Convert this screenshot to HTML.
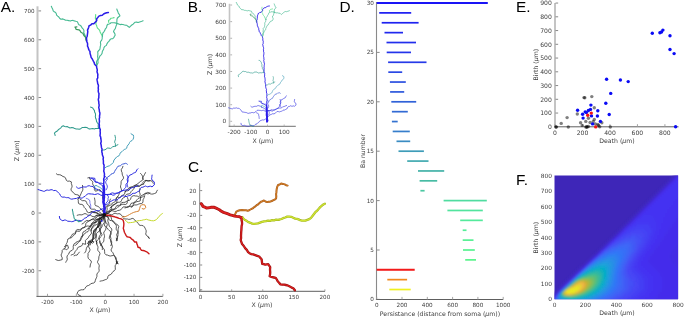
<!DOCTYPE html>
<html lang="en"><head><meta charset="utf-8"><title>Figure</title>
<style>html,body{margin:0;padding:0;background:#fff}svg{display:block}text{font-family:"DejaVu Sans","Liberation Sans",sans-serif}.pl{font-family:"Liberation Sans",sans-serif}</style>
</head><body>
<svg width="685" height="318" viewBox="0 0 685 318">
<rect width="685" height="318" fill="#fff"/>
<text class="pl" x="0.8" y="11.7" font-size="15.4" fill="#000">A.</text>
<text class="pl" x="187.7" y="11.6" font-size="15.4" fill="#000">B.</text>
<text class="pl" x="188" y="171.9" font-size="15.4" fill="#000">C.</text>
<text class="pl" x="339.5" y="11.7" font-size="15.4" fill="#000">D.</text>
<text class="pl" x="516" y="11.7" font-size="15.4" fill="#000">E.</text>
<text class="pl" x="516" y="185" font-size="15.4" fill="#000">F.</text>
<rect x="36.50" y="6.30" width="2" height="290.60" fill="#c4c4c4"/>
<line x1="36.50" y1="296.40" x2="162.80" y2="296.40" stroke="#5e5e5e" stroke-width="1"/>
<line x1="47.50" y1="296.40" x2="47.50" y2="293.80" stroke="#9a9a9a" stroke-width="0.9"/>
<text x="47.50" y="304.40" font-size="5.6" text-anchor="middle" fill="#3c3c3c">-200</text>
<line x1="76.35" y1="296.40" x2="76.35" y2="293.80" stroke="#9a9a9a" stroke-width="0.9"/>
<text x="76.35" y="304.40" font-size="5.6" text-anchor="middle" fill="#3c3c3c">-100</text>
<line x1="105.20" y1="296.40" x2="105.20" y2="293.80" stroke="#9a9a9a" stroke-width="0.9"/>
<text x="105.20" y="304.40" font-size="5.6" text-anchor="middle" fill="#3c3c3c">0</text>
<line x1="134.05" y1="296.40" x2="134.05" y2="293.80" stroke="#9a9a9a" stroke-width="0.9"/>
<text x="134.05" y="304.40" font-size="5.6" text-anchor="middle" fill="#3c3c3c">100</text>
<line x1="162.90" y1="296.40" x2="162.90" y2="293.80" stroke="#9a9a9a" stroke-width="0.9"/>
<text x="162.90" y="304.40" font-size="5.6" text-anchor="middle" fill="#3c3c3c">200</text>
<line x1="38.50" y1="10.91" x2="41.10" y2="10.91" stroke="#6a6a6a" stroke-width="0.8"/>
<text x="34.70" y="12.93" font-size="5.6" text-anchor="end" fill="#3c3c3c">700</text>
<line x1="38.50" y1="39.78" x2="41.10" y2="39.78" stroke="#6a6a6a" stroke-width="0.8"/>
<text x="34.70" y="41.80" font-size="5.6" text-anchor="end" fill="#3c3c3c">600</text>
<line x1="38.50" y1="68.65" x2="41.10" y2="68.65" stroke="#6a6a6a" stroke-width="0.8"/>
<text x="34.70" y="70.67" font-size="5.6" text-anchor="end" fill="#3c3c3c">500</text>
<line x1="38.50" y1="97.52" x2="41.10" y2="97.52" stroke="#6a6a6a" stroke-width="0.8"/>
<text x="34.70" y="99.54" font-size="5.6" text-anchor="end" fill="#3c3c3c">400</text>
<line x1="38.50" y1="126.39" x2="41.10" y2="126.39" stroke="#6a6a6a" stroke-width="0.8"/>
<text x="34.70" y="128.41" font-size="5.6" text-anchor="end" fill="#3c3c3c">300</text>
<line x1="38.50" y1="155.26" x2="41.10" y2="155.26" stroke="#6a6a6a" stroke-width="0.8"/>
<text x="34.70" y="157.28" font-size="5.6" text-anchor="end" fill="#3c3c3c">200</text>
<line x1="38.50" y1="184.13" x2="41.10" y2="184.13" stroke="#6a6a6a" stroke-width="0.8"/>
<text x="34.70" y="186.15" font-size="5.6" text-anchor="end" fill="#3c3c3c">100</text>
<line x1="38.50" y1="213.00" x2="41.10" y2="213.00" stroke="#6a6a6a" stroke-width="0.8"/>
<text x="34.70" y="215.02" font-size="5.6" text-anchor="end" fill="#3c3c3c">0</text>
<line x1="38.50" y1="241.87" x2="41.10" y2="241.87" stroke="#6a6a6a" stroke-width="0.8"/>
<text x="34.70" y="243.89" font-size="5.6" text-anchor="end" fill="#3c3c3c">-100</text>
<line x1="38.50" y1="270.74" x2="41.10" y2="270.74" stroke="#6a6a6a" stroke-width="0.8"/>
<text x="34.70" y="272.76" font-size="5.6" text-anchor="end" fill="#3c3c3c">-200</text>
<text x="100.00" y="311.60" font-size="6.2" text-anchor="middle" fill="#3c3c3c">X (<tspan font-style="italic">μ</tspan>m)</text>
<text x="18.70" y="150.80" font-size="6.2" text-anchor="middle" fill="#3c3c3c" transform="rotate(-90 18.70 150.80)">Z (<tspan font-style="italic">μ</tspan>m)</text>
<rect x="228.70" y="3.80" width="1.6" height="123.00" fill="#c4c4c4"/>
<line x1="228.70" y1="126.30" x2="295.80" y2="126.30" stroke="#707070" stroke-width="1"/>
<line x1="234.14" y1="126.30" x2="234.14" y2="124.50" stroke="#b0b0b0" stroke-width="0.9"/>
<text x="234.14" y="134.30" font-size="5.8" text-anchor="middle" fill="#3c3c3c">-200</text>
<line x1="250.82" y1="126.30" x2="250.82" y2="124.50" stroke="#b0b0b0" stroke-width="0.9"/>
<text x="250.82" y="134.30" font-size="5.8" text-anchor="middle" fill="#3c3c3c">-100</text>
<line x1="267.50" y1="126.30" x2="267.50" y2="124.50" stroke="#b0b0b0" stroke-width="0.9"/>
<text x="267.50" y="134.30" font-size="5.8" text-anchor="middle" fill="#3c3c3c">0</text>
<line x1="284.18" y1="126.30" x2="284.18" y2="124.50" stroke="#b0b0b0" stroke-width="0.9"/>
<text x="284.18" y="134.30" font-size="5.8" text-anchor="middle" fill="#3c3c3c">100</text>
<line x1="230.30" y1="5.03" x2="232.10" y2="5.03" stroke="#a0a0a0" stroke-width="0.8"/>
<text x="226.30" y="7.12" font-size="5.8" text-anchor="end" fill="#3c3c3c">700</text>
<line x1="230.30" y1="21.64" x2="232.10" y2="21.64" stroke="#a0a0a0" stroke-width="0.8"/>
<text x="226.30" y="23.73" font-size="5.8" text-anchor="end" fill="#3c3c3c">600</text>
<line x1="230.30" y1="38.25" x2="232.10" y2="38.25" stroke="#a0a0a0" stroke-width="0.8"/>
<text x="226.30" y="40.34" font-size="5.8" text-anchor="end" fill="#3c3c3c">500</text>
<line x1="230.30" y1="54.86" x2="232.10" y2="54.86" stroke="#a0a0a0" stroke-width="0.8"/>
<text x="226.30" y="56.95" font-size="5.8" text-anchor="end" fill="#3c3c3c">400</text>
<line x1="230.30" y1="71.47" x2="232.10" y2="71.47" stroke="#a0a0a0" stroke-width="0.8"/>
<text x="226.30" y="73.56" font-size="5.8" text-anchor="end" fill="#3c3c3c">300</text>
<line x1="230.30" y1="88.08" x2="232.10" y2="88.08" stroke="#a0a0a0" stroke-width="0.8"/>
<text x="226.30" y="90.17" font-size="5.8" text-anchor="end" fill="#3c3c3c">200</text>
<line x1="230.30" y1="104.69" x2="232.10" y2="104.69" stroke="#a0a0a0" stroke-width="0.8"/>
<text x="226.30" y="106.78" font-size="5.8" text-anchor="end" fill="#3c3c3c">100</text>
<line x1="230.30" y1="121.30" x2="232.10" y2="121.30" stroke="#a0a0a0" stroke-width="0.8"/>
<text x="226.30" y="123.39" font-size="5.8" text-anchor="end" fill="#3c3c3c">0</text>
<text x="263.00" y="142.90" font-size="6.2" text-anchor="middle" fill="#3c3c3c">X (<tspan font-style="italic">μ</tspan>m)</text>
<text x="211.80" y="64.40" font-size="6.2" text-anchor="middle" fill="#3c3c3c" transform="rotate(-90 211.80 64.40)">Z (<tspan font-style="italic">μ</tspan>m)</text>
<rect x="199.00" y="183.40" width="1.2" height="108.40" fill="#9a9a9a"/>
<line x1="199.00" y1="291.30" x2="325.00" y2="291.30" stroke="#5e5e5e" stroke-width="1"/>
<line x1="200.60" y1="291.30" x2="200.60" y2="289.30" stroke="#9a9a9a" stroke-width="0.9"/>
<text x="200.60" y="299.30" font-size="5.6" text-anchor="middle" fill="#3c3c3c">0</text>
<line x1="231.68" y1="291.30" x2="231.68" y2="289.30" stroke="#9a9a9a" stroke-width="0.9"/>
<text x="231.68" y="299.30" font-size="5.6" text-anchor="middle" fill="#3c3c3c">50</text>
<line x1="262.75" y1="291.30" x2="262.75" y2="289.30" stroke="#9a9a9a" stroke-width="0.9"/>
<text x="262.75" y="299.30" font-size="5.6" text-anchor="middle" fill="#3c3c3c">100</text>
<line x1="293.82" y1="291.30" x2="293.82" y2="289.30" stroke="#9a9a9a" stroke-width="0.9"/>
<text x="293.82" y="299.30" font-size="5.6" text-anchor="middle" fill="#3c3c3c">150</text>
<line x1="324.90" y1="291.30" x2="324.90" y2="289.30" stroke="#9a9a9a" stroke-width="0.9"/>
<text x="324.90" y="299.30" font-size="5.6" text-anchor="middle" fill="#3c3c3c">200</text>
<line x1="200.20" y1="190.60" x2="202.20" y2="190.60" stroke="#6a6a6a" stroke-width="0.8"/>
<text x="196.40" y="192.62" font-size="5.6" text-anchor="end" fill="#3c3c3c">20</text>
<line x1="200.20" y1="203.00" x2="202.20" y2="203.00" stroke="#6a6a6a" stroke-width="0.8"/>
<text x="196.40" y="205.02" font-size="5.6" text-anchor="end" fill="#3c3c3c">0</text>
<line x1="200.20" y1="215.40" x2="202.20" y2="215.40" stroke="#6a6a6a" stroke-width="0.8"/>
<text x="196.40" y="217.42" font-size="5.6" text-anchor="end" fill="#3c3c3c">-20</text>
<line x1="200.20" y1="227.80" x2="202.20" y2="227.80" stroke="#6a6a6a" stroke-width="0.8"/>
<text x="196.40" y="229.82" font-size="5.6" text-anchor="end" fill="#3c3c3c">-40</text>
<line x1="200.20" y1="240.20" x2="202.20" y2="240.20" stroke="#6a6a6a" stroke-width="0.8"/>
<text x="196.40" y="242.22" font-size="5.6" text-anchor="end" fill="#3c3c3c">-60</text>
<line x1="200.20" y1="252.60" x2="202.20" y2="252.60" stroke="#6a6a6a" stroke-width="0.8"/>
<text x="196.40" y="254.62" font-size="5.6" text-anchor="end" fill="#3c3c3c">-80</text>
<line x1="200.20" y1="265.00" x2="202.20" y2="265.00" stroke="#6a6a6a" stroke-width="0.8"/>
<text x="196.40" y="267.02" font-size="5.6" text-anchor="end" fill="#3c3c3c">-100</text>
<line x1="200.20" y1="277.40" x2="202.20" y2="277.40" stroke="#6a6a6a" stroke-width="0.8"/>
<text x="196.40" y="279.42" font-size="5.6" text-anchor="end" fill="#3c3c3c">-120</text>
<line x1="200.20" y1="289.80" x2="202.20" y2="289.80" stroke="#6a6a6a" stroke-width="0.8"/>
<text x="196.40" y="291.82" font-size="5.6" text-anchor="end" fill="#3c3c3c">-140</text>
<text x="262.00" y="307.00" font-size="6.2" text-anchor="middle" fill="#3c3c3c">X (<tspan font-style="italic">μ</tspan>m)</text>
<text x="181.60" y="236.80" font-size="6.2" text-anchor="middle" fill="#3c3c3c" transform="rotate(-90 181.60 236.80)">Z (<tspan font-style="italic">μ</tspan>m)</text>
<rect x="375.95" y="2.00" width="1.1" height="298.00" fill="#8a8a8a"/>
<line x1="375.95" y1="299.50" x2="503.20" y2="299.50" stroke="#5e5e5e" stroke-width="1"/>
<line x1="376.70" y1="299.50" x2="376.70" y2="296.90" stroke="#9a9a9a" stroke-width="0.9"/>
<text x="376.70" y="307.10" font-size="5.7" text-anchor="middle" fill="#3c3c3c">0</text>
<line x1="402.00" y1="299.50" x2="402.00" y2="296.90" stroke="#9a9a9a" stroke-width="0.9"/>
<text x="402.00" y="307.10" font-size="5.7" text-anchor="middle" fill="#3c3c3c">200</text>
<line x1="427.30" y1="299.50" x2="427.30" y2="296.90" stroke="#9a9a9a" stroke-width="0.9"/>
<text x="427.30" y="307.10" font-size="5.7" text-anchor="middle" fill="#3c3c3c">400</text>
<line x1="452.60" y1="299.50" x2="452.60" y2="296.90" stroke="#9a9a9a" stroke-width="0.9"/>
<text x="452.60" y="307.10" font-size="5.7" text-anchor="middle" fill="#3c3c3c">600</text>
<line x1="477.90" y1="299.50" x2="477.90" y2="296.90" stroke="#9a9a9a" stroke-width="0.9"/>
<text x="477.90" y="307.10" font-size="5.7" text-anchor="middle" fill="#3c3c3c">800</text>
<line x1="503.20" y1="299.50" x2="503.20" y2="296.90" stroke="#9a9a9a" stroke-width="0.9"/>
<text x="503.20" y="307.10" font-size="5.7" text-anchor="middle" fill="#3c3c3c">1000</text>
<line x1="377.05" y1="299.40" x2="379.65" y2="299.40" stroke="#6a6a6a" stroke-width="0.8"/>
<text x="373.90" y="301.45" font-size="5.7" text-anchor="end" fill="#3c3c3c">0</text>
<line x1="377.05" y1="250.00" x2="379.65" y2="250.00" stroke="#6a6a6a" stroke-width="0.8"/>
<text x="373.90" y="252.05" font-size="5.7" text-anchor="end" fill="#3c3c3c">5</text>
<line x1="377.05" y1="200.60" x2="379.65" y2="200.60" stroke="#6a6a6a" stroke-width="0.8"/>
<text x="373.90" y="202.65" font-size="5.7" text-anchor="end" fill="#3c3c3c">10</text>
<line x1="377.05" y1="151.20" x2="379.65" y2="151.20" stroke="#6a6a6a" stroke-width="0.8"/>
<text x="373.90" y="153.25" font-size="5.7" text-anchor="end" fill="#3c3c3c">15</text>
<line x1="377.05" y1="101.80" x2="379.65" y2="101.80" stroke="#6a6a6a" stroke-width="0.8"/>
<text x="373.90" y="103.85" font-size="5.7" text-anchor="end" fill="#3c3c3c">20</text>
<line x1="377.05" y1="52.40" x2="379.65" y2="52.40" stroke="#6a6a6a" stroke-width="0.8"/>
<text x="373.90" y="54.45" font-size="5.7" text-anchor="end" fill="#3c3c3c">25</text>
<line x1="377.05" y1="3.00" x2="379.65" y2="3.00" stroke="#6a6a6a" stroke-width="0.8"/>
<text x="373.90" y="5.05" font-size="5.7" text-anchor="end" fill="#3c3c3c">30</text>
<text x="440.00" y="315.80" font-size="6.2" text-anchor="middle" fill="#3c3c3c">Persistance (distance from soma (<tspan font-style="italic">μ</tspan>m))</text>
<text x="364.50" y="151.00" font-size="6.2" text-anchor="middle" fill="#3c3c3c" transform="rotate(-90 364.50 151.00)">Ba number</text>
<rect x="376.7" y="2.00" width="111.1" height="2.0" fill="#1a14f5"/>
<rect x="379.2" y="12.03" width="32.0" height="1.7" fill="#1c1cf2"/>
<rect x="381.7" y="21.91" width="36.9" height="1.7" fill="#1e22f0"/>
<rect x="384.5" y="31.79" width="18.5" height="1.7" fill="#2028ee"/>
<rect x="386.5" y="41.67" width="29.5" height="1.7" fill="#222eec"/>
<rect x="386.7" y="51.55" width="24.3" height="1.7" fill="#2434ea"/>
<rect x="388.1" y="61.43" width="38.4" height="1.7" fill="#263ae8"/>
<rect x="388.3" y="71.31" width="13.9" height="1.7" fill="#2a48e4"/>
<rect x="389.9" y="81.19" width="15.9" height="1.7" fill="#2c50e0"/>
<rect x="390.1" y="91.07" width="14.1" height="1.7" fill="#2e58dc"/>
<rect x="391.3" y="100.95" width="24.9" height="1.7" fill="#3062d8"/>
<rect x="391.9" y="110.83" width="15.9" height="1.7" fill="#326ad4"/>
<rect x="391.9" y="120.71" width="5.8" height="1.7" fill="#3472d0"/>
<rect x="392.7" y="130.59" width="17.1" height="1.7" fill="#367ecb"/>
<rect x="396.5" y="140.47" width="13.7" height="1.7" fill="#3a8cc2"/>
<rect x="398.5" y="150.35" width="25.4" height="1.7" fill="#3e9cb8"/>
<rect x="407.2" y="160.23" width="21.3" height="1.7" fill="#42aab0"/>
<rect x="418.0" y="170.11" width="26.2" height="1.7" fill="#44b2a8"/>
<rect x="419.6" y="179.99" width="17.6" height="1.7" fill="#48bca4"/>
<rect x="420.4" y="189.87" width="4.2" height="1.7" fill="#4cc8a2"/>
<rect x="443.6" y="199.75" width="43.2" height="1.7" fill="#50dca0"/>
<rect x="447.4" y="209.63" width="35.4" height="1.7" fill="#52e49e"/>
<rect x="460.2" y="219.51" width="22.6" height="1.7" fill="#54ea9c"/>
<rect x="462.7" y="229.39" width="3.8" height="1.7" fill="#56ee98"/>
<rect x="462.7" y="239.27" width="10.8" height="1.7" fill="#58f094"/>
<rect x="463.0" y="249.15" width="11.8" height="1.7" fill="#58f290"/>
<rect x="465.2" y="259.03" width="10.8" height="1.7" fill="#5af48c"/>
<rect x="376.7" y="268.76" width="38.0" height="2.0" fill="#f21a1a"/>
<rect x="387.3" y="278.79" width="19.8" height="1.7" fill="#f08a1e"/>
<rect x="389.3" y="288.67" width="21.4" height="1.7" fill="#f0f01e"/>
<rect x="554.45" y="3.00" width="1.1" height="124.30" fill="#959595"/>
<line x1="554.45" y1="126.80" x2="678.50" y2="126.80" stroke="#5e5e5e" stroke-width="1"/>
<line x1="555.00" y1="126.80" x2="555.00" y2="124.20" stroke="#9a9a9a" stroke-width="0.9"/>
<text x="555.00" y="135.10" font-size="6.1" text-anchor="middle" fill="#3c3c3c">0</text>
<line x1="582.48" y1="126.80" x2="582.48" y2="124.20" stroke="#9a9a9a" stroke-width="0.9"/>
<text x="582.48" y="135.10" font-size="6.1" text-anchor="middle" fill="#3c3c3c">200</text>
<line x1="609.96" y1="126.80" x2="609.96" y2="124.20" stroke="#9a9a9a" stroke-width="0.9"/>
<text x="609.96" y="135.10" font-size="6.1" text-anchor="middle" fill="#3c3c3c">400</text>
<line x1="637.44" y1="126.80" x2="637.44" y2="124.20" stroke="#9a9a9a" stroke-width="0.9"/>
<text x="637.44" y="135.10" font-size="6.1" text-anchor="middle" fill="#3c3c3c">600</text>
<line x1="664.92" y1="126.80" x2="664.92" y2="124.20" stroke="#9a9a9a" stroke-width="0.9"/>
<text x="664.92" y="135.10" font-size="6.1" text-anchor="middle" fill="#3c3c3c">800</text>
<line x1="555.55" y1="126.80" x2="558.15" y2="126.80" stroke="#6a6a6a" stroke-width="0.8"/>
<text x="551.80" y="129.00" font-size="6.1" text-anchor="end" fill="#3c3c3c">0</text>
<line x1="555.55" y1="113.05" x2="558.15" y2="113.05" stroke="#6a6a6a" stroke-width="0.8"/>
<text x="551.80" y="115.25" font-size="6.1" text-anchor="end" fill="#3c3c3c">100</text>
<line x1="555.55" y1="99.30" x2="558.15" y2="99.30" stroke="#6a6a6a" stroke-width="0.8"/>
<text x="551.80" y="101.50" font-size="6.1" text-anchor="end" fill="#3c3c3c">200</text>
<line x1="555.55" y1="85.55" x2="558.15" y2="85.55" stroke="#6a6a6a" stroke-width="0.8"/>
<text x="551.80" y="87.75" font-size="6.1" text-anchor="end" fill="#3c3c3c">300</text>
<line x1="555.55" y1="71.80" x2="558.15" y2="71.80" stroke="#6a6a6a" stroke-width="0.8"/>
<text x="551.80" y="74.00" font-size="6.1" text-anchor="end" fill="#3c3c3c">400</text>
<line x1="555.55" y1="58.05" x2="558.15" y2="58.05" stroke="#6a6a6a" stroke-width="0.8"/>
<text x="551.80" y="60.25" font-size="6.1" text-anchor="end" fill="#3c3c3c">500</text>
<line x1="555.55" y1="44.30" x2="558.15" y2="44.30" stroke="#6a6a6a" stroke-width="0.8"/>
<text x="551.80" y="46.50" font-size="6.1" text-anchor="end" fill="#3c3c3c">600</text>
<line x1="555.55" y1="30.55" x2="558.15" y2="30.55" stroke="#6a6a6a" stroke-width="0.8"/>
<text x="551.80" y="32.75" font-size="6.1" text-anchor="end" fill="#3c3c3c">700</text>
<line x1="555.55" y1="16.80" x2="558.15" y2="16.80" stroke="#6a6a6a" stroke-width="0.8"/>
<text x="551.80" y="19.00" font-size="6.1" text-anchor="end" fill="#3c3c3c">800</text>
<line x1="555.55" y1="3.05" x2="558.15" y2="3.05" stroke="#6a6a6a" stroke-width="0.8"/>
<text x="551.80" y="5.25" font-size="6.1" text-anchor="end" fill="#3c3c3c">900</text>
<text x="617.00" y="143.20" font-size="6.2" text-anchor="middle" fill="#3c3c3c">Death (<tspan font-style="italic">μ</tspan>m)</text>
<text x="538.30" y="64.70" font-size="6.2" text-anchor="middle" fill="#3c3c3c" transform="rotate(-90 538.30 64.70)">Birth (<tspan font-style="italic">μ</tspan>m)</text>
<circle cx="584.0" cy="97.6" r="1.7" fill="#000" fill-opacity="0.5"/>
<circle cx="584.8" cy="97.7" r="1.7" fill="#000" fill-opacity="0.5"/>
<circle cx="591.8" cy="96.6" r="1.7" fill="#000" fill-opacity="0.5"/>
<circle cx="594.3" cy="107.7" r="1.7" fill="#000" fill-opacity="0.5"/>
<circle cx="577.3" cy="114" r="1.7" fill="#000" fill-opacity="0.5"/>
<circle cx="567.1" cy="117.6" r="1.7" fill="#000" fill-opacity="0.5"/>
<circle cx="561.2" cy="123.4" r="1.7" fill="#000" fill-opacity="0.5"/>
<circle cx="556.1" cy="127" r="1.7" fill="#000" fill-opacity="0.5"/>
<circle cx="556.1" cy="127" r="1.7" fill="#000" fill-opacity="0.5"/>
<circle cx="568.3" cy="127" r="1.7" fill="#000" fill-opacity="0.5"/>
<circle cx="580.6" cy="122.7" r="1.7" fill="#000" fill-opacity="0.5"/>
<circle cx="582.3" cy="125.4" r="1.7" fill="#000" fill-opacity="0.5"/>
<circle cx="585.8" cy="121.4" r="1.7" fill="#000" fill-opacity="0.5"/>
<circle cx="588.4" cy="118.3" r="1.7" fill="#000" fill-opacity="0.5"/>
<circle cx="594.3" cy="119.4" r="1.7" fill="#000" fill-opacity="0.5"/>
<circle cx="593.3" cy="121.4" r="1.7" fill="#000" fill-opacity="0.5"/>
<circle cx="590.1" cy="122.5" r="1.7" fill="#000" fill-opacity="0.5"/>
<circle cx="586.9" cy="127" r="1.7" fill="#000" fill-opacity="0.5"/>
<circle cx="586.9" cy="127" r="1.7" fill="#000" fill-opacity="0.5"/>
<circle cx="588.4" cy="126.5" r="1.7" fill="#000" fill-opacity="0.5"/>
<circle cx="585.8" cy="127" r="1.7" fill="#000" fill-opacity="0.5"/>
<circle cx="595.4" cy="124" r="1.7" fill="#000" fill-opacity="0.5"/>
<circle cx="598" cy="124.4" r="1.7" fill="#000" fill-opacity="0.5"/>
<circle cx="599.7" cy="126.8" r="1.7" fill="#000" fill-opacity="0.5"/>
<circle cx="601.8" cy="122.8" r="1.7" fill="#000" fill-opacity="0.5"/>
<circle cx="610.3" cy="127" r="1.7" fill="#000" fill-opacity="0.5"/>
<circle cx="598.5" cy="125.4" r="1.7" fill="#000" fill-opacity="0.5"/>
<circle cx="610.7" cy="93.4" r="1.7" fill="#0a0af5"/>
<circle cx="605.8" cy="103.2" r="1.7" fill="#0a0af5"/>
<circle cx="609.2" cy="114.5" r="1.7" fill="#0a0af5"/>
<circle cx="590.9" cy="105.1" r="1.7" fill="#0a0af5"/>
<circle cx="577.6" cy="110.2" r="1.7" fill="#0a0af5"/>
<circle cx="590.5" cy="109.4" r="1.7" fill="#0a0af5"/>
<circle cx="588.4" cy="110.5" r="1.7" fill="#0a0af5"/>
<circle cx="585.2" cy="111.9" r="1.7" fill="#0a0af5"/>
<circle cx="586.4" cy="112.6" r="1.7" fill="#0a0af5"/>
<circle cx="597.8" cy="110.7" r="1.7" fill="#0a0af5"/>
<circle cx="582.6" cy="114.3" r="1.7" fill="#0a0af5"/>
<circle cx="591.5" cy="115.9" r="1.7" fill="#0a0af5"/>
<circle cx="597.4" cy="116" r="1.7" fill="#0a0af5"/>
<circle cx="583.1" cy="118.1" r="1.7" fill="#0a0af5"/>
<circle cx="600.4" cy="121.4" r="1.7" fill="#0a0af5"/>
<circle cx="592.6" cy="123.9" r="1.7" fill="#0a0af5"/>
<circle cx="652.3" cy="33.2" r="1.7" fill="#0a0af5"/>
<circle cx="659.9" cy="32.8" r="1.7" fill="#0a0af5"/>
<circle cx="661.5" cy="32" r="1.7" fill="#0a0af5"/>
<circle cx="662.9" cy="30.1" r="1.7" fill="#0a0af5"/>
<circle cx="670" cy="35.8" r="1.7" fill="#0a0af5"/>
<circle cx="670" cy="49.5" r="1.7" fill="#0a0af5"/>
<circle cx="674.1" cy="53.6" r="1.7" fill="#0a0af5"/>
<circle cx="675.6" cy="126.8" r="1.7" fill="#0a0af5"/>
<circle cx="606.6" cy="79.3" r="1.7" fill="#0a0af5"/>
<circle cx="620.4" cy="80" r="1.7" fill="#0a0af5"/>
<circle cx="628.2" cy="81.6" r="1.7" fill="#0a0af5"/>
<circle cx="591.3" cy="113.1" r="1.7" fill="#f51414"/>
<circle cx="587.7" cy="115.3" r="1.7" fill="#f51414"/>
<circle cx="595.7" cy="126.9" r="1.7" fill="#f51414"/>
<defs><clipPath id="hc"><rect x="554.5" y="175.6" width="123.6" height="123.7"/></clipPath><filter id="hb" x="-5%" y="-5%" width="110%" height="110%"><feGaussianBlur stdDeviation="0.9"/></filter></defs>
<g clip-path="url(#hc)"><rect x="550.5" y="171.6" width="131.6" height="131.7" fill="#3e26b8"/><g filter="url(#hb)">
<rect x="550.5" y="301.3" width="2.3" height="2.3" fill="#4739f7"/>
<rect x="552.5" y="301.3" width="2.3" height="2.3" fill="#4654fb"/>
<rect x="554.5" y="301.3" width="2.3" height="2.3" fill="#406bfc"/>
<rect x="556.5" y="301.3" width="2.3" height="2.3" fill="#3b71fc"/>
<rect x="558.5" y="301.3" width="2.3" height="2.3" fill="#3677fc"/>
<rect x="560.5" y="301.3" width="2.3" height="2.3" fill="#317efb"/>
<rect x="562.5" y="301.3" width="2.3" height="2.3" fill="#2e85f8"/>
<rect x="564.5" y="301.3" width="2.3" height="2.3" fill="#2d8cf3"/>
<rect x="566.5" y="301.3" width="4.3" height="2.3" fill="#2c90f0"/>
<rect x="570.5" y="301.3" width="4.3" height="2.3" fill="#2a93ed"/>
<rect x="574.5" y="301.3" width="4.3" height="2.3" fill="#2c90f0"/>
<rect x="578.5" y="301.3" width="4.3" height="2.3" fill="#2d8cf3"/>
<rect x="582.5" y="301.3" width="2.3" height="2.3" fill="#2d89f5"/>
<rect x="584.5" y="301.3" width="2.3" height="2.3" fill="#2e85f8"/>
<rect x="586.5" y="301.3" width="2.3" height="2.3" fill="#2f82fa"/>
<rect x="588.5" y="301.3" width="2.3" height="2.3" fill="#317efb"/>
<rect x="590.5" y="301.3" width="2.3" height="2.3" fill="#3677fc"/>
<rect x="592.5" y="301.3" width="2.3" height="2.3" fill="#3874fc"/>
<rect x="594.5" y="301.3" width="2.3" height="2.3" fill="#3b71fc"/>
<rect x="596.5" y="301.3" width="2.3" height="2.3" fill="#3e6efc"/>
<rect x="598.5" y="301.3" width="2.3" height="2.3" fill="#4265fc"/>
<rect x="600.5" y="301.3" width="2.3" height="2.3" fill="#435ffb"/>
<rect x="602.5" y="301.3" width="4.3" height="2.3" fill="#445afb"/>
<rect x="606.5" y="301.3" width="2.3" height="2.3" fill="#4654fb"/>
<rect x="608.5" y="301.3" width="2.3" height="2.3" fill="#474efa"/>
<rect x="610.5" y="301.3" width="4.3" height="2.3" fill="#4849fa"/>
<rect x="614.5" y="301.3" width="4.3" height="2.3" fill="#4744f9"/>
<rect x="618.5" y="301.3" width="6.3" height="2.3" fill="#473ff8"/>
<rect x="624.5" y="301.3" width="6.3" height="2.3" fill="#4739f7"/>
<rect x="630.5" y="301.3" width="8.3" height="2.3" fill="#4634f6"/>
<rect x="638.5" y="301.3" width="10.3" height="2.3" fill="#4630f4"/>
<rect x="648.5" y="301.3" width="22.3" height="2.3" fill="#452fee"/>
<rect x="670.5" y="301.3" width="12.3" height="2.3" fill="#452de8"/>
<rect x="550.5" y="299.3" width="2.3" height="2.3" fill="#442ce2"/>
<rect x="552.5" y="299.3" width="2.3" height="2.3" fill="#4744f9"/>
<rect x="554.5" y="299.3" width="2.3" height="2.3" fill="#406bfc"/>
<rect x="556.5" y="299.3" width="2.3" height="2.3" fill="#347afd"/>
<rect x="558.5" y="299.3" width="2.3" height="2.3" fill="#2d89f5"/>
<rect x="560.5" y="299.3" width="2.3" height="2.3" fill="#2a93ed"/>
<rect x="562.5" y="299.3" width="2.3" height="2.3" fill="#269ae9"/>
<rect x="564.5" y="299.3" width="2.3" height="2.3" fill="#23a0e5"/>
<rect x="566.5" y="299.3" width="2.3" height="2.3" fill="#1fa6e2"/>
<rect x="568.5" y="299.3" width="6.3" height="2.3" fill="#1da9e0"/>
<rect x="574.5" y="299.3" width="2.3" height="2.3" fill="#1fa6e2"/>
<rect x="576.5" y="299.3" width="2.3" height="2.3" fill="#21a3e3"/>
<rect x="578.5" y="299.3" width="2.3" height="2.3" fill="#23a0e5"/>
<rect x="580.5" y="299.3" width="2.3" height="2.3" fill="#259de7"/>
<rect x="582.5" y="299.3" width="2.3" height="2.3" fill="#269ae9"/>
<rect x="584.5" y="299.3" width="2.3" height="2.3" fill="#2797eb"/>
<rect x="586.5" y="299.3" width="2.3" height="2.3" fill="#2a93ed"/>
<rect x="588.5" y="299.3" width="2.3" height="2.3" fill="#2d8cf3"/>
<rect x="590.5" y="299.3" width="2.3" height="2.3" fill="#2d89f5"/>
<rect x="592.5" y="299.3" width="2.3" height="2.3" fill="#2f82fa"/>
<rect x="594.5" y="299.3" width="2.3" height="2.3" fill="#317efb"/>
<rect x="596.5" y="299.3" width="2.3" height="2.3" fill="#3677fc"/>
<rect x="598.5" y="299.3" width="2.3" height="2.3" fill="#3874fc"/>
<rect x="600.5" y="299.3" width="2.3" height="2.3" fill="#3e6efc"/>
<rect x="602.5" y="299.3" width="2.3" height="2.3" fill="#406bfc"/>
<rect x="604.5" y="299.3" width="2.3" height="2.3" fill="#4265fc"/>
<rect x="606.5" y="299.3" width="2.3" height="2.3" fill="#435ffb"/>
<rect x="608.5" y="299.3" width="2.3" height="2.3" fill="#445afb"/>
<rect x="610.5" y="299.3" width="2.3" height="2.3" fill="#4654fb"/>
<rect x="612.5" y="299.3" width="4.3" height="2.3" fill="#474efa"/>
<rect x="616.5" y="299.3" width="4.3" height="2.3" fill="#4849fa"/>
<rect x="620.5" y="299.3" width="4.3" height="2.3" fill="#4744f9"/>
<rect x="624.5" y="299.3" width="4.3" height="2.3" fill="#473ff8"/>
<rect x="628.5" y="299.3" width="6.3" height="2.3" fill="#4739f7"/>
<rect x="634.5" y="299.3" width="8.3" height="2.3" fill="#4634f6"/>
<rect x="642.5" y="299.3" width="8.3" height="2.3" fill="#4630f4"/>
<rect x="650.5" y="299.3" width="22.3" height="2.3" fill="#452fee"/>
<rect x="672.5" y="299.3" width="10.3" height="2.3" fill="#452de8"/>
<rect x="550.5" y="297.3" width="2.3" height="2.3" fill="#4028c9"/>
<rect x="552.5" y="297.3" width="2.3" height="2.3" fill="#452de8"/>
<rect x="554.5" y="297.3" width="2.3" height="2.3" fill="#4654fb"/>
<rect x="556.5" y="297.3" width="2.3" height="2.3" fill="#317efb"/>
<rect x="558.5" y="297.3" width="2.3" height="2.3" fill="#2797eb"/>
<rect x="560.5" y="297.3" width="2.3" height="2.3" fill="#1fa6e2"/>
<rect x="562.5" y="297.3" width="2.3" height="2.3" fill="#12b1d7"/>
<rect x="564.5" y="297.3" width="2.3" height="2.3" fill="#02b7cb"/>
<rect x="566.5" y="297.3" width="2.3" height="2.3" fill="#03bbc2"/>
<rect x="568.5" y="297.3" width="6.3" height="2.3" fill="#0abdbe"/>
<rect x="574.5" y="297.3" width="2.3" height="2.3" fill="#03bbc2"/>
<rect x="576.5" y="297.3" width="2.3" height="2.3" fill="#02b7cb"/>
<rect x="578.5" y="297.3" width="2.3" height="2.3" fill="#06b5cf"/>
<rect x="580.5" y="297.3" width="2.3" height="2.3" fill="#12b1d7"/>
<rect x="582.5" y="297.3" width="2.3" height="2.3" fill="#17aeda"/>
<rect x="584.5" y="297.3" width="2.3" height="2.3" fill="#1da9e0"/>
<rect x="586.5" y="297.3" width="2.3" height="2.3" fill="#21a3e3"/>
<rect x="588.5" y="297.3" width="2.3" height="2.3" fill="#259de7"/>
<rect x="590.5" y="297.3" width="2.3" height="2.3" fill="#269ae9"/>
<rect x="592.5" y="297.3" width="2.3" height="2.3" fill="#2a93ed"/>
<rect x="594.5" y="297.3" width="2.3" height="2.3" fill="#2d8cf3"/>
<rect x="596.5" y="297.3" width="2.3" height="2.3" fill="#2e85f8"/>
<rect x="598.5" y="297.3" width="2.3" height="2.3" fill="#317efb"/>
<rect x="600.5" y="297.3" width="2.3" height="2.3" fill="#3677fc"/>
<rect x="602.5" y="297.3" width="2.3" height="2.3" fill="#3874fc"/>
<rect x="604.5" y="297.3" width="2.3" height="2.3" fill="#3e6efc"/>
<rect x="606.5" y="297.3" width="2.3" height="2.3" fill="#406bfc"/>
<rect x="608.5" y="297.3" width="2.3" height="2.3" fill="#4265fc"/>
<rect x="610.5" y="297.3" width="2.3" height="2.3" fill="#435ffb"/>
<rect x="612.5" y="297.3" width="2.3" height="2.3" fill="#445afb"/>
<rect x="614.5" y="297.3" width="4.3" height="2.3" fill="#4654fb"/>
<rect x="618.5" y="297.3" width="2.3" height="2.3" fill="#474efa"/>
<rect x="620.5" y="297.3" width="4.3" height="2.3" fill="#4849fa"/>
<rect x="624.5" y="297.3" width="4.3" height="2.3" fill="#4744f9"/>
<rect x="628.5" y="297.3" width="4.3" height="2.3" fill="#473ff8"/>
<rect x="632.5" y="297.3" width="6.3" height="2.3" fill="#4739f7"/>
<rect x="638.5" y="297.3" width="6.3" height="2.3" fill="#4634f6"/>
<rect x="644.5" y="297.3" width="10.3" height="2.3" fill="#4630f4"/>
<rect x="654.5" y="297.3" width="20.3" height="2.3" fill="#452fee"/>
<rect x="674.5" y="297.3" width="8.3" height="2.3" fill="#452de8"/>
<rect x="552.5" y="295.3" width="2.3" height="2.3" fill="#4028c9"/>
<rect x="554.5" y="295.3" width="2.3" height="2.3" fill="#4630f4"/>
<rect x="556.5" y="295.3" width="2.3" height="2.3" fill="#3b71fc"/>
<rect x="558.5" y="295.3" width="2.3" height="2.3" fill="#23a0e5"/>
<rect x="560.5" y="295.3" width="2.3" height="2.3" fill="#02b7cb"/>
<rect x="562.5" y="295.3" width="2.3" height="2.3" fill="#28c2ab"/>
<rect x="564.5" y="295.3" width="2.3" height="2.3" fill="#3dc990"/>
<rect x="566.5" y="295.3" width="2.3" height="2.3" fill="#4bcb84"/>
<rect x="568.5" y="295.3" width="4.3" height="2.3" fill="#53cc7d"/>
<rect x="572.5" y="295.3" width="2.3" height="2.3" fill="#4bcb84"/>
<rect x="574.5" y="295.3" width="2.3" height="2.3" fill="#3dc990"/>
<rect x="576.5" y="295.3" width="2.3" height="2.3" fill="#34c79c"/>
<rect x="578.5" y="295.3" width="2.3" height="2.3" fill="#28c2ab"/>
<rect x="580.5" y="295.3" width="2.3" height="2.3" fill="#1ac0b4"/>
<rect x="582.5" y="295.3" width="2.3" height="2.3" fill="#0abdbe"/>
<rect x="584.5" y="295.3" width="2.3" height="2.3" fill="#02b7cb"/>
<rect x="586.5" y="295.3" width="2.3" height="2.3" fill="#0cb3d3"/>
<rect x="588.5" y="295.3" width="2.3" height="2.3" fill="#17aeda"/>
<rect x="590.5" y="295.3" width="2.3" height="2.3" fill="#1da9e0"/>
<rect x="592.5" y="295.3" width="2.3" height="2.3" fill="#21a3e3"/>
<rect x="594.5" y="295.3" width="2.3" height="2.3" fill="#269ae9"/>
<rect x="596.5" y="295.3" width="2.3" height="2.3" fill="#2a93ed"/>
<rect x="598.5" y="295.3" width="2.3" height="2.3" fill="#2d8cf3"/>
<rect x="600.5" y="295.3" width="2.3" height="2.3" fill="#2e85f8"/>
<rect x="602.5" y="295.3" width="2.3" height="2.3" fill="#317efb"/>
<rect x="604.5" y="295.3" width="2.3" height="2.3" fill="#3677fc"/>
<rect x="606.5" y="295.3" width="2.3" height="2.3" fill="#3874fc"/>
<rect x="608.5" y="295.3" width="2.3" height="2.3" fill="#3e6efc"/>
<rect x="610.5" y="295.3" width="2.3" height="2.3" fill="#406bfc"/>
<rect x="612.5" y="295.3" width="2.3" height="2.3" fill="#4265fc"/>
<rect x="614.5" y="295.3" width="2.3" height="2.3" fill="#435ffb"/>
<rect x="616.5" y="295.3" width="2.3" height="2.3" fill="#445afb"/>
<rect x="618.5" y="295.3" width="4.3" height="2.3" fill="#4654fb"/>
<rect x="622.5" y="295.3" width="2.3" height="2.3" fill="#474efa"/>
<rect x="624.5" y="295.3" width="4.3" height="2.3" fill="#4849fa"/>
<rect x="628.5" y="295.3" width="4.3" height="2.3" fill="#4744f9"/>
<rect x="632.5" y="295.3" width="4.3" height="2.3" fill="#473ff8"/>
<rect x="636.5" y="295.3" width="4.3" height="2.3" fill="#4739f7"/>
<rect x="640.5" y="295.3" width="6.3" height="2.3" fill="#4634f6"/>
<rect x="646.5" y="295.3" width="10.3" height="2.3" fill="#4630f4"/>
<rect x="656.5" y="295.3" width="20.3" height="2.3" fill="#452fee"/>
<rect x="676.5" y="295.3" width="6.3" height="2.3" fill="#452de8"/>
<rect x="552.5" y="293.3" width="2.3" height="2.3" fill="#3f27c1"/>
<rect x="554.5" y="293.3" width="2.3" height="2.3" fill="#422ad2"/>
<rect x="556.5" y="293.3" width="2.3" height="2.3" fill="#473ff8"/>
<rect x="558.5" y="293.3" width="2.3" height="2.3" fill="#2c90f0"/>
<rect x="560.5" y="293.3" width="2.3" height="2.3" fill="#28c2ab"/>
<rect x="562.5" y="293.3" width="2.3" height="2.3" fill="#94ca4a"/>
<rect x="564.5" y="293.3" width="2.3" height="2.3" fill="#debc2a"/>
<rect x="566.5" y="293.3" width="4.3" height="2.3" fill="#f7ba3c"/>
<rect x="570.5" y="293.3" width="2.3" height="2.3" fill="#ebba32"/>
<rect x="572.5" y="293.3" width="2.3" height="2.3" fill="#d0bf27"/>
<rect x="574.5" y="293.3" width="2.3" height="2.3" fill="#afc637"/>
<rect x="576.5" y="293.3" width="2.3" height="2.3" fill="#8acb51"/>
<rect x="578.5" y="293.3" width="2.3" height="2.3" fill="#64cd6f"/>
<rect x="580.5" y="293.3" width="2.3" height="2.3" fill="#4bcb84"/>
<rect x="582.5" y="293.3" width="2.3" height="2.3" fill="#34c79c"/>
<rect x="584.5" y="293.3" width="2.3" height="2.3" fill="#28c2ab"/>
<rect x="586.5" y="293.3" width="2.3" height="2.3" fill="#1ac0b4"/>
<rect x="588.5" y="293.3" width="2.3" height="2.3" fill="#03bbc2"/>
<rect x="590.5" y="293.3" width="2.3" height="2.3" fill="#06b5cf"/>
<rect x="592.5" y="293.3" width="2.3" height="2.3" fill="#12b1d7"/>
<rect x="594.5" y="293.3" width="2.3" height="2.3" fill="#1da9e0"/>
<rect x="596.5" y="293.3" width="2.3" height="2.3" fill="#23a0e5"/>
<rect x="598.5" y="293.3" width="2.3" height="2.3" fill="#269ae9"/>
<rect x="600.5" y="293.3" width="2.3" height="2.3" fill="#2c90f0"/>
<rect x="602.5" y="293.3" width="2.3" height="2.3" fill="#2d89f5"/>
<rect x="604.5" y="293.3" width="2.3" height="2.3" fill="#2f82fa"/>
<rect x="606.5" y="293.3" width="2.3" height="2.3" fill="#347afd"/>
<rect x="608.5" y="293.3" width="2.3" height="2.3" fill="#3874fc"/>
<rect x="610.5" y="293.3" width="2.3" height="2.3" fill="#3b71fc"/>
<rect x="612.5" y="293.3" width="2.3" height="2.3" fill="#3e6efc"/>
<rect x="614.5" y="293.3" width="2.3" height="2.3" fill="#4265fc"/>
<rect x="616.5" y="293.3" width="4.3" height="2.3" fill="#435ffb"/>
<rect x="620.5" y="293.3" width="2.3" height="2.3" fill="#445afb"/>
<rect x="622.5" y="293.3" width="2.3" height="2.3" fill="#4654fb"/>
<rect x="624.5" y="293.3" width="4.3" height="2.3" fill="#474efa"/>
<rect x="628.5" y="293.3" width="2.3" height="2.3" fill="#4849fa"/>
<rect x="630.5" y="293.3" width="4.3" height="2.3" fill="#4744f9"/>
<rect x="634.5" y="293.3" width="4.3" height="2.3" fill="#473ff8"/>
<rect x="638.5" y="293.3" width="6.3" height="2.3" fill="#4739f7"/>
<rect x="644.5" y="293.3" width="6.3" height="2.3" fill="#4634f6"/>
<rect x="650.5" y="293.3" width="8.3" height="2.3" fill="#4630f4"/>
<rect x="658.5" y="293.3" width="20.3" height="2.3" fill="#452fee"/>
<rect x="678.5" y="293.3" width="4.3" height="2.3" fill="#452de8"/>
<rect x="554.5" y="291.3" width="2.3" height="2.3" fill="#3f27c1"/>
<rect x="556.5" y="291.3" width="2.3" height="2.3" fill="#422ad2"/>
<rect x="558.5" y="291.3" width="2.3" height="2.3" fill="#474efa"/>
<rect x="560.5" y="291.3" width="2.3" height="2.3" fill="#17aeda"/>
<rect x="562.5" y="291.3" width="2.3" height="2.3" fill="#b8c431"/>
<rect x="564.5" y="291.3" width="2.3" height="2.3" fill="#f5e327"/>
<rect x="566.5" y="291.3" width="2.3" height="2.3" fill="#f9fb15"/>
<rect x="568.5" y="291.3" width="2.3" height="2.3" fill="#f9fb15"/>
<rect x="570.5" y="291.3" width="2.3" height="2.3" fill="#f9fb15"/>
<rect x="572.5" y="291.3" width="2.3" height="2.3" fill="#f8f719"/>
<rect x="574.5" y="291.3" width="2.3" height="2.3" fill="#f9d62d"/>
<rect x="576.5" y="291.3" width="2.3" height="2.3" fill="#f7ba3c"/>
<rect x="578.5" y="291.3" width="2.3" height="2.3" fill="#d0bf27"/>
<rect x="580.5" y="291.3" width="2.3" height="2.3" fill="#9dc943"/>
<rect x="582.5" y="291.3" width="2.3" height="2.3" fill="#77cc60"/>
<rect x="584.5" y="291.3" width="2.3" height="2.3" fill="#53cc7d"/>
<rect x="586.5" y="291.3" width="2.3" height="2.3" fill="#38c896"/>
<rect x="588.5" y="291.3" width="2.3" height="2.3" fill="#2cc4a6"/>
<rect x="590.5" y="291.3" width="2.3" height="2.3" fill="#1ac0b4"/>
<rect x="592.5" y="291.3" width="2.3" height="2.3" fill="#03bbc2"/>
<rect x="594.5" y="291.3" width="2.3" height="2.3" fill="#06b5cf"/>
<rect x="596.5" y="291.3" width="2.3" height="2.3" fill="#17aeda"/>
<rect x="598.5" y="291.3" width="2.3" height="2.3" fill="#1fa6e2"/>
<rect x="600.5" y="291.3" width="2.3" height="2.3" fill="#259de7"/>
<rect x="602.5" y="291.3" width="2.3" height="2.3" fill="#2a93ed"/>
<rect x="604.5" y="291.3" width="2.3" height="2.3" fill="#2d8cf3"/>
<rect x="606.5" y="291.3" width="2.3" height="2.3" fill="#2e85f8"/>
<rect x="608.5" y="291.3" width="2.3" height="2.3" fill="#317efb"/>
<rect x="610.5" y="291.3" width="2.3" height="2.3" fill="#3677fc"/>
<rect x="612.5" y="291.3" width="2.3" height="2.3" fill="#3b71fc"/>
<rect x="614.5" y="291.3" width="2.3" height="2.3" fill="#3e6efc"/>
<rect x="616.5" y="291.3" width="2.3" height="2.3" fill="#406bfc"/>
<rect x="618.5" y="291.3" width="2.3" height="2.3" fill="#4265fc"/>
<rect x="620.5" y="291.3" width="2.3" height="2.3" fill="#435ffb"/>
<rect x="622.5" y="291.3" width="2.3" height="2.3" fill="#445afb"/>
<rect x="624.5" y="291.3" width="2.3" height="2.3" fill="#4654fb"/>
<rect x="626.5" y="291.3" width="4.3" height="2.3" fill="#474efa"/>
<rect x="630.5" y="291.3" width="2.3" height="2.3" fill="#4849fa"/>
<rect x="632.5" y="291.3" width="4.3" height="2.3" fill="#4744f9"/>
<rect x="636.5" y="291.3" width="4.3" height="2.3" fill="#473ff8"/>
<rect x="640.5" y="291.3" width="6.3" height="2.3" fill="#4739f7"/>
<rect x="646.5" y="291.3" width="4.3" height="2.3" fill="#4634f6"/>
<rect x="650.5" y="291.3" width="8.3" height="2.3" fill="#4630f4"/>
<rect x="658.5" y="291.3" width="20.3" height="2.3" fill="#452fee"/>
<rect x="678.5" y="291.3" width="4.3" height="2.3" fill="#452de8"/>
<rect x="556.5" y="289.3" width="2.3" height="2.3" fill="#3f27c1"/>
<rect x="558.5" y="289.3" width="2.3" height="2.3" fill="#432bda"/>
<rect x="560.5" y="289.3" width="2.3" height="2.3" fill="#445afb"/>
<rect x="562.5" y="289.3" width="2.3" height="2.3" fill="#01b9c6"/>
<rect x="564.5" y="289.3" width="2.3" height="2.3" fill="#e5bb2d"/>
<rect x="566.5" y="289.3" width="2.3" height="2.3" fill="#f9fb15"/>
<rect x="568.5" y="289.3" width="2.3" height="2.3" fill="#f9fb15"/>
<rect x="570.5" y="289.3" width="2.3" height="2.3" fill="#f9fb15"/>
<rect x="572.5" y="289.3" width="2.3" height="2.3" fill="#f9fb15"/>
<rect x="574.5" y="289.3" width="2.3" height="2.3" fill="#f9fb15"/>
<rect x="576.5" y="289.3" width="2.3" height="2.3" fill="#f6ef20"/>
<rect x="578.5" y="289.3" width="2.3" height="2.3" fill="#fdce31"/>
<rect x="580.5" y="289.3" width="2.3" height="2.3" fill="#ebba32"/>
<rect x="582.5" y="289.3" width="2.3" height="2.3" fill="#c0c32d"/>
<rect x="584.5" y="289.3" width="2.3" height="2.3" fill="#94ca4a"/>
<rect x="586.5" y="289.3" width="2.3" height="2.3" fill="#64cd6f"/>
<rect x="588.5" y="289.3" width="2.3" height="2.3" fill="#4bcb84"/>
<rect x="590.5" y="289.3" width="2.3" height="2.3" fill="#34c79c"/>
<rect x="592.5" y="289.3" width="2.3" height="2.3" fill="#28c2ab"/>
<rect x="594.5" y="289.3" width="2.3" height="2.3" fill="#0abdbe"/>
<rect x="596.5" y="289.3" width="2.3" height="2.3" fill="#02b7cb"/>
<rect x="598.5" y="289.3" width="2.3" height="2.3" fill="#12b1d7"/>
<rect x="600.5" y="289.3" width="2.3" height="2.3" fill="#1fa6e2"/>
<rect x="602.5" y="289.3" width="2.3" height="2.3" fill="#259de7"/>
<rect x="604.5" y="289.3" width="2.3" height="2.3" fill="#2797eb"/>
<rect x="606.5" y="289.3" width="2.3" height="2.3" fill="#2d8cf3"/>
<rect x="608.5" y="289.3" width="2.3" height="2.3" fill="#2e85f8"/>
<rect x="610.5" y="289.3" width="2.3" height="2.3" fill="#317efb"/>
<rect x="612.5" y="289.3" width="2.3" height="2.3" fill="#3677fc"/>
<rect x="614.5" y="289.3" width="2.3" height="2.3" fill="#3b71fc"/>
<rect x="616.5" y="289.3" width="2.3" height="2.3" fill="#3e6efc"/>
<rect x="618.5" y="289.3" width="2.3" height="2.3" fill="#406bfc"/>
<rect x="620.5" y="289.3" width="2.3" height="2.3" fill="#4265fc"/>
<rect x="622.5" y="289.3" width="2.3" height="2.3" fill="#435ffb"/>
<rect x="624.5" y="289.3" width="2.3" height="2.3" fill="#445afb"/>
<rect x="626.5" y="289.3" width="2.3" height="2.3" fill="#4654fb"/>
<rect x="628.5" y="289.3" width="4.3" height="2.3" fill="#474efa"/>
<rect x="632.5" y="289.3" width="2.3" height="2.3" fill="#4849fa"/>
<rect x="634.5" y="289.3" width="4.3" height="2.3" fill="#4744f9"/>
<rect x="638.5" y="289.3" width="4.3" height="2.3" fill="#473ff8"/>
<rect x="642.5" y="289.3" width="4.3" height="2.3" fill="#4739f7"/>
<rect x="646.5" y="289.3" width="6.3" height="2.3" fill="#4634f6"/>
<rect x="652.5" y="289.3" width="8.3" height="2.3" fill="#4630f4"/>
<rect x="660.5" y="289.3" width="20.3" height="2.3" fill="#452fee"/>
<rect x="680.5" y="289.3" width="2.3" height="2.3" fill="#452de8"/>
<rect x="558.5" y="287.3" width="2.3" height="2.3" fill="#3f27c1"/>
<rect x="560.5" y="287.3" width="2.3" height="2.3" fill="#432bda"/>
<rect x="562.5" y="287.3" width="2.3" height="2.3" fill="#445afb"/>
<rect x="564.5" y="287.3" width="2.3" height="2.3" fill="#0cb3d3"/>
<rect x="566.5" y="287.3" width="2.3" height="2.3" fill="#afc637"/>
<rect x="568.5" y="287.3" width="2.3" height="2.3" fill="#fbd22f"/>
<rect x="570.5" y="287.3" width="2.3" height="2.3" fill="#f9fb15"/>
<rect x="572.5" y="287.3" width="2.3" height="2.3" fill="#f9fb15"/>
<rect x="574.5" y="287.3" width="2.3" height="2.3" fill="#f9fb15"/>
<rect x="576.5" y="287.3" width="2.3" height="2.3" fill="#f9fb15"/>
<rect x="578.5" y="287.3" width="2.3" height="2.3" fill="#f5eb23"/>
<rect x="580.5" y="287.3" width="2.3" height="2.3" fill="#fdce31"/>
<rect x="582.5" y="287.3" width="2.3" height="2.3" fill="#ebba32"/>
<rect x="584.5" y="287.3" width="2.3" height="2.3" fill="#c8c129"/>
<rect x="586.5" y="287.3" width="2.3" height="2.3" fill="#9dc943"/>
<rect x="588.5" y="287.3" width="2.3" height="2.3" fill="#77cc60"/>
<rect x="590.5" y="287.3" width="2.3" height="2.3" fill="#53cc7d"/>
<rect x="592.5" y="287.3" width="2.3" height="2.3" fill="#38c896"/>
<rect x="594.5" y="287.3" width="2.3" height="2.3" fill="#2cc4a6"/>
<rect x="596.5" y="287.3" width="2.3" height="2.3" fill="#12beb9"/>
<rect x="598.5" y="287.3" width="2.3" height="2.3" fill="#02b7cb"/>
<rect x="600.5" y="287.3" width="2.3" height="2.3" fill="#12b1d7"/>
<rect x="602.5" y="287.3" width="2.3" height="2.3" fill="#1fa6e2"/>
<rect x="604.5" y="287.3" width="2.3" height="2.3" fill="#259de7"/>
<rect x="606.5" y="287.3" width="2.3" height="2.3" fill="#2a93ed"/>
<rect x="608.5" y="287.3" width="2.3" height="2.3" fill="#2d8cf3"/>
<rect x="610.5" y="287.3" width="2.3" height="2.3" fill="#2f82fa"/>
<rect x="612.5" y="287.3" width="2.3" height="2.3" fill="#347afd"/>
<rect x="614.5" y="287.3" width="2.3" height="2.3" fill="#3677fc"/>
<rect x="616.5" y="287.3" width="2.3" height="2.3" fill="#3b71fc"/>
<rect x="618.5" y="287.3" width="2.3" height="2.3" fill="#3e6efc"/>
<rect x="620.5" y="287.3" width="2.3" height="2.3" fill="#406bfc"/>
<rect x="622.5" y="287.3" width="2.3" height="2.3" fill="#4265fc"/>
<rect x="624.5" y="287.3" width="2.3" height="2.3" fill="#435ffb"/>
<rect x="626.5" y="287.3" width="2.3" height="2.3" fill="#445afb"/>
<rect x="628.5" y="287.3" width="2.3" height="2.3" fill="#4654fb"/>
<rect x="630.5" y="287.3" width="2.3" height="2.3" fill="#474efa"/>
<rect x="632.5" y="287.3" width="4.3" height="2.3" fill="#4849fa"/>
<rect x="636.5" y="287.3" width="4.3" height="2.3" fill="#4744f9"/>
<rect x="640.5" y="287.3" width="4.3" height="2.3" fill="#473ff8"/>
<rect x="644.5" y="287.3" width="4.3" height="2.3" fill="#4739f7"/>
<rect x="648.5" y="287.3" width="6.3" height="2.3" fill="#4634f6"/>
<rect x="654.5" y="287.3" width="8.3" height="2.3" fill="#4630f4"/>
<rect x="662.5" y="287.3" width="18.3" height="2.3" fill="#452fee"/>
<rect x="680.5" y="287.3" width="2.3" height="2.3" fill="#452de8"/>
<rect x="560.5" y="285.3" width="2.3" height="2.3" fill="#3f27c1"/>
<rect x="562.5" y="285.3" width="2.3" height="2.3" fill="#432bda"/>
<rect x="564.5" y="285.3" width="2.3" height="2.3" fill="#4654fb"/>
<rect x="566.5" y="285.3" width="2.3" height="2.3" fill="#1da9e0"/>
<rect x="568.5" y="285.3" width="2.3" height="2.3" fill="#64cd6f"/>
<rect x="570.5" y="285.3" width="2.3" height="2.3" fill="#e5bb2d"/>
<rect x="572.5" y="285.3" width="2.3" height="2.3" fill="#fdce31"/>
<rect x="574.5" y="285.3" width="2.3" height="2.3" fill="#f5eb23"/>
<rect x="576.5" y="285.3" width="2.3" height="2.3" fill="#f7f31d"/>
<rect x="578.5" y="285.3" width="2.3" height="2.3" fill="#f6ef20"/>
<rect x="580.5" y="285.3" width="2.3" height="2.3" fill="#f7db2b"/>
<rect x="582.5" y="285.3" width="2.3" height="2.3" fill="#febe3c"/>
<rect x="584.5" y="285.3" width="2.3" height="2.3" fill="#debc2a"/>
<rect x="586.5" y="285.3" width="2.3" height="2.3" fill="#b8c431"/>
<rect x="588.5" y="285.3" width="2.3" height="2.3" fill="#94ca4a"/>
<rect x="590.5" y="285.3" width="2.3" height="2.3" fill="#77cc60"/>
<rect x="592.5" y="285.3" width="2.3" height="2.3" fill="#53cc7d"/>
<rect x="594.5" y="285.3" width="2.3" height="2.3" fill="#38c896"/>
<rect x="596.5" y="285.3" width="2.3" height="2.3" fill="#28c2ab"/>
<rect x="598.5" y="285.3" width="2.3" height="2.3" fill="#12beb9"/>
<rect x="600.5" y="285.3" width="2.3" height="2.3" fill="#02b7cb"/>
<rect x="602.5" y="285.3" width="2.3" height="2.3" fill="#17aeda"/>
<rect x="604.5" y="285.3" width="2.3" height="2.3" fill="#1fa6e2"/>
<rect x="606.5" y="285.3" width="2.3" height="2.3" fill="#269ae9"/>
<rect x="608.5" y="285.3" width="2.3" height="2.3" fill="#2c90f0"/>
<rect x="610.5" y="285.3" width="2.3" height="2.3" fill="#2d89f5"/>
<rect x="612.5" y="285.3" width="2.3" height="2.3" fill="#2f82fa"/>
<rect x="614.5" y="285.3" width="2.3" height="2.3" fill="#347afd"/>
<rect x="616.5" y="285.3" width="2.3" height="2.3" fill="#3874fc"/>
<rect x="618.5" y="285.3" width="2.3" height="2.3" fill="#3e6efc"/>
<rect x="620.5" y="285.3" width="2.3" height="2.3" fill="#406bfc"/>
<rect x="622.5" y="285.3" width="2.3" height="2.3" fill="#4265fc"/>
<rect x="624.5" y="285.3" width="2.3" height="2.3" fill="#435ffb"/>
<rect x="626.5" y="285.3" width="2.3" height="2.3" fill="#445afb"/>
<rect x="628.5" y="285.3" width="2.3" height="2.3" fill="#4654fb"/>
<rect x="630.5" y="285.3" width="4.3" height="2.3" fill="#474efa"/>
<rect x="634.5" y="285.3" width="2.3" height="2.3" fill="#4849fa"/>
<rect x="636.5" y="285.3" width="4.3" height="2.3" fill="#4744f9"/>
<rect x="640.5" y="285.3" width="4.3" height="2.3" fill="#473ff8"/>
<rect x="644.5" y="285.3" width="4.3" height="2.3" fill="#4739f7"/>
<rect x="648.5" y="285.3" width="6.3" height="2.3" fill="#4634f6"/>
<rect x="654.5" y="285.3" width="8.3" height="2.3" fill="#4630f4"/>
<rect x="662.5" y="285.3" width="20.3" height="2.3" fill="#452fee"/>
<rect x="562.5" y="283.3" width="2.3" height="2.3" fill="#3f27c1"/>
<rect x="564.5" y="283.3" width="2.3" height="2.3" fill="#432bda"/>
<rect x="566.5" y="283.3" width="2.3" height="2.3" fill="#474efa"/>
<rect x="568.5" y="283.3" width="2.3" height="2.3" fill="#21a3e3"/>
<rect x="570.5" y="283.3" width="2.3" height="2.3" fill="#44ca8a"/>
<rect x="572.5" y="283.3" width="2.3" height="2.3" fill="#c0c32d"/>
<rect x="574.5" y="283.3" width="2.3" height="2.3" fill="#fbbc3d"/>
<rect x="576.5" y="283.3" width="2.3" height="2.3" fill="#f9d62d"/>
<rect x="578.5" y="283.3" width="2.3" height="2.3" fill="#f6df29"/>
<rect x="580.5" y="283.3" width="2.3" height="2.3" fill="#f9d62d"/>
<rect x="582.5" y="283.3" width="2.3" height="2.3" fill="#fec239"/>
<rect x="584.5" y="283.3" width="2.3" height="2.3" fill="#ebba32"/>
<rect x="586.5" y="283.3" width="2.3" height="2.3" fill="#c8c129"/>
<rect x="588.5" y="283.3" width="2.3" height="2.3" fill="#a6c83c"/>
<rect x="590.5" y="283.3" width="2.3" height="2.3" fill="#8acb51"/>
<rect x="592.5" y="283.3" width="2.3" height="2.3" fill="#6dcd67"/>
<rect x="594.5" y="283.3" width="2.3" height="2.3" fill="#4bcb84"/>
<rect x="596.5" y="283.3" width="2.3" height="2.3" fill="#34c79c"/>
<rect x="598.5" y="283.3" width="2.3" height="2.3" fill="#22c1b0"/>
<rect x="600.5" y="283.3" width="2.3" height="2.3" fill="#03bbc2"/>
<rect x="602.5" y="283.3" width="2.3" height="2.3" fill="#0cb3d3"/>
<rect x="604.5" y="283.3" width="2.3" height="2.3" fill="#1aacdd"/>
<rect x="606.5" y="283.3" width="2.3" height="2.3" fill="#23a0e5"/>
<rect x="608.5" y="283.3" width="2.3" height="2.3" fill="#2797eb"/>
<rect x="610.5" y="283.3" width="2.3" height="2.3" fill="#2d8cf3"/>
<rect x="612.5" y="283.3" width="2.3" height="2.3" fill="#2e85f8"/>
<rect x="614.5" y="283.3" width="2.3" height="2.3" fill="#347afd"/>
<rect x="616.5" y="283.3" width="2.3" height="2.3" fill="#3677fc"/>
<rect x="618.5" y="283.3" width="2.3" height="2.3" fill="#3b71fc"/>
<rect x="620.5" y="283.3" width="2.3" height="2.3" fill="#3e6efc"/>
<rect x="622.5" y="283.3" width="2.3" height="2.3" fill="#4265fc"/>
<rect x="624.5" y="283.3" width="2.3" height="2.3" fill="#435ffb"/>
<rect x="626.5" y="283.3" width="2.3" height="2.3" fill="#445afb"/>
<rect x="628.5" y="283.3" width="4.3" height="2.3" fill="#4654fb"/>
<rect x="632.5" y="283.3" width="2.3" height="2.3" fill="#474efa"/>
<rect x="634.5" y="283.3" width="4.3" height="2.3" fill="#4849fa"/>
<rect x="638.5" y="283.3" width="2.3" height="2.3" fill="#4744f9"/>
<rect x="640.5" y="283.3" width="4.3" height="2.3" fill="#473ff8"/>
<rect x="644.5" y="283.3" width="4.3" height="2.3" fill="#4739f7"/>
<rect x="648.5" y="283.3" width="6.3" height="2.3" fill="#4634f6"/>
<rect x="654.5" y="283.3" width="8.3" height="2.3" fill="#4630f4"/>
<rect x="662.5" y="283.3" width="20.3" height="2.3" fill="#452fee"/>
<rect x="564.5" y="281.3" width="2.3" height="2.3" fill="#3f27c1"/>
<rect x="566.5" y="281.3" width="2.3" height="2.3" fill="#432bda"/>
<rect x="568.5" y="281.3" width="2.3" height="2.3" fill="#474efa"/>
<rect x="570.5" y="281.3" width="2.3" height="2.3" fill="#259de7"/>
<rect x="572.5" y="281.3" width="2.3" height="2.3" fill="#34c79c"/>
<rect x="574.5" y="281.3" width="2.3" height="2.3" fill="#9dc943"/>
<rect x="576.5" y="281.3" width="2.3" height="2.3" fill="#e5bb2d"/>
<rect x="578.5" y="281.3" width="2.3" height="2.3" fill="#febe3c"/>
<rect x="580.5" y="281.3" width="2.3" height="2.3" fill="#fec239"/>
<rect x="582.5" y="281.3" width="2.3" height="2.3" fill="#f7ba3c"/>
<rect x="584.5" y="281.3" width="2.3" height="2.3" fill="#debc2a"/>
<rect x="586.5" y="281.3" width="2.3" height="2.3" fill="#c8c129"/>
<rect x="588.5" y="281.3" width="2.3" height="2.3" fill="#afc637"/>
<rect x="590.5" y="281.3" width="2.3" height="2.3" fill="#94ca4a"/>
<rect x="592.5" y="281.3" width="2.3" height="2.3" fill="#77cc60"/>
<rect x="594.5" y="281.3" width="2.3" height="2.3" fill="#5ccc76"/>
<rect x="596.5" y="281.3" width="2.3" height="2.3" fill="#3dc990"/>
<rect x="598.5" y="281.3" width="2.3" height="2.3" fill="#2cc4a6"/>
<rect x="600.5" y="281.3" width="2.3" height="2.3" fill="#12beb9"/>
<rect x="602.5" y="281.3" width="2.3" height="2.3" fill="#02b7cb"/>
<rect x="604.5" y="281.3" width="2.3" height="2.3" fill="#17aeda"/>
<rect x="606.5" y="281.3" width="2.3" height="2.3" fill="#21a3e3"/>
<rect x="608.5" y="281.3" width="2.3" height="2.3" fill="#269ae9"/>
<rect x="610.5" y="281.3" width="2.3" height="2.3" fill="#2c90f0"/>
<rect x="612.5" y="281.3" width="2.3" height="2.3" fill="#2e85f8"/>
<rect x="614.5" y="281.3" width="2.3" height="2.3" fill="#317efb"/>
<rect x="616.5" y="281.3" width="2.3" height="2.3" fill="#3677fc"/>
<rect x="618.5" y="281.3" width="2.3" height="2.3" fill="#3b71fc"/>
<rect x="620.5" y="281.3" width="2.3" height="2.3" fill="#3e6efc"/>
<rect x="622.5" y="281.3" width="2.3" height="2.3" fill="#4265fc"/>
<rect x="624.5" y="281.3" width="2.3" height="2.3" fill="#435ffb"/>
<rect x="626.5" y="281.3" width="2.3" height="2.3" fill="#445afb"/>
<rect x="628.5" y="281.3" width="4.3" height="2.3" fill="#4654fb"/>
<rect x="632.5" y="281.3" width="2.3" height="2.3" fill="#474efa"/>
<rect x="634.5" y="281.3" width="2.3" height="2.3" fill="#4849fa"/>
<rect x="636.5" y="281.3" width="4.3" height="2.3" fill="#4744f9"/>
<rect x="640.5" y="281.3" width="4.3" height="2.3" fill="#473ff8"/>
<rect x="644.5" y="281.3" width="4.3" height="2.3" fill="#4739f7"/>
<rect x="648.5" y="281.3" width="6.3" height="2.3" fill="#4634f6"/>
<rect x="654.5" y="281.3" width="8.3" height="2.3" fill="#4630f4"/>
<rect x="662.5" y="281.3" width="20.3" height="2.3" fill="#452fee"/>
<rect x="566.5" y="279.3" width="2.3" height="2.3" fill="#3f27c1"/>
<rect x="568.5" y="279.3" width="2.3" height="2.3" fill="#422ad2"/>
<rect x="570.5" y="279.3" width="2.3" height="2.3" fill="#4849fa"/>
<rect x="572.5" y="279.3" width="2.3" height="2.3" fill="#2797eb"/>
<rect x="574.5" y="279.3" width="2.3" height="2.3" fill="#28c2ab"/>
<rect x="576.5" y="279.3" width="2.3" height="2.3" fill="#77cc60"/>
<rect x="578.5" y="279.3" width="2.3" height="2.3" fill="#afc637"/>
<rect x="580.5" y="279.3" width="4.3" height="2.3" fill="#c8c129"/>
<rect x="584.5" y="279.3" width="2.3" height="2.3" fill="#c0c32d"/>
<rect x="586.5" y="279.3" width="2.3" height="2.3" fill="#afc637"/>
<rect x="588.5" y="279.3" width="2.3" height="2.3" fill="#9dc943"/>
<rect x="590.5" y="279.3" width="2.3" height="2.3" fill="#8acb51"/>
<rect x="592.5" y="279.3" width="2.3" height="2.3" fill="#77cc60"/>
<rect x="594.5" y="279.3" width="2.3" height="2.3" fill="#5ccc76"/>
<rect x="596.5" y="279.3" width="2.3" height="2.3" fill="#44ca8a"/>
<rect x="598.5" y="279.3" width="2.3" height="2.3" fill="#34c79c"/>
<rect x="600.5" y="279.3" width="2.3" height="2.3" fill="#22c1b0"/>
<rect x="602.5" y="279.3" width="2.3" height="2.3" fill="#03bbc2"/>
<rect x="604.5" y="279.3" width="2.3" height="2.3" fill="#12b1d7"/>
<rect x="606.5" y="279.3" width="2.3" height="2.3" fill="#1da9e0"/>
<rect x="608.5" y="279.3" width="2.3" height="2.3" fill="#259de7"/>
<rect x="610.5" y="279.3" width="2.3" height="2.3" fill="#2a93ed"/>
<rect x="612.5" y="279.3" width="2.3" height="2.3" fill="#2d89f5"/>
<rect x="614.5" y="279.3" width="2.3" height="2.3" fill="#317efb"/>
<rect x="616.5" y="279.3" width="2.3" height="2.3" fill="#3677fc"/>
<rect x="618.5" y="279.3" width="2.3" height="2.3" fill="#3b71fc"/>
<rect x="620.5" y="279.3" width="2.3" height="2.3" fill="#3e6efc"/>
<rect x="622.5" y="279.3" width="2.3" height="2.3" fill="#4265fc"/>
<rect x="624.5" y="279.3" width="2.3" height="2.3" fill="#435ffb"/>
<rect x="626.5" y="279.3" width="2.3" height="2.3" fill="#445afb"/>
<rect x="628.5" y="279.3" width="2.3" height="2.3" fill="#4654fb"/>
<rect x="630.5" y="279.3" width="4.3" height="2.3" fill="#474efa"/>
<rect x="634.5" y="279.3" width="2.3" height="2.3" fill="#4849fa"/>
<rect x="636.5" y="279.3" width="4.3" height="2.3" fill="#4744f9"/>
<rect x="640.5" y="279.3" width="4.3" height="2.3" fill="#473ff8"/>
<rect x="644.5" y="279.3" width="4.3" height="2.3" fill="#4739f7"/>
<rect x="648.5" y="279.3" width="6.3" height="2.3" fill="#4634f6"/>
<rect x="654.5" y="279.3" width="8.3" height="2.3" fill="#4630f4"/>
<rect x="662.5" y="279.3" width="20.3" height="2.3" fill="#452fee"/>
<rect x="568.5" y="277.3" width="2.3" height="2.3" fill="#3f27c1"/>
<rect x="570.5" y="277.3" width="2.3" height="2.3" fill="#422ad2"/>
<rect x="572.5" y="277.3" width="2.3" height="2.3" fill="#4744f9"/>
<rect x="574.5" y="277.3" width="2.3" height="2.3" fill="#2c90f0"/>
<rect x="576.5" y="277.3" width="2.3" height="2.3" fill="#0abdbe"/>
<rect x="578.5" y="277.3" width="2.3" height="2.3" fill="#3dc990"/>
<rect x="580.5" y="277.3" width="2.3" height="2.3" fill="#64cd6f"/>
<rect x="582.5" y="277.3" width="8.3" height="2.3" fill="#81cc59"/>
<rect x="590.5" y="277.3" width="2.3" height="2.3" fill="#77cc60"/>
<rect x="592.5" y="277.3" width="2.3" height="2.3" fill="#6dcd67"/>
<rect x="594.5" y="277.3" width="2.3" height="2.3" fill="#5ccc76"/>
<rect x="596.5" y="277.3" width="2.3" height="2.3" fill="#44ca8a"/>
<rect x="598.5" y="277.3" width="2.3" height="2.3" fill="#34c79c"/>
<rect x="600.5" y="277.3" width="2.3" height="2.3" fill="#22c1b0"/>
<rect x="602.5" y="277.3" width="2.3" height="2.3" fill="#0abdbe"/>
<rect x="604.5" y="277.3" width="2.3" height="2.3" fill="#06b5cf"/>
<rect x="606.5" y="277.3" width="2.3" height="2.3" fill="#1aacdd"/>
<rect x="608.5" y="277.3" width="2.3" height="2.3" fill="#23a0e5"/>
<rect x="610.5" y="277.3" width="2.3" height="2.3" fill="#2a93ed"/>
<rect x="612.5" y="277.3" width="2.3" height="2.3" fill="#2d89f5"/>
<rect x="614.5" y="277.3" width="2.3" height="2.3" fill="#2f82fa"/>
<rect x="616.5" y="277.3" width="2.3" height="2.3" fill="#3677fc"/>
<rect x="618.5" y="277.3" width="2.3" height="2.3" fill="#3b71fc"/>
<rect x="620.5" y="277.3" width="2.3" height="2.3" fill="#406bfc"/>
<rect x="622.5" y="277.3" width="2.3" height="2.3" fill="#4265fc"/>
<rect x="624.5" y="277.3" width="2.3" height="2.3" fill="#435ffb"/>
<rect x="626.5" y="277.3" width="2.3" height="2.3" fill="#445afb"/>
<rect x="628.5" y="277.3" width="2.3" height="2.3" fill="#4654fb"/>
<rect x="630.5" y="277.3" width="2.3" height="2.3" fill="#474efa"/>
<rect x="632.5" y="277.3" width="4.3" height="2.3" fill="#4849fa"/>
<rect x="636.5" y="277.3" width="2.3" height="2.3" fill="#4744f9"/>
<rect x="638.5" y="277.3" width="4.3" height="2.3" fill="#473ff8"/>
<rect x="642.5" y="277.3" width="6.3" height="2.3" fill="#4739f7"/>
<rect x="648.5" y="277.3" width="6.3" height="2.3" fill="#4634f6"/>
<rect x="654.5" y="277.3" width="8.3" height="2.3" fill="#4630f4"/>
<rect x="662.5" y="277.3" width="20.3" height="2.3" fill="#452fee"/>
<rect x="570.5" y="275.3" width="2.3" height="2.3" fill="#3f27c1"/>
<rect x="572.5" y="275.3" width="2.3" height="2.3" fill="#422ad2"/>
<rect x="574.5" y="275.3" width="2.3" height="2.3" fill="#473ff8"/>
<rect x="576.5" y="275.3" width="2.3" height="2.3" fill="#2d89f5"/>
<rect x="578.5" y="275.3" width="2.3" height="2.3" fill="#0cb3d3"/>
<rect x="580.5" y="275.3" width="2.3" height="2.3" fill="#22c1b0"/>
<rect x="582.5" y="275.3" width="2.3" height="2.3" fill="#38c896"/>
<rect x="584.5" y="275.3" width="2.3" height="2.3" fill="#44ca8a"/>
<rect x="586.5" y="275.3" width="2.3" height="2.3" fill="#53cc7d"/>
<rect x="588.5" y="275.3" width="6.3" height="2.3" fill="#5ccc76"/>
<rect x="594.5" y="275.3" width="2.3" height="2.3" fill="#53cc7d"/>
<rect x="596.5" y="275.3" width="2.3" height="2.3" fill="#44ca8a"/>
<rect x="598.5" y="275.3" width="2.3" height="2.3" fill="#34c79c"/>
<rect x="600.5" y="275.3" width="2.3" height="2.3" fill="#28c2ab"/>
<rect x="602.5" y="275.3" width="2.3" height="2.3" fill="#0abdbe"/>
<rect x="604.5" y="275.3" width="2.3" height="2.3" fill="#06b5cf"/>
<rect x="606.5" y="275.3" width="2.3" height="2.3" fill="#1aacdd"/>
<rect x="608.5" y="275.3" width="2.3" height="2.3" fill="#21a3e3"/>
<rect x="610.5" y="275.3" width="2.3" height="2.3" fill="#2797eb"/>
<rect x="612.5" y="275.3" width="2.3" height="2.3" fill="#2d8cf3"/>
<rect x="614.5" y="275.3" width="2.3" height="2.3" fill="#2f82fa"/>
<rect x="616.5" y="275.3" width="2.3" height="2.3" fill="#3677fc"/>
<rect x="618.5" y="275.3" width="2.3" height="2.3" fill="#3b71fc"/>
<rect x="620.5" y="275.3" width="2.3" height="2.3" fill="#406bfc"/>
<rect x="622.5" y="275.3" width="2.3" height="2.3" fill="#4265fc"/>
<rect x="624.5" y="275.3" width="2.3" height="2.3" fill="#445afb"/>
<rect x="626.5" y="275.3" width="2.3" height="2.3" fill="#4654fb"/>
<rect x="628.5" y="275.3" width="2.3" height="2.3" fill="#474efa"/>
<rect x="630.5" y="275.3" width="4.3" height="2.3" fill="#4849fa"/>
<rect x="634.5" y="275.3" width="4.3" height="2.3" fill="#4744f9"/>
<rect x="638.5" y="275.3" width="4.3" height="2.3" fill="#473ff8"/>
<rect x="642.5" y="275.3" width="4.3" height="2.3" fill="#4739f7"/>
<rect x="646.5" y="275.3" width="6.3" height="2.3" fill="#4634f6"/>
<rect x="652.5" y="275.3" width="8.3" height="2.3" fill="#4630f4"/>
<rect x="660.5" y="275.3" width="22.3" height="2.3" fill="#452fee"/>
<rect x="572.5" y="273.3" width="2.3" height="2.3" fill="#3f27c1"/>
<rect x="574.5" y="273.3" width="2.3" height="2.3" fill="#422ad2"/>
<rect x="576.5" y="273.3" width="2.3" height="2.3" fill="#473ff8"/>
<rect x="578.5" y="273.3" width="2.3" height="2.3" fill="#2f82fa"/>
<rect x="580.5" y="273.3" width="2.3" height="2.3" fill="#1aacdd"/>
<rect x="582.5" y="273.3" width="2.3" height="2.3" fill="#03bbc2"/>
<rect x="584.5" y="273.3" width="2.3" height="2.3" fill="#22c1b0"/>
<rect x="586.5" y="273.3" width="2.3" height="2.3" fill="#30c5a1"/>
<rect x="588.5" y="273.3" width="2.3" height="2.3" fill="#38c896"/>
<rect x="590.5" y="273.3" width="6.3" height="2.3" fill="#3dc990"/>
<rect x="596.5" y="273.3" width="2.3" height="2.3" fill="#38c896"/>
<rect x="598.5" y="273.3" width="2.3" height="2.3" fill="#30c5a1"/>
<rect x="600.5" y="273.3" width="2.3" height="2.3" fill="#22c1b0"/>
<rect x="602.5" y="273.3" width="2.3" height="2.3" fill="#0abdbe"/>
<rect x="604.5" y="273.3" width="2.3" height="2.3" fill="#02b7cb"/>
<rect x="606.5" y="273.3" width="2.3" height="2.3" fill="#17aeda"/>
<rect x="608.5" y="273.3" width="2.3" height="2.3" fill="#21a3e3"/>
<rect x="610.5" y="273.3" width="2.3" height="2.3" fill="#269ae9"/>
<rect x="612.5" y="273.3" width="2.3" height="2.3" fill="#2d8cf3"/>
<rect x="614.5" y="273.3" width="2.3" height="2.3" fill="#2f82fa"/>
<rect x="616.5" y="273.3" width="2.3" height="2.3" fill="#3677fc"/>
<rect x="618.5" y="273.3" width="2.3" height="2.3" fill="#3b71fc"/>
<rect x="620.5" y="273.3" width="2.3" height="2.3" fill="#406bfc"/>
<rect x="622.5" y="273.3" width="2.3" height="2.3" fill="#435ffb"/>
<rect x="624.5" y="273.3" width="2.3" height="2.3" fill="#445afb"/>
<rect x="626.5" y="273.3" width="2.3" height="2.3" fill="#4654fb"/>
<rect x="628.5" y="273.3" width="2.3" height="2.3" fill="#474efa"/>
<rect x="630.5" y="273.3" width="2.3" height="2.3" fill="#4849fa"/>
<rect x="632.5" y="273.3" width="4.3" height="2.3" fill="#4744f9"/>
<rect x="636.5" y="273.3" width="4.3" height="2.3" fill="#473ff8"/>
<rect x="640.5" y="273.3" width="4.3" height="2.3" fill="#4739f7"/>
<rect x="644.5" y="273.3" width="6.3" height="2.3" fill="#4634f6"/>
<rect x="650.5" y="273.3" width="10.3" height="2.3" fill="#4630f4"/>
<rect x="660.5" y="273.3" width="20.3" height="2.3" fill="#452fee"/>
<rect x="680.5" y="273.3" width="2.3" height="2.3" fill="#452de8"/>
<rect x="574.5" y="271.3" width="2.3" height="2.3" fill="#3f27c1"/>
<rect x="576.5" y="271.3" width="2.3" height="2.3" fill="#422ad2"/>
<rect x="578.5" y="271.3" width="2.3" height="2.3" fill="#4739f7"/>
<rect x="580.5" y="271.3" width="2.3" height="2.3" fill="#347afd"/>
<rect x="582.5" y="271.3" width="2.3" height="2.3" fill="#21a3e3"/>
<rect x="584.5" y="271.3" width="2.3" height="2.3" fill="#0cb3d3"/>
<rect x="586.5" y="271.3" width="2.3" height="2.3" fill="#03bbc2"/>
<rect x="588.5" y="271.3" width="2.3" height="2.3" fill="#1ac0b4"/>
<rect x="590.5" y="271.3" width="2.3" height="2.3" fill="#28c2ab"/>
<rect x="592.5" y="271.3" width="2.3" height="2.3" fill="#2cc4a6"/>
<rect x="594.5" y="271.3" width="2.3" height="2.3" fill="#30c5a1"/>
<rect x="596.5" y="271.3" width="2.3" height="2.3" fill="#2cc4a6"/>
<rect x="598.5" y="271.3" width="2.3" height="2.3" fill="#28c2ab"/>
<rect x="600.5" y="271.3" width="2.3" height="2.3" fill="#1ac0b4"/>
<rect x="602.5" y="271.3" width="2.3" height="2.3" fill="#0abdbe"/>
<rect x="604.5" y="271.3" width="2.3" height="2.3" fill="#02b7cb"/>
<rect x="606.5" y="271.3" width="2.3" height="2.3" fill="#17aeda"/>
<rect x="608.5" y="271.3" width="2.3" height="2.3" fill="#1fa6e2"/>
<rect x="610.5" y="271.3" width="2.3" height="2.3" fill="#269ae9"/>
<rect x="612.5" y="271.3" width="2.3" height="2.3" fill="#2c90f0"/>
<rect x="614.5" y="271.3" width="2.3" height="2.3" fill="#2e85f8"/>
<rect x="616.5" y="271.3" width="2.3" height="2.3" fill="#347afd"/>
<rect x="618.5" y="271.3" width="2.3" height="2.3" fill="#3b71fc"/>
<rect x="620.5" y="271.3" width="2.3" height="2.3" fill="#406bfc"/>
<rect x="622.5" y="271.3" width="2.3" height="2.3" fill="#435ffb"/>
<rect x="624.5" y="271.3" width="2.3" height="2.3" fill="#445afb"/>
<rect x="626.5" y="271.3" width="2.3" height="2.3" fill="#474efa"/>
<rect x="628.5" y="271.3" width="4.3" height="2.3" fill="#4849fa"/>
<rect x="632.5" y="271.3" width="2.3" height="2.3" fill="#4744f9"/>
<rect x="634.5" y="271.3" width="4.3" height="2.3" fill="#473ff8"/>
<rect x="638.5" y="271.3" width="4.3" height="2.3" fill="#4739f7"/>
<rect x="642.5" y="271.3" width="6.3" height="2.3" fill="#4634f6"/>
<rect x="648.5" y="271.3" width="10.3" height="2.3" fill="#4630f4"/>
<rect x="658.5" y="271.3" width="22.3" height="2.3" fill="#452fee"/>
<rect x="680.5" y="271.3" width="2.3" height="2.3" fill="#452de8"/>
<rect x="576.5" y="269.3" width="2.3" height="2.3" fill="#3f27c1"/>
<rect x="578.5" y="269.3" width="2.3" height="2.3" fill="#422ad2"/>
<rect x="580.5" y="269.3" width="2.3" height="2.3" fill="#4634f6"/>
<rect x="582.5" y="269.3" width="2.3" height="2.3" fill="#3874fc"/>
<rect x="584.5" y="269.3" width="2.3" height="2.3" fill="#269ae9"/>
<rect x="586.5" y="269.3" width="2.3" height="2.3" fill="#1aacdd"/>
<rect x="588.5" y="269.3" width="2.3" height="2.3" fill="#06b5cf"/>
<rect x="590.5" y="269.3" width="2.3" height="2.3" fill="#03bbc2"/>
<rect x="592.5" y="269.3" width="2.3" height="2.3" fill="#12beb9"/>
<rect x="594.5" y="269.3" width="6.3" height="2.3" fill="#1ac0b4"/>
<rect x="600.5" y="269.3" width="2.3" height="2.3" fill="#12beb9"/>
<rect x="602.5" y="269.3" width="2.3" height="2.3" fill="#03bbc2"/>
<rect x="604.5" y="269.3" width="2.3" height="2.3" fill="#06b5cf"/>
<rect x="606.5" y="269.3" width="2.3" height="2.3" fill="#17aeda"/>
<rect x="608.5" y="269.3" width="2.3" height="2.3" fill="#1fa6e2"/>
<rect x="610.5" y="269.3" width="2.3" height="2.3" fill="#259de7"/>
<rect x="612.5" y="269.3" width="2.3" height="2.3" fill="#2c90f0"/>
<rect x="614.5" y="269.3" width="2.3" height="2.3" fill="#2e85f8"/>
<rect x="616.5" y="269.3" width="2.3" height="2.3" fill="#347afd"/>
<rect x="618.5" y="269.3" width="2.3" height="2.3" fill="#3874fc"/>
<rect x="620.5" y="269.3" width="2.3" height="2.3" fill="#406bfc"/>
<rect x="622.5" y="269.3" width="2.3" height="2.3" fill="#435ffb"/>
<rect x="624.5" y="269.3" width="2.3" height="2.3" fill="#445afb"/>
<rect x="626.5" y="269.3" width="2.3" height="2.3" fill="#474efa"/>
<rect x="628.5" y="269.3" width="2.3" height="2.3" fill="#4849fa"/>
<rect x="630.5" y="269.3" width="2.3" height="2.3" fill="#4744f9"/>
<rect x="632.5" y="269.3" width="4.3" height="2.3" fill="#473ff8"/>
<rect x="636.5" y="269.3" width="4.3" height="2.3" fill="#4739f7"/>
<rect x="640.5" y="269.3" width="6.3" height="2.3" fill="#4634f6"/>
<rect x="646.5" y="269.3" width="10.3" height="2.3" fill="#4630f4"/>
<rect x="656.5" y="269.3" width="22.3" height="2.3" fill="#452fee"/>
<rect x="678.5" y="269.3" width="4.3" height="2.3" fill="#452de8"/>
<rect x="578.5" y="267.3" width="2.3" height="2.3" fill="#3f27c1"/>
<rect x="580.5" y="267.3" width="2.3" height="2.3" fill="#4028c9"/>
<rect x="582.5" y="267.3" width="2.3" height="2.3" fill="#4634f6"/>
<rect x="584.5" y="267.3" width="2.3" height="2.3" fill="#3e6efc"/>
<rect x="586.5" y="267.3" width="2.3" height="2.3" fill="#2a93ed"/>
<rect x="588.5" y="267.3" width="2.3" height="2.3" fill="#1fa6e2"/>
<rect x="590.5" y="267.3" width="2.3" height="2.3" fill="#17aeda"/>
<rect x="592.5" y="267.3" width="2.3" height="2.3" fill="#0cb3d3"/>
<rect x="594.5" y="267.3" width="2.3" height="2.3" fill="#02b7cb"/>
<rect x="596.5" y="267.3" width="2.3" height="2.3" fill="#01b9c6"/>
<rect x="598.5" y="267.3" width="2.3" height="2.3" fill="#03bbc2"/>
<rect x="600.5" y="267.3" width="2.3" height="2.3" fill="#01b9c6"/>
<rect x="602.5" y="267.3" width="2.3" height="2.3" fill="#02b7cb"/>
<rect x="604.5" y="267.3" width="2.3" height="2.3" fill="#0cb3d3"/>
<rect x="606.5" y="267.3" width="2.3" height="2.3" fill="#17aeda"/>
<rect x="608.5" y="267.3" width="2.3" height="2.3" fill="#1fa6e2"/>
<rect x="610.5" y="267.3" width="2.3" height="2.3" fill="#259de7"/>
<rect x="612.5" y="267.3" width="2.3" height="2.3" fill="#2a93ed"/>
<rect x="614.5" y="267.3" width="2.3" height="2.3" fill="#2d89f5"/>
<rect x="616.5" y="267.3" width="2.3" height="2.3" fill="#317efb"/>
<rect x="618.5" y="267.3" width="2.3" height="2.3" fill="#3874fc"/>
<rect x="620.5" y="267.3" width="2.3" height="2.3" fill="#3e6efc"/>
<rect x="622.5" y="267.3" width="2.3" height="2.3" fill="#4265fc"/>
<rect x="624.5" y="267.3" width="2.3" height="2.3" fill="#445afb"/>
<rect x="626.5" y="267.3" width="2.3" height="2.3" fill="#474efa"/>
<rect x="628.5" y="267.3" width="2.3" height="2.3" fill="#4849fa"/>
<rect x="630.5" y="267.3" width="2.3" height="2.3" fill="#4744f9"/>
<rect x="632.5" y="267.3" width="2.3" height="2.3" fill="#473ff8"/>
<rect x="634.5" y="267.3" width="4.3" height="2.3" fill="#4739f7"/>
<rect x="638.5" y="267.3" width="6.3" height="2.3" fill="#4634f6"/>
<rect x="644.5" y="267.3" width="10.3" height="2.3" fill="#4630f4"/>
<rect x="654.5" y="267.3" width="24.3" height="2.3" fill="#452fee"/>
<rect x="678.5" y="267.3" width="4.3" height="2.3" fill="#452de8"/>
<rect x="580.5" y="265.3" width="2.3" height="2.3" fill="#3f27c1"/>
<rect x="582.5" y="265.3" width="2.3" height="2.3" fill="#4028c9"/>
<rect x="584.5" y="265.3" width="2.3" height="2.3" fill="#4630f4"/>
<rect x="586.5" y="265.3" width="2.3" height="2.3" fill="#406bfc"/>
<rect x="588.5" y="265.3" width="2.3" height="2.3" fill="#2d8cf3"/>
<rect x="590.5" y="265.3" width="2.3" height="2.3" fill="#259de7"/>
<rect x="592.5" y="265.3" width="2.3" height="2.3" fill="#1fa6e2"/>
<rect x="594.5" y="265.3" width="2.3" height="2.3" fill="#1aacdd"/>
<rect x="596.5" y="265.3" width="2.3" height="2.3" fill="#12b1d7"/>
<rect x="598.5" y="265.3" width="6.3" height="2.3" fill="#0cb3d3"/>
<rect x="604.5" y="265.3" width="2.3" height="2.3" fill="#12b1d7"/>
<rect x="606.5" y="265.3" width="2.3" height="2.3" fill="#1aacdd"/>
<rect x="608.5" y="265.3" width="2.3" height="2.3" fill="#1fa6e2"/>
<rect x="610.5" y="265.3" width="2.3" height="2.3" fill="#259de7"/>
<rect x="612.5" y="265.3" width="2.3" height="2.3" fill="#2797eb"/>
<rect x="614.5" y="265.3" width="2.3" height="2.3" fill="#2d8cf3"/>
<rect x="616.5" y="265.3" width="2.3" height="2.3" fill="#2f82fa"/>
<rect x="618.5" y="265.3" width="2.3" height="2.3" fill="#3677fc"/>
<rect x="620.5" y="265.3" width="2.3" height="2.3" fill="#3b71fc"/>
<rect x="622.5" y="265.3" width="2.3" height="2.3" fill="#4265fc"/>
<rect x="624.5" y="265.3" width="2.3" height="2.3" fill="#445afb"/>
<rect x="626.5" y="265.3" width="2.3" height="2.3" fill="#4654fb"/>
<rect x="628.5" y="265.3" width="2.3" height="2.3" fill="#4849fa"/>
<rect x="630.5" y="265.3" width="2.3" height="2.3" fill="#4744f9"/>
<rect x="632.5" y="265.3" width="2.3" height="2.3" fill="#473ff8"/>
<rect x="634.5" y="265.3" width="4.3" height="2.3" fill="#4739f7"/>
<rect x="638.5" y="265.3" width="4.3" height="2.3" fill="#4634f6"/>
<rect x="642.5" y="265.3" width="10.3" height="2.3" fill="#4630f4"/>
<rect x="652.5" y="265.3" width="24.3" height="2.3" fill="#452fee"/>
<rect x="676.5" y="265.3" width="6.3" height="2.3" fill="#452de8"/>
<rect x="584.5" y="263.3" width="2.3" height="2.3" fill="#4028c9"/>
<rect x="586.5" y="263.3" width="2.3" height="2.3" fill="#452fee"/>
<rect x="588.5" y="263.3" width="2.3" height="2.3" fill="#4265fc"/>
<rect x="590.5" y="263.3" width="2.3" height="2.3" fill="#2f82fa"/>
<rect x="592.5" y="263.3" width="2.3" height="2.3" fill="#2a93ed"/>
<rect x="594.5" y="263.3" width="2.3" height="2.3" fill="#259de7"/>
<rect x="596.5" y="263.3" width="2.3" height="2.3" fill="#21a3e3"/>
<rect x="598.5" y="263.3" width="2.3" height="2.3" fill="#1da9e0"/>
<rect x="600.5" y="263.3" width="6.3" height="2.3" fill="#1aacdd"/>
<rect x="606.5" y="263.3" width="2.3" height="2.3" fill="#1da9e0"/>
<rect x="608.5" y="263.3" width="2.3" height="2.3" fill="#21a3e3"/>
<rect x="610.5" y="263.3" width="2.3" height="2.3" fill="#259de7"/>
<rect x="612.5" y="263.3" width="2.3" height="2.3" fill="#2797eb"/>
<rect x="614.5" y="263.3" width="2.3" height="2.3" fill="#2d8cf3"/>
<rect x="616.5" y="263.3" width="2.3" height="2.3" fill="#2e85f8"/>
<rect x="618.5" y="263.3" width="2.3" height="2.3" fill="#347afd"/>
<rect x="620.5" y="263.3" width="2.3" height="2.3" fill="#3b71fc"/>
<rect x="622.5" y="263.3" width="2.3" height="2.3" fill="#406bfc"/>
<rect x="624.5" y="263.3" width="2.3" height="2.3" fill="#435ffb"/>
<rect x="626.5" y="263.3" width="2.3" height="2.3" fill="#4654fb"/>
<rect x="628.5" y="263.3" width="2.3" height="2.3" fill="#474efa"/>
<rect x="630.5" y="263.3" width="2.3" height="2.3" fill="#4744f9"/>
<rect x="632.5" y="263.3" width="2.3" height="2.3" fill="#473ff8"/>
<rect x="634.5" y="263.3" width="4.3" height="2.3" fill="#4739f7"/>
<rect x="638.5" y="263.3" width="4.3" height="2.3" fill="#4634f6"/>
<rect x="642.5" y="263.3" width="8.3" height="2.3" fill="#4630f4"/>
<rect x="650.5" y="263.3" width="24.3" height="2.3" fill="#452fee"/>
<rect x="674.5" y="263.3" width="8.3" height="2.3" fill="#452de8"/>
<rect x="586.5" y="261.3" width="2.3" height="2.3" fill="#4028c9"/>
<rect x="588.5" y="261.3" width="2.3" height="2.3" fill="#452fee"/>
<rect x="590.5" y="261.3" width="2.3" height="2.3" fill="#445afb"/>
<rect x="592.5" y="261.3" width="2.3" height="2.3" fill="#347afd"/>
<rect x="594.5" y="261.3" width="2.3" height="2.3" fill="#2d8cf3"/>
<rect x="596.5" y="261.3" width="2.3" height="2.3" fill="#2797eb"/>
<rect x="598.5" y="261.3" width="2.3" height="2.3" fill="#259de7"/>
<rect x="600.5" y="261.3" width="2.3" height="2.3" fill="#23a0e5"/>
<rect x="602.5" y="261.3" width="6.3" height="2.3" fill="#21a3e3"/>
<rect x="608.5" y="261.3" width="2.3" height="2.3" fill="#23a0e5"/>
<rect x="610.5" y="261.3" width="2.3" height="2.3" fill="#259de7"/>
<rect x="612.5" y="261.3" width="2.3" height="2.3" fill="#2797eb"/>
<rect x="614.5" y="261.3" width="2.3" height="2.3" fill="#2c90f0"/>
<rect x="616.5" y="261.3" width="2.3" height="2.3" fill="#2e85f8"/>
<rect x="618.5" y="261.3" width="2.3" height="2.3" fill="#317efb"/>
<rect x="620.5" y="261.3" width="2.3" height="2.3" fill="#3874fc"/>
<rect x="622.5" y="261.3" width="2.3" height="2.3" fill="#3e6efc"/>
<rect x="624.5" y="261.3" width="2.3" height="2.3" fill="#4265fc"/>
<rect x="626.5" y="261.3" width="2.3" height="2.3" fill="#445afb"/>
<rect x="628.5" y="261.3" width="2.3" height="2.3" fill="#474efa"/>
<rect x="630.5" y="261.3" width="2.3" height="2.3" fill="#4849fa"/>
<rect x="632.5" y="261.3" width="2.3" height="2.3" fill="#4744f9"/>
<rect x="634.5" y="261.3" width="2.3" height="2.3" fill="#473ff8"/>
<rect x="636.5" y="261.3" width="2.3" height="2.3" fill="#4739f7"/>
<rect x="638.5" y="261.3" width="4.3" height="2.3" fill="#4634f6"/>
<rect x="642.5" y="261.3" width="6.3" height="2.3" fill="#4630f4"/>
<rect x="648.5" y="261.3" width="24.3" height="2.3" fill="#452fee"/>
<rect x="672.5" y="261.3" width="10.3" height="2.3" fill="#452de8"/>
<rect x="588.5" y="259.3" width="2.3" height="2.3" fill="#4028c9"/>
<rect x="590.5" y="259.3" width="2.3" height="2.3" fill="#452de8"/>
<rect x="592.5" y="259.3" width="2.3" height="2.3" fill="#4654fb"/>
<rect x="594.5" y="259.3" width="2.3" height="2.3" fill="#3677fc"/>
<rect x="596.5" y="259.3" width="2.3" height="2.3" fill="#2e85f8"/>
<rect x="598.5" y="259.3" width="2.3" height="2.3" fill="#2d8cf3"/>
<rect x="600.5" y="259.3" width="2.3" height="2.3" fill="#2a93ed"/>
<rect x="602.5" y="259.3" width="2.3" height="2.3" fill="#2797eb"/>
<rect x="604.5" y="259.3" width="6.3" height="2.3" fill="#269ae9"/>
<rect x="610.5" y="259.3" width="2.3" height="2.3" fill="#2797eb"/>
<rect x="612.5" y="259.3" width="2.3" height="2.3" fill="#2a93ed"/>
<rect x="614.5" y="259.3" width="2.3" height="2.3" fill="#2c90f0"/>
<rect x="616.5" y="259.3" width="2.3" height="2.3" fill="#2d89f5"/>
<rect x="618.5" y="259.3" width="2.3" height="2.3" fill="#2f82fa"/>
<rect x="620.5" y="259.3" width="2.3" height="2.3" fill="#3677fc"/>
<rect x="622.5" y="259.3" width="2.3" height="2.3" fill="#3b71fc"/>
<rect x="624.5" y="259.3" width="2.3" height="2.3" fill="#406bfc"/>
<rect x="626.5" y="259.3" width="2.3" height="2.3" fill="#435ffb"/>
<rect x="628.5" y="259.3" width="2.3" height="2.3" fill="#4654fb"/>
<rect x="630.5" y="259.3" width="2.3" height="2.3" fill="#474efa"/>
<rect x="632.5" y="259.3" width="2.3" height="2.3" fill="#4744f9"/>
<rect x="634.5" y="259.3" width="2.3" height="2.3" fill="#473ff8"/>
<rect x="636.5" y="259.3" width="2.3" height="2.3" fill="#4739f7"/>
<rect x="638.5" y="259.3" width="4.3" height="2.3" fill="#4634f6"/>
<rect x="642.5" y="259.3" width="6.3" height="2.3" fill="#4630f4"/>
<rect x="648.5" y="259.3" width="24.3" height="2.3" fill="#452fee"/>
<rect x="672.5" y="259.3" width="10.3" height="2.3" fill="#452de8"/>
<rect x="590.5" y="257.3" width="2.3" height="2.3" fill="#4028c9"/>
<rect x="592.5" y="257.3" width="2.3" height="2.3" fill="#452de8"/>
<rect x="594.5" y="257.3" width="2.3" height="2.3" fill="#474efa"/>
<rect x="596.5" y="257.3" width="2.3" height="2.3" fill="#3b71fc"/>
<rect x="598.5" y="257.3" width="2.3" height="2.3" fill="#317efb"/>
<rect x="600.5" y="257.3" width="2.3" height="2.3" fill="#2e85f8"/>
<rect x="602.5" y="257.3" width="2.3" height="2.3" fill="#2d8cf3"/>
<rect x="604.5" y="257.3" width="2.3" height="2.3" fill="#2c90f0"/>
<rect x="606.5" y="257.3" width="6.3" height="2.3" fill="#2a93ed"/>
<rect x="612.5" y="257.3" width="2.3" height="2.3" fill="#2c90f0"/>
<rect x="614.5" y="257.3" width="2.3" height="2.3" fill="#2d8cf3"/>
<rect x="616.5" y="257.3" width="2.3" height="2.3" fill="#2d89f5"/>
<rect x="618.5" y="257.3" width="2.3" height="2.3" fill="#2f82fa"/>
<rect x="620.5" y="257.3" width="2.3" height="2.3" fill="#347afd"/>
<rect x="622.5" y="257.3" width="2.3" height="2.3" fill="#3874fc"/>
<rect x="624.5" y="257.3" width="2.3" height="2.3" fill="#3e6efc"/>
<rect x="626.5" y="257.3" width="2.3" height="2.3" fill="#4265fc"/>
<rect x="628.5" y="257.3" width="2.3" height="2.3" fill="#445afb"/>
<rect x="630.5" y="257.3" width="2.3" height="2.3" fill="#4654fb"/>
<rect x="632.5" y="257.3" width="2.3" height="2.3" fill="#4849fa"/>
<rect x="634.5" y="257.3" width="2.3" height="2.3" fill="#4744f9"/>
<rect x="636.5" y="257.3" width="2.3" height="2.3" fill="#473ff8"/>
<rect x="638.5" y="257.3" width="2.3" height="2.3" fill="#4739f7"/>
<rect x="640.5" y="257.3" width="4.3" height="2.3" fill="#4634f6"/>
<rect x="644.5" y="257.3" width="4.3" height="2.3" fill="#4630f4"/>
<rect x="648.5" y="257.3" width="22.3" height="2.3" fill="#452fee"/>
<rect x="670.5" y="257.3" width="12.3" height="2.3" fill="#452de8"/>
<rect x="592.5" y="255.3" width="2.3" height="2.3" fill="#4028c9"/>
<rect x="594.5" y="255.3" width="2.3" height="2.3" fill="#442ce2"/>
<rect x="596.5" y="255.3" width="2.3" height="2.3" fill="#4849fa"/>
<rect x="598.5" y="255.3" width="2.3" height="2.3" fill="#406bfc"/>
<rect x="600.5" y="255.3" width="2.3" height="2.3" fill="#3677fc"/>
<rect x="602.5" y="255.3" width="2.3" height="2.3" fill="#317efb"/>
<rect x="604.5" y="255.3" width="2.3" height="2.3" fill="#2f82fa"/>
<rect x="606.5" y="255.3" width="4.3" height="2.3" fill="#2d89f5"/>
<rect x="610.5" y="255.3" width="4.3" height="2.3" fill="#2d8cf3"/>
<rect x="614.5" y="255.3" width="2.3" height="2.3" fill="#2d89f5"/>
<rect x="616.5" y="255.3" width="2.3" height="2.3" fill="#2e85f8"/>
<rect x="618.5" y="255.3" width="2.3" height="2.3" fill="#2f82fa"/>
<rect x="620.5" y="255.3" width="2.3" height="2.3" fill="#347afd"/>
<rect x="622.5" y="255.3" width="2.3" height="2.3" fill="#3677fc"/>
<rect x="624.5" y="255.3" width="2.3" height="2.3" fill="#3b71fc"/>
<rect x="626.5" y="255.3" width="2.3" height="2.3" fill="#406bfc"/>
<rect x="628.5" y="255.3" width="2.3" height="2.3" fill="#435ffb"/>
<rect x="630.5" y="255.3" width="2.3" height="2.3" fill="#4654fb"/>
<rect x="632.5" y="255.3" width="2.3" height="2.3" fill="#474efa"/>
<rect x="634.5" y="255.3" width="2.3" height="2.3" fill="#4849fa"/>
<rect x="636.5" y="255.3" width="2.3" height="2.3" fill="#473ff8"/>
<rect x="638.5" y="255.3" width="2.3" height="2.3" fill="#4739f7"/>
<rect x="640.5" y="255.3" width="4.3" height="2.3" fill="#4634f6"/>
<rect x="644.5" y="255.3" width="6.3" height="2.3" fill="#4630f4"/>
<rect x="650.5" y="255.3" width="20.3" height="2.3" fill="#452fee"/>
<rect x="670.5" y="255.3" width="12.3" height="2.3" fill="#452de8"/>
<rect x="594.5" y="253.3" width="2.3" height="2.3" fill="#3f27c1"/>
<rect x="596.5" y="253.3" width="2.3" height="2.3" fill="#442ce2"/>
<rect x="598.5" y="253.3" width="2.3" height="2.3" fill="#4744f9"/>
<rect x="600.5" y="253.3" width="2.3" height="2.3" fill="#4265fc"/>
<rect x="602.5" y="253.3" width="2.3" height="2.3" fill="#3b71fc"/>
<rect x="604.5" y="253.3" width="2.3" height="2.3" fill="#3677fc"/>
<rect x="606.5" y="253.3" width="2.3" height="2.3" fill="#317efb"/>
<rect x="608.5" y="253.3" width="4.3" height="2.3" fill="#2f82fa"/>
<rect x="612.5" y="253.3" width="4.3" height="2.3" fill="#2e85f8"/>
<rect x="616.5" y="253.3" width="2.3" height="2.3" fill="#2f82fa"/>
<rect x="618.5" y="253.3" width="2.3" height="2.3" fill="#317efb"/>
<rect x="620.5" y="253.3" width="2.3" height="2.3" fill="#347afd"/>
<rect x="622.5" y="253.3" width="2.3" height="2.3" fill="#3677fc"/>
<rect x="624.5" y="253.3" width="2.3" height="2.3" fill="#3b71fc"/>
<rect x="626.5" y="253.3" width="2.3" height="2.3" fill="#3e6efc"/>
<rect x="628.5" y="253.3" width="2.3" height="2.3" fill="#4265fc"/>
<rect x="630.5" y="253.3" width="2.3" height="2.3" fill="#445afb"/>
<rect x="632.5" y="253.3" width="2.3" height="2.3" fill="#4654fb"/>
<rect x="634.5" y="253.3" width="2.3" height="2.3" fill="#4849fa"/>
<rect x="636.5" y="253.3" width="2.3" height="2.3" fill="#4744f9"/>
<rect x="638.5" y="253.3" width="2.3" height="2.3" fill="#473ff8"/>
<rect x="640.5" y="253.3" width="2.3" height="2.3" fill="#4739f7"/>
<rect x="642.5" y="253.3" width="4.3" height="2.3" fill="#4634f6"/>
<rect x="646.5" y="253.3" width="4.3" height="2.3" fill="#4630f4"/>
<rect x="650.5" y="253.3" width="20.3" height="2.3" fill="#452fee"/>
<rect x="670.5" y="253.3" width="12.3" height="2.3" fill="#452de8"/>
<rect x="596.5" y="251.3" width="2.3" height="2.3" fill="#3f27c1"/>
<rect x="598.5" y="251.3" width="2.3" height="2.3" fill="#442ce2"/>
<rect x="600.5" y="251.3" width="2.3" height="2.3" fill="#473ff8"/>
<rect x="602.5" y="251.3" width="2.3" height="2.3" fill="#435ffb"/>
<rect x="604.5" y="251.3" width="2.3" height="2.3" fill="#3e6efc"/>
<rect x="606.5" y="251.3" width="2.3" height="2.3" fill="#3b71fc"/>
<rect x="608.5" y="251.3" width="2.3" height="2.3" fill="#3677fc"/>
<rect x="610.5" y="251.3" width="4.3" height="2.3" fill="#347afd"/>
<rect x="614.5" y="251.3" width="4.3" height="2.3" fill="#317efb"/>
<rect x="618.5" y="251.3" width="4.3" height="2.3" fill="#347afd"/>
<rect x="622.5" y="251.3" width="2.3" height="2.3" fill="#3677fc"/>
<rect x="624.5" y="251.3" width="2.3" height="2.3" fill="#3874fc"/>
<rect x="626.5" y="251.3" width="2.3" height="2.3" fill="#3e6efc"/>
<rect x="628.5" y="251.3" width="2.3" height="2.3" fill="#406bfc"/>
<rect x="630.5" y="251.3" width="2.3" height="2.3" fill="#435ffb"/>
<rect x="632.5" y="251.3" width="2.3" height="2.3" fill="#445afb"/>
<rect x="634.5" y="251.3" width="2.3" height="2.3" fill="#474efa"/>
<rect x="636.5" y="251.3" width="2.3" height="2.3" fill="#4849fa"/>
<rect x="638.5" y="251.3" width="2.3" height="2.3" fill="#4744f9"/>
<rect x="640.5" y="251.3" width="2.3" height="2.3" fill="#473ff8"/>
<rect x="642.5" y="251.3" width="2.3" height="2.3" fill="#4739f7"/>
<rect x="644.5" y="251.3" width="2.3" height="2.3" fill="#4634f6"/>
<rect x="646.5" y="251.3" width="6.3" height="2.3" fill="#4630f4"/>
<rect x="652.5" y="251.3" width="20.3" height="2.3" fill="#452fee"/>
<rect x="672.5" y="251.3" width="10.3" height="2.3" fill="#452de8"/>
<rect x="598.5" y="249.3" width="2.3" height="2.3" fill="#3f27c1"/>
<rect x="600.5" y="249.3" width="2.3" height="2.3" fill="#442ce2"/>
<rect x="602.5" y="249.3" width="2.3" height="2.3" fill="#473ff8"/>
<rect x="604.5" y="249.3" width="2.3" height="2.3" fill="#445afb"/>
<rect x="606.5" y="249.3" width="2.3" height="2.3" fill="#4265fc"/>
<rect x="608.5" y="249.3" width="2.3" height="2.3" fill="#3e6efc"/>
<rect x="610.5" y="249.3" width="2.3" height="2.3" fill="#3b71fc"/>
<rect x="612.5" y="249.3" width="2.3" height="2.3" fill="#3874fc"/>
<rect x="614.5" y="249.3" width="8.3" height="2.3" fill="#3677fc"/>
<rect x="622.5" y="249.3" width="4.3" height="2.3" fill="#3874fc"/>
<rect x="626.5" y="249.3" width="2.3" height="2.3" fill="#3b71fc"/>
<rect x="628.5" y="249.3" width="2.3" height="2.3" fill="#406bfc"/>
<rect x="630.5" y="249.3" width="2.3" height="2.3" fill="#4265fc"/>
<rect x="632.5" y="249.3" width="2.3" height="2.3" fill="#435ffb"/>
<rect x="634.5" y="249.3" width="2.3" height="2.3" fill="#4654fb"/>
<rect x="636.5" y="249.3" width="2.3" height="2.3" fill="#474efa"/>
<rect x="638.5" y="249.3" width="2.3" height="2.3" fill="#4744f9"/>
<rect x="640.5" y="249.3" width="2.3" height="2.3" fill="#473ff8"/>
<rect x="642.5" y="249.3" width="4.3" height="2.3" fill="#4739f7"/>
<rect x="646.5" y="249.3" width="2.3" height="2.3" fill="#4634f6"/>
<rect x="648.5" y="249.3" width="6.3" height="2.3" fill="#4630f4"/>
<rect x="654.5" y="249.3" width="18.3" height="2.3" fill="#452fee"/>
<rect x="672.5" y="249.3" width="10.3" height="2.3" fill="#452de8"/>
<rect x="600.5" y="247.3" width="2.3" height="2.3" fill="#3f27c1"/>
<rect x="602.5" y="247.3" width="2.3" height="2.3" fill="#432bda"/>
<rect x="604.5" y="247.3" width="2.3" height="2.3" fill="#4739f7"/>
<rect x="606.5" y="247.3" width="2.3" height="2.3" fill="#4654fb"/>
<rect x="608.5" y="247.3" width="2.3" height="2.3" fill="#435ffb"/>
<rect x="610.5" y="247.3" width="2.3" height="2.3" fill="#406bfc"/>
<rect x="612.5" y="247.3" width="4.3" height="2.3" fill="#3e6efc"/>
<rect x="616.5" y="247.3" width="4.3" height="2.3" fill="#3b71fc"/>
<rect x="620.5" y="247.3" width="2.3" height="2.3" fill="#3874fc"/>
<rect x="622.5" y="247.3" width="4.3" height="2.3" fill="#3b71fc"/>
<rect x="626.5" y="247.3" width="2.3" height="2.3" fill="#3e6efc"/>
<rect x="628.5" y="247.3" width="2.3" height="2.3" fill="#406bfc"/>
<rect x="630.5" y="247.3" width="2.3" height="2.3" fill="#4265fc"/>
<rect x="632.5" y="247.3" width="2.3" height="2.3" fill="#435ffb"/>
<rect x="634.5" y="247.3" width="2.3" height="2.3" fill="#445afb"/>
<rect x="636.5" y="247.3" width="2.3" height="2.3" fill="#474efa"/>
<rect x="638.5" y="247.3" width="2.3" height="2.3" fill="#4849fa"/>
<rect x="640.5" y="247.3" width="2.3" height="2.3" fill="#4744f9"/>
<rect x="642.5" y="247.3" width="2.3" height="2.3" fill="#473ff8"/>
<rect x="644.5" y="247.3" width="2.3" height="2.3" fill="#4739f7"/>
<rect x="646.5" y="247.3" width="4.3" height="2.3" fill="#4634f6"/>
<rect x="650.5" y="247.3" width="4.3" height="2.3" fill="#4630f4"/>
<rect x="654.5" y="247.3" width="20.3" height="2.3" fill="#452fee"/>
<rect x="674.5" y="247.3" width="8.3" height="2.3" fill="#452de8"/>
<rect x="602.5" y="245.3" width="2.3" height="2.3" fill="#3f27c1"/>
<rect x="604.5" y="245.3" width="2.3" height="2.3" fill="#432bda"/>
<rect x="606.5" y="245.3" width="2.3" height="2.3" fill="#4634f6"/>
<rect x="608.5" y="245.3" width="2.3" height="2.3" fill="#474efa"/>
<rect x="610.5" y="245.3" width="2.3" height="2.3" fill="#445afb"/>
<rect x="612.5" y="245.3" width="2.3" height="2.3" fill="#435ffb"/>
<rect x="614.5" y="245.3" width="2.3" height="2.3" fill="#4265fc"/>
<rect x="616.5" y="245.3" width="2.3" height="2.3" fill="#406bfc"/>
<rect x="618.5" y="245.3" width="10.3" height="2.3" fill="#3e6efc"/>
<rect x="628.5" y="245.3" width="2.3" height="2.3" fill="#406bfc"/>
<rect x="630.5" y="245.3" width="2.3" height="2.3" fill="#4265fc"/>
<rect x="632.5" y="245.3" width="2.3" height="2.3" fill="#435ffb"/>
<rect x="634.5" y="245.3" width="2.3" height="2.3" fill="#445afb"/>
<rect x="636.5" y="245.3" width="2.3" height="2.3" fill="#4654fb"/>
<rect x="638.5" y="245.3" width="2.3" height="2.3" fill="#474efa"/>
<rect x="640.5" y="245.3" width="2.3" height="2.3" fill="#4849fa"/>
<rect x="642.5" y="245.3" width="2.3" height="2.3" fill="#4744f9"/>
<rect x="644.5" y="245.3" width="2.3" height="2.3" fill="#473ff8"/>
<rect x="646.5" y="245.3" width="2.3" height="2.3" fill="#4739f7"/>
<rect x="648.5" y="245.3" width="4.3" height="2.3" fill="#4634f6"/>
<rect x="652.5" y="245.3" width="4.3" height="2.3" fill="#4630f4"/>
<rect x="656.5" y="245.3" width="20.3" height="2.3" fill="#452fee"/>
<rect x="676.5" y="245.3" width="6.3" height="2.3" fill="#452de8"/>
<rect x="604.5" y="243.3" width="2.3" height="2.3" fill="#3f27c1"/>
<rect x="606.5" y="243.3" width="2.3" height="2.3" fill="#432bda"/>
<rect x="608.5" y="243.3" width="2.3" height="2.3" fill="#4634f6"/>
<rect x="610.5" y="243.3" width="2.3" height="2.3" fill="#4849fa"/>
<rect x="612.5" y="243.3" width="2.3" height="2.3" fill="#4654fb"/>
<rect x="614.5" y="243.3" width="2.3" height="2.3" fill="#445afb"/>
<rect x="616.5" y="243.3" width="2.3" height="2.3" fill="#435ffb"/>
<rect x="618.5" y="243.3" width="4.3" height="2.3" fill="#4265fc"/>
<rect x="622.5" y="243.3" width="8.3" height="2.3" fill="#406bfc"/>
<rect x="630.5" y="243.3" width="2.3" height="2.3" fill="#4265fc"/>
<rect x="632.5" y="243.3" width="2.3" height="2.3" fill="#435ffb"/>
<rect x="634.5" y="243.3" width="2.3" height="2.3" fill="#445afb"/>
<rect x="636.5" y="243.3" width="2.3" height="2.3" fill="#4654fb"/>
<rect x="638.5" y="243.3" width="2.3" height="2.3" fill="#474efa"/>
<rect x="640.5" y="243.3" width="2.3" height="2.3" fill="#4849fa"/>
<rect x="642.5" y="243.3" width="2.3" height="2.3" fill="#4744f9"/>
<rect x="644.5" y="243.3" width="2.3" height="2.3" fill="#473ff8"/>
<rect x="646.5" y="243.3" width="4.3" height="2.3" fill="#4739f7"/>
<rect x="650.5" y="243.3" width="2.3" height="2.3" fill="#4634f6"/>
<rect x="652.5" y="243.3" width="6.3" height="2.3" fill="#4630f4"/>
<rect x="658.5" y="243.3" width="20.3" height="2.3" fill="#452fee"/>
<rect x="678.5" y="243.3" width="4.3" height="2.3" fill="#452de8"/>
<rect x="606.5" y="241.3" width="2.3" height="2.3" fill="#3f27c1"/>
<rect x="608.5" y="241.3" width="2.3" height="2.3" fill="#432bda"/>
<rect x="610.5" y="241.3" width="2.3" height="2.3" fill="#4630f4"/>
<rect x="612.5" y="241.3" width="2.3" height="2.3" fill="#4744f9"/>
<rect x="614.5" y="241.3" width="2.3" height="2.3" fill="#474efa"/>
<rect x="616.5" y="241.3" width="2.3" height="2.3" fill="#4654fb"/>
<rect x="618.5" y="241.3" width="2.3" height="2.3" fill="#445afb"/>
<rect x="620.5" y="241.3" width="4.3" height="2.3" fill="#435ffb"/>
<rect x="624.5" y="241.3" width="6.3" height="2.3" fill="#4265fc"/>
<rect x="630.5" y="241.3" width="4.3" height="2.3" fill="#435ffb"/>
<rect x="634.5" y="241.3" width="2.3" height="2.3" fill="#445afb"/>
<rect x="636.5" y="241.3" width="4.3" height="2.3" fill="#4654fb"/>
<rect x="640.5" y="241.3" width="2.3" height="2.3" fill="#474efa"/>
<rect x="642.5" y="241.3" width="2.3" height="2.3" fill="#4849fa"/>
<rect x="644.5" y="241.3" width="2.3" height="2.3" fill="#4744f9"/>
<rect x="646.5" y="241.3" width="2.3" height="2.3" fill="#473ff8"/>
<rect x="648.5" y="241.3" width="2.3" height="2.3" fill="#4739f7"/>
<rect x="650.5" y="241.3" width="4.3" height="2.3" fill="#4634f6"/>
<rect x="654.5" y="241.3" width="6.3" height="2.3" fill="#4630f4"/>
<rect x="660.5" y="241.3" width="20.3" height="2.3" fill="#452fee"/>
<rect x="680.5" y="241.3" width="2.3" height="2.3" fill="#452de8"/>
<rect x="608.5" y="239.3" width="2.3" height="2.3" fill="#3f27c1"/>
<rect x="610.5" y="239.3" width="2.3" height="2.3" fill="#432bda"/>
<rect x="612.5" y="239.3" width="2.3" height="2.3" fill="#4630f4"/>
<rect x="614.5" y="239.3" width="2.3" height="2.3" fill="#4744f9"/>
<rect x="616.5" y="239.3" width="2.3" height="2.3" fill="#4849fa"/>
<rect x="618.5" y="239.3" width="2.3" height="2.3" fill="#474efa"/>
<rect x="620.5" y="239.3" width="2.3" height="2.3" fill="#4654fb"/>
<rect x="622.5" y="239.3" width="6.3" height="2.3" fill="#445afb"/>
<rect x="628.5" y="239.3" width="4.3" height="2.3" fill="#435ffb"/>
<rect x="632.5" y="239.3" width="4.3" height="2.3" fill="#445afb"/>
<rect x="636.5" y="239.3" width="4.3" height="2.3" fill="#4654fb"/>
<rect x="640.5" y="239.3" width="2.3" height="2.3" fill="#474efa"/>
<rect x="642.5" y="239.3" width="2.3" height="2.3" fill="#4849fa"/>
<rect x="644.5" y="239.3" width="2.3" height="2.3" fill="#4744f9"/>
<rect x="646.5" y="239.3" width="2.3" height="2.3" fill="#473ff8"/>
<rect x="648.5" y="239.3" width="4.3" height="2.3" fill="#4739f7"/>
<rect x="652.5" y="239.3" width="4.3" height="2.3" fill="#4634f6"/>
<rect x="656.5" y="239.3" width="4.3" height="2.3" fill="#4630f4"/>
<rect x="660.5" y="239.3" width="22.3" height="2.3" fill="#452fee"/>
<rect x="610.5" y="237.3" width="2.3" height="2.3" fill="#3f27c1"/>
<rect x="612.5" y="237.3" width="2.3" height="2.3" fill="#422ad2"/>
<rect x="614.5" y="237.3" width="2.3" height="2.3" fill="#4630f4"/>
<rect x="616.5" y="237.3" width="2.3" height="2.3" fill="#473ff8"/>
<rect x="618.5" y="237.3" width="2.3" height="2.3" fill="#4849fa"/>
<rect x="620.5" y="237.3" width="4.3" height="2.3" fill="#474efa"/>
<rect x="624.5" y="237.3" width="6.3" height="2.3" fill="#4654fb"/>
<rect x="630.5" y="237.3" width="4.3" height="2.3" fill="#445afb"/>
<rect x="634.5" y="237.3" width="4.3" height="2.3" fill="#4654fb"/>
<rect x="638.5" y="237.3" width="4.3" height="2.3" fill="#474efa"/>
<rect x="642.5" y="237.3" width="2.3" height="2.3" fill="#4849fa"/>
<rect x="644.5" y="237.3" width="2.3" height="2.3" fill="#4744f9"/>
<rect x="646.5" y="237.3" width="4.3" height="2.3" fill="#473ff8"/>
<rect x="650.5" y="237.3" width="2.3" height="2.3" fill="#4739f7"/>
<rect x="652.5" y="237.3" width="4.3" height="2.3" fill="#4634f6"/>
<rect x="656.5" y="237.3" width="6.3" height="2.3" fill="#4630f4"/>
<rect x="662.5" y="237.3" width="20.3" height="2.3" fill="#452fee"/>
<rect x="612.5" y="235.3" width="2.3" height="2.3" fill="#3f27c1"/>
<rect x="614.5" y="235.3" width="2.3" height="2.3" fill="#422ad2"/>
<rect x="616.5" y="235.3" width="2.3" height="2.3" fill="#452fee"/>
<rect x="618.5" y="235.3" width="2.3" height="2.3" fill="#473ff8"/>
<rect x="620.5" y="235.3" width="2.3" height="2.3" fill="#4744f9"/>
<rect x="622.5" y="235.3" width="2.3" height="2.3" fill="#4849fa"/>
<rect x="624.5" y="235.3" width="6.3" height="2.3" fill="#474efa"/>
<rect x="630.5" y="235.3" width="6.3" height="2.3" fill="#4654fb"/>
<rect x="636.5" y="235.3" width="6.3" height="2.3" fill="#474efa"/>
<rect x="642.5" y="235.3" width="2.3" height="2.3" fill="#4849fa"/>
<rect x="644.5" y="235.3" width="4.3" height="2.3" fill="#4744f9"/>
<rect x="648.5" y="235.3" width="2.3" height="2.3" fill="#473ff8"/>
<rect x="650.5" y="235.3" width="4.3" height="2.3" fill="#4739f7"/>
<rect x="654.5" y="235.3" width="4.3" height="2.3" fill="#4634f6"/>
<rect x="658.5" y="235.3" width="6.3" height="2.3" fill="#4630f4"/>
<rect x="664.5" y="235.3" width="18.3" height="2.3" fill="#452fee"/>
<rect x="614.5" y="233.3" width="2.3" height="2.3" fill="#3f27c1"/>
<rect x="616.5" y="233.3" width="2.3" height="2.3" fill="#422ad2"/>
<rect x="618.5" y="233.3" width="2.3" height="2.3" fill="#452fee"/>
<rect x="620.5" y="233.3" width="2.3" height="2.3" fill="#4739f7"/>
<rect x="622.5" y="233.3" width="4.3" height="2.3" fill="#4744f9"/>
<rect x="626.5" y="233.3" width="4.3" height="2.3" fill="#4849fa"/>
<rect x="630.5" y="233.3" width="10.3" height="2.3" fill="#474efa"/>
<rect x="640.5" y="233.3" width="4.3" height="2.3" fill="#4849fa"/>
<rect x="644.5" y="233.3" width="4.3" height="2.3" fill="#4744f9"/>
<rect x="648.5" y="233.3" width="2.3" height="2.3" fill="#473ff8"/>
<rect x="650.5" y="233.3" width="4.3" height="2.3" fill="#4739f7"/>
<rect x="654.5" y="233.3" width="4.3" height="2.3" fill="#4634f6"/>
<rect x="658.5" y="233.3" width="6.3" height="2.3" fill="#4630f4"/>
<rect x="664.5" y="233.3" width="18.3" height="2.3" fill="#452fee"/>
<rect x="616.5" y="231.3" width="2.3" height="2.3" fill="#3f27c1"/>
<rect x="618.5" y="231.3" width="2.3" height="2.3" fill="#422ad2"/>
<rect x="620.5" y="231.3" width="2.3" height="2.3" fill="#452fee"/>
<rect x="622.5" y="231.3" width="2.3" height="2.3" fill="#4739f7"/>
<rect x="624.5" y="231.3" width="2.3" height="2.3" fill="#473ff8"/>
<rect x="626.5" y="231.3" width="4.3" height="2.3" fill="#4744f9"/>
<rect x="630.5" y="231.3" width="12.3" height="2.3" fill="#4849fa"/>
<rect x="642.5" y="231.3" width="6.3" height="2.3" fill="#4744f9"/>
<rect x="648.5" y="231.3" width="4.3" height="2.3" fill="#473ff8"/>
<rect x="652.5" y="231.3" width="2.3" height="2.3" fill="#4739f7"/>
<rect x="654.5" y="231.3" width="6.3" height="2.3" fill="#4634f6"/>
<rect x="660.5" y="231.3" width="6.3" height="2.3" fill="#4630f4"/>
<rect x="666.5" y="231.3" width="16.3" height="2.3" fill="#452fee"/>
<rect x="618.5" y="229.3" width="2.3" height="2.3" fill="#3f27c1"/>
<rect x="620.5" y="229.3" width="2.3" height="2.3" fill="#422ad2"/>
<rect x="622.5" y="229.3" width="2.3" height="2.3" fill="#452fee"/>
<rect x="624.5" y="229.3" width="2.3" height="2.3" fill="#4739f7"/>
<rect x="626.5" y="229.3" width="4.3" height="2.3" fill="#473ff8"/>
<rect x="630.5" y="229.3" width="16.3" height="2.3" fill="#4744f9"/>
<rect x="646.5" y="229.3" width="6.3" height="2.3" fill="#473ff8"/>
<rect x="652.5" y="229.3" width="4.3" height="2.3" fill="#4739f7"/>
<rect x="656.5" y="229.3" width="4.3" height="2.3" fill="#4634f6"/>
<rect x="660.5" y="229.3" width="8.3" height="2.3" fill="#4630f4"/>
<rect x="668.5" y="229.3" width="14.3" height="2.3" fill="#452fee"/>
<rect x="620.5" y="227.3" width="2.3" height="2.3" fill="#3f27c1"/>
<rect x="622.5" y="227.3" width="2.3" height="2.3" fill="#422ad2"/>
<rect x="624.5" y="227.3" width="2.3" height="2.3" fill="#452fee"/>
<rect x="626.5" y="227.3" width="2.3" height="2.3" fill="#4634f6"/>
<rect x="628.5" y="227.3" width="6.3" height="2.3" fill="#473ff8"/>
<rect x="634.5" y="227.3" width="10.3" height="2.3" fill="#4744f9"/>
<rect x="644.5" y="227.3" width="6.3" height="2.3" fill="#473ff8"/>
<rect x="650.5" y="227.3" width="6.3" height="2.3" fill="#4739f7"/>
<rect x="656.5" y="227.3" width="4.3" height="2.3" fill="#4634f6"/>
<rect x="660.5" y="227.3" width="8.3" height="2.3" fill="#4630f4"/>
<rect x="668.5" y="227.3" width="14.3" height="2.3" fill="#452fee"/>
<rect x="622.5" y="225.3" width="2.3" height="2.3" fill="#3f27c1"/>
<rect x="624.5" y="225.3" width="2.3" height="2.3" fill="#422ad2"/>
<rect x="626.5" y="225.3" width="2.3" height="2.3" fill="#452fee"/>
<rect x="628.5" y="225.3" width="2.3" height="2.3" fill="#4634f6"/>
<rect x="630.5" y="225.3" width="2.3" height="2.3" fill="#4739f7"/>
<rect x="632.5" y="225.3" width="18.3" height="2.3" fill="#473ff8"/>
<rect x="650.5" y="225.3" width="6.3" height="2.3" fill="#4739f7"/>
<rect x="656.5" y="225.3" width="6.3" height="2.3" fill="#4634f6"/>
<rect x="662.5" y="225.3" width="8.3" height="2.3" fill="#4630f4"/>
<rect x="670.5" y="225.3" width="12.3" height="2.3" fill="#452fee"/>
<rect x="624.5" y="223.3" width="2.3" height="2.3" fill="#3f27c1"/>
<rect x="626.5" y="223.3" width="2.3" height="2.3" fill="#422ad2"/>
<rect x="628.5" y="223.3" width="2.3" height="2.3" fill="#452de8"/>
<rect x="630.5" y="223.3" width="2.3" height="2.3" fill="#4634f6"/>
<rect x="632.5" y="223.3" width="4.3" height="2.3" fill="#4739f7"/>
<rect x="636.5" y="223.3" width="12.3" height="2.3" fill="#473ff8"/>
<rect x="648.5" y="223.3" width="8.3" height="2.3" fill="#4739f7"/>
<rect x="656.5" y="223.3" width="6.3" height="2.3" fill="#4634f6"/>
<rect x="662.5" y="223.3" width="10.3" height="2.3" fill="#4630f4"/>
<rect x="672.5" y="223.3" width="10.3" height="2.3" fill="#452fee"/>
<rect x="626.5" y="221.3" width="2.3" height="2.3" fill="#3f27c1"/>
<rect x="628.5" y="221.3" width="2.3" height="2.3" fill="#422ad2"/>
<rect x="630.5" y="221.3" width="2.3" height="2.3" fill="#452de8"/>
<rect x="632.5" y="221.3" width="2.3" height="2.3" fill="#4634f6"/>
<rect x="634.5" y="221.3" width="22.3" height="2.3" fill="#4739f7"/>
<rect x="656.5" y="221.3" width="6.3" height="2.3" fill="#4634f6"/>
<rect x="662.5" y="221.3" width="10.3" height="2.3" fill="#4630f4"/>
<rect x="672.5" y="221.3" width="10.3" height="2.3" fill="#452fee"/>
<rect x="628.5" y="219.3" width="2.3" height="2.3" fill="#3f27c1"/>
<rect x="630.5" y="219.3" width="2.3" height="2.3" fill="#422ad2"/>
<rect x="632.5" y="219.3" width="2.3" height="2.3" fill="#452de8"/>
<rect x="634.5" y="219.3" width="2.3" height="2.3" fill="#4634f6"/>
<rect x="636.5" y="219.3" width="18.3" height="2.3" fill="#4739f7"/>
<rect x="654.5" y="219.3" width="10.3" height="2.3" fill="#4634f6"/>
<rect x="664.5" y="219.3" width="10.3" height="2.3" fill="#4630f4"/>
<rect x="674.5" y="219.3" width="8.3" height="2.3" fill="#452fee"/>
<rect x="630.5" y="217.3" width="2.3" height="2.3" fill="#3f27c1"/>
<rect x="632.5" y="217.3" width="2.3" height="2.3" fill="#422ad2"/>
<rect x="634.5" y="217.3" width="2.3" height="2.3" fill="#452de8"/>
<rect x="636.5" y="217.3" width="4.3" height="2.3" fill="#4634f6"/>
<rect x="640.5" y="217.3" width="14.3" height="2.3" fill="#4739f7"/>
<rect x="654.5" y="217.3" width="10.3" height="2.3" fill="#4634f6"/>
<rect x="664.5" y="217.3" width="12.3" height="2.3" fill="#4630f4"/>
<rect x="676.5" y="217.3" width="6.3" height="2.3" fill="#452fee"/>
<rect x="632.5" y="215.3" width="2.3" height="2.3" fill="#3f27c1"/>
<rect x="634.5" y="215.3" width="2.3" height="2.3" fill="#422ad2"/>
<rect x="636.5" y="215.3" width="2.3" height="2.3" fill="#452de8"/>
<rect x="638.5" y="215.3" width="2.3" height="2.3" fill="#4630f4"/>
<rect x="640.5" y="215.3" width="2.3" height="2.3" fill="#4634f6"/>
<rect x="642.5" y="215.3" width="10.3" height="2.3" fill="#4739f7"/>
<rect x="652.5" y="215.3" width="12.3" height="2.3" fill="#4634f6"/>
<rect x="664.5" y="215.3" width="12.3" height="2.3" fill="#4630f4"/>
<rect x="676.5" y="215.3" width="6.3" height="2.3" fill="#452fee"/>
<rect x="634.5" y="213.3" width="2.3" height="2.3" fill="#3f27c1"/>
<rect x="636.5" y="213.3" width="2.3" height="2.3" fill="#422ad2"/>
<rect x="638.5" y="213.3" width="2.3" height="2.3" fill="#452de8"/>
<rect x="640.5" y="213.3" width="2.3" height="2.3" fill="#4630f4"/>
<rect x="642.5" y="213.3" width="24.3" height="2.3" fill="#4634f6"/>
<rect x="666.5" y="213.3" width="12.3" height="2.3" fill="#4630f4"/>
<rect x="678.5" y="213.3" width="4.3" height="2.3" fill="#452fee"/>
<rect x="636.5" y="211.3" width="2.3" height="2.3" fill="#3f27c1"/>
<rect x="638.5" y="211.3" width="2.3" height="2.3" fill="#422ad2"/>
<rect x="640.5" y="211.3" width="2.3" height="2.3" fill="#452de8"/>
<rect x="642.5" y="211.3" width="2.3" height="2.3" fill="#4630f4"/>
<rect x="644.5" y="211.3" width="22.3" height="2.3" fill="#4634f6"/>
<rect x="666.5" y="211.3" width="14.3" height="2.3" fill="#4630f4"/>
<rect x="680.5" y="211.3" width="2.3" height="2.3" fill="#452fee"/>
<rect x="638.5" y="209.3" width="2.3" height="2.3" fill="#3f27c1"/>
<rect x="640.5" y="209.3" width="2.3" height="2.3" fill="#422ad2"/>
<rect x="642.5" y="209.3" width="2.3" height="2.3" fill="#452de8"/>
<rect x="644.5" y="209.3" width="2.3" height="2.3" fill="#4630f4"/>
<rect x="646.5" y="209.3" width="22.3" height="2.3" fill="#4634f6"/>
<rect x="668.5" y="209.3" width="14.3" height="2.3" fill="#4630f4"/>
<rect x="640.5" y="207.3" width="2.3" height="2.3" fill="#3f27c1"/>
<rect x="642.5" y="207.3" width="2.3" height="2.3" fill="#422ad2"/>
<rect x="644.5" y="207.3" width="2.3" height="2.3" fill="#452de8"/>
<rect x="646.5" y="207.3" width="2.3" height="2.3" fill="#4630f4"/>
<rect x="648.5" y="207.3" width="20.3" height="2.3" fill="#4634f6"/>
<rect x="668.5" y="207.3" width="14.3" height="2.3" fill="#4630f4"/>
<rect x="642.5" y="205.3" width="2.3" height="2.3" fill="#3f27c1"/>
<rect x="644.5" y="205.3" width="2.3" height="2.3" fill="#422ad2"/>
<rect x="646.5" y="205.3" width="2.3" height="2.3" fill="#452de8"/>
<rect x="648.5" y="205.3" width="2.3" height="2.3" fill="#4630f4"/>
<rect x="650.5" y="205.3" width="20.3" height="2.3" fill="#4634f6"/>
<rect x="670.5" y="205.3" width="12.3" height="2.3" fill="#4630f4"/>
<rect x="644.5" y="203.3" width="2.3" height="2.3" fill="#3f27c1"/>
<rect x="646.5" y="203.3" width="2.3" height="2.3" fill="#422ad2"/>
<rect x="648.5" y="203.3" width="2.3" height="2.3" fill="#452de8"/>
<rect x="650.5" y="203.3" width="2.3" height="2.3" fill="#4630f4"/>
<rect x="652.5" y="203.3" width="20.3" height="2.3" fill="#4634f6"/>
<rect x="672.5" y="203.3" width="10.3" height="2.3" fill="#4630f4"/>
<rect x="646.5" y="201.3" width="2.3" height="2.3" fill="#3f27c1"/>
<rect x="648.5" y="201.3" width="2.3" height="2.3" fill="#422ad2"/>
<rect x="650.5" y="201.3" width="2.3" height="2.3" fill="#452de8"/>
<rect x="652.5" y="201.3" width="2.3" height="2.3" fill="#4630f4"/>
<rect x="654.5" y="201.3" width="20.3" height="2.3" fill="#4634f6"/>
<rect x="674.5" y="201.3" width="8.3" height="2.3" fill="#4630f4"/>
<rect x="648.5" y="199.3" width="2.3" height="2.3" fill="#3f27c1"/>
<rect x="650.5" y="199.3" width="2.3" height="2.3" fill="#422ad2"/>
<rect x="652.5" y="199.3" width="2.3" height="2.3" fill="#452de8"/>
<rect x="654.5" y="199.3" width="2.3" height="2.3" fill="#4630f4"/>
<rect x="656.5" y="199.3" width="18.3" height="2.3" fill="#4634f6"/>
<rect x="674.5" y="199.3" width="8.3" height="2.3" fill="#4630f4"/>
<rect x="650.5" y="197.3" width="2.3" height="2.3" fill="#3f27c1"/>
<rect x="652.5" y="197.3" width="2.3" height="2.3" fill="#422ad2"/>
<rect x="654.5" y="197.3" width="2.3" height="2.3" fill="#452de8"/>
<rect x="656.5" y="197.3" width="2.3" height="2.3" fill="#4630f4"/>
<rect x="658.5" y="197.3" width="18.3" height="2.3" fill="#4634f6"/>
<rect x="676.5" y="197.3" width="6.3" height="2.3" fill="#4630f4"/>
<rect x="652.5" y="195.3" width="2.3" height="2.3" fill="#3f27c1"/>
<rect x="654.5" y="195.3" width="2.3" height="2.3" fill="#422ad2"/>
<rect x="656.5" y="195.3" width="2.3" height="2.3" fill="#452de8"/>
<rect x="658.5" y="195.3" width="2.3" height="2.3" fill="#4630f4"/>
<rect x="660.5" y="195.3" width="18.3" height="2.3" fill="#4634f6"/>
<rect x="678.5" y="195.3" width="4.3" height="2.3" fill="#4630f4"/>
<rect x="654.5" y="193.3" width="2.3" height="2.3" fill="#3f27c1"/>
<rect x="656.5" y="193.3" width="2.3" height="2.3" fill="#422ad2"/>
<rect x="658.5" y="193.3" width="2.3" height="2.3" fill="#452de8"/>
<rect x="660.5" y="193.3" width="2.3" height="2.3" fill="#4630f4"/>
<rect x="662.5" y="193.3" width="18.3" height="2.3" fill="#4634f6"/>
<rect x="680.5" y="193.3" width="2.3" height="2.3" fill="#4630f4"/>
<rect x="656.5" y="191.3" width="2.3" height="2.3" fill="#3f27c1"/>
<rect x="658.5" y="191.3" width="2.3" height="2.3" fill="#422ad2"/>
<rect x="660.5" y="191.3" width="2.3" height="2.3" fill="#452de8"/>
<rect x="662.5" y="191.3" width="2.3" height="2.3" fill="#4630f4"/>
<rect x="664.5" y="191.3" width="18.3" height="2.3" fill="#4634f6"/>
<rect x="658.5" y="189.3" width="2.3" height="2.3" fill="#3f27c1"/>
<rect x="660.5" y="189.3" width="2.3" height="2.3" fill="#422ad2"/>
<rect x="662.5" y="189.3" width="2.3" height="2.3" fill="#452de8"/>
<rect x="664.5" y="189.3" width="2.3" height="2.3" fill="#4630f4"/>
<rect x="666.5" y="189.3" width="16.3" height="2.3" fill="#4634f6"/>
<rect x="660.5" y="187.3" width="2.3" height="2.3" fill="#3f27c1"/>
<rect x="662.5" y="187.3" width="2.3" height="2.3" fill="#422ad2"/>
<rect x="664.5" y="187.3" width="2.3" height="2.3" fill="#452de8"/>
<rect x="666.5" y="187.3" width="2.3" height="2.3" fill="#4630f4"/>
<rect x="668.5" y="187.3" width="14.3" height="2.3" fill="#4634f6"/>
<rect x="662.5" y="185.3" width="2.3" height="2.3" fill="#3f27c1"/>
<rect x="664.5" y="185.3" width="2.3" height="2.3" fill="#422ad2"/>
<rect x="666.5" y="185.3" width="2.3" height="2.3" fill="#452de8"/>
<rect x="668.5" y="185.3" width="2.3" height="2.3" fill="#4630f4"/>
<rect x="670.5" y="185.3" width="12.3" height="2.3" fill="#4634f6"/>
<rect x="664.5" y="183.3" width="2.3" height="2.3" fill="#3f27c1"/>
<rect x="666.5" y="183.3" width="2.3" height="2.3" fill="#422ad2"/>
<rect x="668.5" y="183.3" width="2.3" height="2.3" fill="#452de8"/>
<rect x="670.5" y="183.3" width="2.3" height="2.3" fill="#4630f4"/>
<rect x="672.5" y="183.3" width="10.3" height="2.3" fill="#4634f6"/>
<rect x="666.5" y="181.3" width="2.3" height="2.3" fill="#3f27c1"/>
<rect x="668.5" y="181.3" width="2.3" height="2.3" fill="#422ad2"/>
<rect x="670.5" y="181.3" width="2.3" height="2.3" fill="#452de8"/>
<rect x="672.5" y="181.3" width="2.3" height="2.3" fill="#4630f4"/>
<rect x="674.5" y="181.3" width="8.3" height="2.3" fill="#4634f6"/>
<rect x="668.5" y="179.3" width="2.3" height="2.3" fill="#3f27c1"/>
<rect x="670.5" y="179.3" width="2.3" height="2.3" fill="#422ad2"/>
<rect x="672.5" y="179.3" width="2.3" height="2.3" fill="#452de8"/>
<rect x="674.5" y="179.3" width="2.3" height="2.3" fill="#4630f4"/>
<rect x="676.5" y="179.3" width="6.3" height="2.3" fill="#4634f6"/>
<rect x="670.5" y="177.3" width="2.3" height="2.3" fill="#3f27c1"/>
<rect x="672.5" y="177.3" width="2.3" height="2.3" fill="#422ad2"/>
<rect x="674.5" y="177.3" width="2.3" height="2.3" fill="#452de8"/>
<rect x="676.5" y="177.3" width="2.3" height="2.3" fill="#4630f4"/>
<rect x="678.5" y="177.3" width="4.3" height="2.3" fill="#4634f6"/>
<rect x="672.5" y="175.3" width="2.3" height="2.3" fill="#3f27c1"/>
<rect x="674.5" y="175.3" width="2.3" height="2.3" fill="#422ad2"/>
<rect x="676.5" y="175.3" width="2.3" height="2.3" fill="#452de8"/>
<rect x="678.5" y="175.3" width="2.3" height="2.3" fill="#4630f4"/>
<rect x="680.5" y="175.3" width="2.3" height="2.3" fill="#4634f6"/>
<rect x="674.5" y="173.3" width="2.3" height="2.3" fill="#3f27c1"/>
<rect x="676.5" y="173.3" width="2.3" height="2.3" fill="#422ad2"/>
<rect x="678.5" y="173.3" width="2.3" height="2.3" fill="#452de8"/>
<rect x="680.5" y="173.3" width="2.3" height="2.3" fill="#4630f4"/>
<rect x="676.5" y="171.3" width="2.3" height="2.3" fill="#3f27c1"/>
<rect x="678.5" y="171.3" width="2.3" height="2.3" fill="#422ad2"/>
<rect x="680.5" y="171.3" width="2.3" height="2.3" fill="#452de8"/>
</g></g>
<text x="554.50" y="307.00" font-size="5.9" text-anchor="middle" fill="#3c3c3c">0</text>
<text x="585.40" y="307.00" font-size="5.9" text-anchor="middle" fill="#3c3c3c">200</text>
<text x="616.30" y="307.00" font-size="5.9" text-anchor="middle" fill="#3c3c3c">400</text>
<text x="647.20" y="307.00" font-size="5.9" text-anchor="middle" fill="#3c3c3c">600</text>
<text x="678.10" y="307.00" font-size="5.9" text-anchor="middle" fill="#3c3c3c">800</text>
<text x="551.90" y="301.40" font-size="5.9" text-anchor="end" fill="#3c3c3c">0</text>
<text x="551.90" y="285.94" font-size="5.9" text-anchor="end" fill="#3c3c3c">100</text>
<text x="551.90" y="270.48" font-size="5.9" text-anchor="end" fill="#3c3c3c">200</text>
<text x="551.90" y="255.02" font-size="5.9" text-anchor="end" fill="#3c3c3c">300</text>
<text x="551.90" y="239.56" font-size="5.9" text-anchor="end" fill="#3c3c3c">400</text>
<text x="551.90" y="224.10" font-size="5.9" text-anchor="end" fill="#3c3c3c">500</text>
<text x="551.90" y="208.64" font-size="5.9" text-anchor="end" fill="#3c3c3c">600</text>
<text x="551.90" y="193.18" font-size="5.9" text-anchor="end" fill="#3c3c3c">700</text>
<text x="551.90" y="177.72" font-size="5.9" text-anchor="end" fill="#3c3c3c">800</text>
<text x="617.00" y="315.00" font-size="6.2" text-anchor="middle" fill="#3c3c3c">Death (<tspan font-style="italic">μ</tspan>m)</text>
<text x="538.40" y="237.60" font-size="6.2" text-anchor="middle" fill="#3c3c3c" transform="rotate(-90 538.40 237.60)">Birth (<tspan font-style="italic">μ</tspan>m)</text>
<g>
<path d="M56.4 173.8 L57.7 174.7 L59.4 174.7 L61.0 175.1 L62.0 175.9 L63.0 176.5 L64.2 176.9 L65.3 177.6 L65.9 179.0 L66.4 180.4 L67.6 181.2 L69.7 181.1 L71.4 181.9 L71.3 183.4 L71.8 184.9 L72.1 186.1 L71.9 187.3 L71.1 188.8 L71.0 190.4 L72.1 191.4 L73.1 192.2 L73.8 193.3 L75.0 194.3 L76.7 194.7 L78.4 195.0 L79.2 196.2 L79.6 197.9 L77.8 198.9 L78.3 200.4 L78.3 201.8 L78.5 203.4 L80.0 204.3 L81.9 204.4 L83.2 205.2 L83.8 206.4 L84.3 207.6 L85.1 208.4 L86.0 209.2 L86.6 210.5 L87.3 212.1 L88.6 212.7 L90.1 212.4 L91.5 212.1 L92.8 212.4 L94.1 212.7 L95.5 212.6 L97.0 212.6 L98.1 213.5 L99.2 214.6 L100.4 215.0 L101.7 214.7 L103.0 214.6" fill="none" stroke="#141414" stroke-width="0.7" stroke-linecap="round" stroke-linejoin="round"/>
<path d="M82.5 185.4 L82.6 187.3 L82.9 189.2 L82.5 190.8 L81.6 192.2 L81.0 193.7 L80.1 195.8 L79.0 197.9" fill="none" stroke="#141414" stroke-width="0.7" stroke-linecap="round" stroke-linejoin="round"/>
<path d="M87.8 177.9 L88.9 177.6 L89.8 177.4 L89.7 179.1 L91.3 180.3 L92.4 181.3 L92.8 182.5 L92.6 183.7 L93.2 185.2 L94.2 186.6 L94.4 188.0 L94.4 189.6 L95.4 191.2 L97.3 190.7 L98.5 189.9 L100.0 189.7 L100.8 191.1 L101.9 192.1 L103.1 193.2 L103.1 194.9 L102.5 196.7 L102.6 198.1 L103.1 199.4 L103.4 200.8 L103.5 202.2 L103.9 203.6 L104.0 205.0" fill="none" stroke="#141414" stroke-width="0.7" stroke-linecap="round" stroke-linejoin="round"/>
<path d="M77.2 215.3 L78.5 214.9 L79.9 214.7 L81.1 214.9 L82.1 214.8 L83.5 214.1 L85.0 213.5 L86.6 214.2 L87.9 215.3 L89.1 215.2 L90.4 215.2 L91.7 216.0 L93.0 216.7 L94.4 216.6 L95.8 215.6 L97.2 215.1 L98.6 215.2 L100.0 215.3" fill="none" stroke="#141414" stroke-width="0.7" stroke-linecap="round" stroke-linejoin="round"/>
<path d="M103.5 215.5 L102.1 215.3 L100.7 215.4 L99.3 216.0 L97.9 216.2 L96.6 217.1 L95.7 218.7 L94.4 219.7 L92.7 219.6 L91.0 219.7 L89.7 220.5 L88.4 221.5 L86.9 222.2 L85.9 223.5 L85.6 225.3 L85.0 226.7 L83.7 227.4 L82.1 228.1 L80.9 229.1 L79.4 229.7 L77.4 229.5 L75.8 230.7 L75.8 232.6 L75.3 234.1 L74.2 234.8 L73.2 235.6 L72.5 236.6 L71.5 237.7 L69.6 238.2 L67.9 239.0 L67.5 240.7 L67.2 242.3 L66.4 243.7 L65.9 244.8 L65.8 246.3 L65.5 247.5 L64.5 248.4 L63.1 249.3 L62.2 250.4 L62.2 252.0 L61.7 253.5 L61.1 254.9 L61.4 256.2 L62.2 257.7 L62.2 259.6 L60.1 260.2 L58.3 260.5 L57.0 260.1 L55.7 259.6" fill="none" stroke="#141414" stroke-width="0.7" stroke-linecap="round" stroke-linejoin="round"/>
<path d="M103.5 216.0 L102.1 216.6 L100.9 217.5 L99.9 219.0 L98.6 219.5 L96.8 219.5 L95.2 220.0 L94.1 221.2 L93.2 222.2 L92.1 223.0 L91.3 224.0 L91.0 225.6 L90.7 227.2 L89.7 228.1 L88.2 228.5 L87.0 229.2 L86.0 230.4 L84.5 231.3 L83.0 232.2 L82.6 233.8 L82.8 235.6 L82.3 237.1 L81.1 238.3 L80.2 239.6 L79.3 240.9 L77.8 241.5 L76.2 242.1 L75.8 242.9 L75.3 243.3 L74.1 243.8 L73.6 245.0 L73.2 246.3 L73.3 247.8 L73.2 249.2 L72.3 250.2 L70.9 250.9 L69.7 251.7 L69.1 253.0 L68.5 254.3 L67.4 255.4 L66.9 257.1 L67.3 259.1 L67.1 260.1 L66.3 261.2 L65.8 262.3" fill="none" stroke="#141414" stroke-width="0.7" stroke-linecap="round" stroke-linejoin="round"/>
<path d="M103.5 216.5 L102.2 217.3 L101.1 218.4 L100.0 219.4 L99.0 220.5 L98.5 222.0 L98.2 223.6 L96.7 224.5 L95.0 225.2 L93.9 226.4 L92.9 227.7 L91.5 228.7 L91.0 229.9 L91.2 231.5 L91.5 233.0 L91.0 234.2 L90.0 235.1 L89.1 236.0 L88.6 237.2 L87.9 238.3 L86.5 239.3 L85.4 240.5 L85.5 242.3 L85.7 244.3 L83.8 243.9 L82.6 243.4 L82.4 244.7 L81.6 245.9 L80.0 246.6 L78.4 247.0 L77.5 248.2 L76.9 249.6 L75.9 250.6 L75.0 251.7 L74.5 253.2 L73.6 254.2 L72.3 254.6 L71.1 255.1" fill="none" stroke="#141414" stroke-width="0.7" stroke-linecap="round" stroke-linejoin="round"/>
<path d="M79.4 252.1 L78.2 253.6 L77.1 255.1 L75.5 255.2 L74.1 255.8" fill="none" stroke="#141414" stroke-width="0.7" stroke-linecap="round" stroke-linejoin="round"/>
<path d="M64.3 246.8 L65.7 245.9 L67.6 245.2 L68.2 247.0 L68.5 248.2 L67.6 248.9 L66.6 249.6 L65.5 249.1 L64.3 249.0" fill="none" stroke="#141414" stroke-width="0.7" stroke-linecap="round" stroke-linejoin="round"/>
<path d="M103.8 217.0 L102.7 218.0 L101.7 219.1 L101.0 220.4 L100.0 221.5 L99.3 222.7 L99.3 224.5 L99.1 226.1 L98.4 226.9 L97.2 227.7 L96.3 228.7 L95.9 229.8 L95.2 230.9 L94.1 231.8 L93.2 232.7 L93.1 234.1 L93.8 236.1 L93.6 237.7 L92.7 239.1 L92.4 240.4 L92.2 241.6 L91.3 242.7 L90.5 243.1 L90.9 242.2 L88.6 241.4 L88.8 243.8 L88.8 245.3 L88.6 246.8 L89.3 248.0 L90.0 249.3 L89.8 250.6 L89.0 252.1 L88.0 253.4 L88.1 255.0 L87.9 256.6 L88.3 258.3 L89.5 259.6 L91.1 260.8 L91.4 262.2 L90.7 263.6 L90.3 264.9 L90.2 266.0 L90.0 267.1" fill="none" stroke="#141414" stroke-width="0.7" stroke-linecap="round" stroke-linejoin="round"/>
<path d="M104.0 217.0 L103.6 218.3 L103.1 219.6 L101.9 220.6 L100.8 221.6 L100.6 223.0 L101.0 224.6 L101.0 226.1 L100.4 227.3 L100.0 228.6 L99.9 230.0 L99.3 231.2 L97.8 232.1 L96.5 233.4 L96.4 235.0 L96.5 236.6 L96.0 238.1 L95.8 239.7 L96.3 241.5 L96.3 241.0 L96.9 242.0 L96.9 243.6 L97.1 245.1 L97.8 246.2 L98.0 247.6 L97.7 249.2 L98.0 250.7 L99.4 252.1 L100.0 253.7 L99.5 255.2 L98.9 256.6 L98.8 258.1 L98.6 259.6 L97.7 261.2 L97.6 262.7 L98.7 264.1 L99.3 265.7 L99.0 267.2 L98.9 268.7 L99.2 270.3 L98.9 271.5 L97.8 272.8 L96.9 274.0 L96.9 275.1 L96.9 276.5 L96.4 277.8 L95.8 279.0 L95.3 280.5 L94.9 282.1 L93.8 283.0 L92.1 283.3 L90.6 283.8 L89.7 284.9 L88.5 285.5 L87.0 285.9 L85.9 286.9 L85.0 288.4 L84.0 289.6 L82.5 289.8 L81.1 289.8 L79.8 290.3 L78.7 290.6 L78.0 291.7 L77.1 293.2 L77.9 294.4 L79.0 295.2 L80.2 295.6 L81.0 296.3" fill="none" stroke="#141414" stroke-width="0.7" stroke-linecap="round" stroke-linejoin="round"/>
<path d="M99.8 241.5 L100.0 242.8 L100.5 243.9 L101.4 244.9 L102.1 245.9 L102.7 247.5 L103.8 248.8 L104.5 250.0 L104.6 251.7 L104.8 253.6 L106.1 254.9 L107.7 255.1 L109.0 255.8 L110.4 256.0 L112.0 255.7 L113.5 255.4 L114.9 256.2 L115.3 257.9 L115.7 259.2 L116.5 260.1 L116.9 261.4 L117.3 262.8 L118.1 263.9" fill="none" stroke="#141414" stroke-width="0.7" stroke-linecap="round" stroke-linejoin="round"/>
<path d="M104.0 216.4 L103.5 217.9 L103.3 219.4 L104.2 221.0 L104.3 222.6 L103.3 224.0 L102.3 225.4 L101.9 226.9 L101.0 228.2 L99.9 229.5 L99.8 231.2 L100.5 233.1 L100.4 234.7 L99.5 236.1 L99.0 237.6 L98.5 239.2 L97.4 240.2 L96.5 241.2 L96.5 242.6 L96.5 243.9" fill="none" stroke="#141414" stroke-width="0.7" stroke-linecap="round" stroke-linejoin="round"/>
<path d="M104.8 217.1 L104.9 218.6 L104.8 220.2 L105.3 221.7 L106.7 223.0 L107.3 224.5 L106.8 226.2 L106.0 227.7 L105.8 229.2 L105.2 230.6 L103.9 231.8 L103.8 233.4 L104.4 235.3 L104.5 236.8 L104.0 238.3 L103.9 239.8 L103.8 241.2 L102.8 242.5 L101.5 243.8 L101.3 245.3 L102.1 246.7 L102.4 248.2 L102.3 249.6" fill="none" stroke="#141414" stroke-width="0.7" stroke-linecap="round" stroke-linejoin="round"/>
<path d="M105.5 216.5 L107.5 216.7 L108.3 218.4 L107.8 220.2 L108.0 221.8 L108.7 223.3 L108.9 224.9 L109.4 226.4 L110.6 227.7 L111.8 229.0 L111.7 230.7 L110.7 232.2 L110.5 233.7 L110.0 235.2 L109.4 236.8 L109.3 238.4 L110.5 239.7 L111.5 241.0 L111.7 242.3 L111.6 243.6 L111.9 244.9 L112.4 246.4 L111.9 248.1 L111.0 249.9 L111.6 251.4 L112.9 252.7 L113.5 254.1 L114.1 255.6 L115.4 256.8 L116.2 258.0 L116.3 259.3 L116.3 260.8 L116.6 261.7 L116.5 263.0 L116.0 264.4 L115.1 265.8 L115.3 267.8 L115.3 269.5 L114.4 270.7 L113.0 271.5 L112.2 272.7 L111.4 274.0 L110.1 274.8 L108.7 275.3 L107.9 276.6 L107.6 278.4 L106.5 279.3 L105.2 279.7 L104.0 280.2 L102.7 280.7 L101.4 280.9 L100.0 281.2" fill="none" stroke="#141414" stroke-width="0.7" stroke-linecap="round" stroke-linejoin="round"/>
<path d="M106.0 216.0 L107.4 216.3 L108.9 216.1 L110.7 216.1 L111.3 217.9 L111.6 219.6 L112.5 220.7 L113.8 221.4 L114.7 222.5 L115.6 223.5 L116.7 224.3 L118.1 225.2 L118.8 226.6 L118.3 228.3 L118.0 229.9 L118.3 231.4 L117.6 232.8 L116.7 234.3 L116.9 235.9 L117.5 237.3 L117.4 238.5 L116.9 239.7" fill="none" stroke="#141414" stroke-width="0.7" stroke-linecap="round" stroke-linejoin="round"/>
<path d="M116.3 238.2 L117.4 240.6 L116.2 240.8 L117.2 238.4" fill="none" stroke="#141414" stroke-width="0.7" stroke-linecap="round" stroke-linejoin="round"/>
<path d="M116.2 261.4 L117.8 263.4 L116.3 263.5 L117.6 261.6" fill="none" stroke="#141414" stroke-width="0.7" stroke-linecap="round" stroke-linejoin="round"/>
<path d="M123.6 218.6 L124.9 218.9 L126.1 219.0 L127.4 219.0 L128.8 219.4 L130.4 219.2 L132.2 218.4 L133.6 218.7 L134.6 219.9 L135.6 221.0 L136.6 221.8 L137.6 222.5 L138.3 223.6 L139.0 224.8 L140.1 225.4 L141.7 225.4 L143.3 225.8 L144.3 226.8 L145.1 228.2 L145.7 229.5 L146.2 230.7 L146.1 232.3 L145.7 233.9 L146.2 235.2 L147.6 236.1 L148.6 237.1 L149.3 238.2" fill="none" stroke="#141414" stroke-width="0.7" stroke-linecap="round" stroke-linejoin="round"/>
<path d="M105.6 214.1 L106.5 212.7 L107.8 211.7 L109.6 211.6 L110.9 211.0 L112.1 210.0 L113.4 209.4 L114.6 209.0 L115.4 207.9 L116.1 206.4 L117.0 205.5 L118.3 205.3 L119.8 205.3 L121.0 204.9 L122.1 204.3 L123.8 204.3 L125.6 204.5 L127.1 203.4 L127.4 201.3 L128.3 200.4 L128.0 199.1 L127.4 197.5" fill="none" stroke="#141414" stroke-width="0.7" stroke-linecap="round" stroke-linejoin="round"/>
<path d="M105.6 214.4 L107.1 213.8 L108.6 213.2 L109.9 212.1 L111.2 210.9 L112.8 210.8 L114.7 211.5 L116.3 211.3 L117.7 210.5 L119.3 210.3 L120.8 209.8 L122.0 208.3 L123.2 206.9 L124.9 206.9 L126.6 207.0 L128.2 206.5 L129.5 206.2 L131.0 206.4 L132.6 206.1 L133.4 204.3 L134.0 202.5 L135.3 201.5 L136.4 200.7 L137.2 199.5 L138.1 198.6 L139.9 197.7 L140.8 197.1 L140.9 197.2 L142.3 197.2 L143.3 196.1 L144.4 195.3 L145.2 194.1 L146.3 192.9 L147.5 192.4 L149.1 192.8 L150.3 193.8 L151.6 194.1 L153.0 194.0 L154.6 193.5 L156.2 192.8 L156.7 191.3 L157.4 190.2" fill="none" stroke="#141414" stroke-width="0.7" stroke-linecap="round" stroke-linejoin="round"/>
<path d="M131.2 207.3 L132.4 206.7 L133.4 205.6 L134.6 204.9 L136.1 205.0 L137.4 204.7 L138.6 204.1 L139.9 203.7 L141.3 203.6 L142.6 202.9 L143.0 201.4 L143.0 199.8 L143.6 198.8 L144.2 197.5 L144.7 196.0" fill="none" stroke="#141414" stroke-width="0.7" stroke-linecap="round" stroke-linejoin="round"/>
<path d="M110.1 208.1 L110.9 206.9 L112.3 206.2 L113.6 205.5 L114.4 204.3 L115.5 203.4 L116.8 202.5 L117.0 200.6 L116.6 198.6 L117.0 197.2 L118.2 195.9 L118.9 194.5 L119.4 193.0 L120.7 191.7 L121.6 190.3 L121.1 188.5 L120.5 187.0 L120.6 185.7 L121.0 184.4 L121.1 183.1 L121.1 181.6 L122.0 180.1 L123.3 178.8 L123.5 177.1 L122.6 175.6 L122.2 174.1 L122.1 172.6 L121.4 171.1 L121.3 169.3 L122.4 167.9 L122.9 166.3" fill="none" stroke="#141414" stroke-width="0.7" stroke-linecap="round" stroke-linejoin="round"/>
<path d="M105.0 213.5 L105.9 212.2 L106.8 210.9 L107.2 209.3 L107.0 207.4 L107.8 206.2 L109.2 205.7 L110.6 205.2 L111.5 204.2 L112.2 203.2 L113.4 202.6 L114.7 202.1 L115.5 201.0 L115.8 199.4 L116.2 198.0 L117.6 197.1 L119.1 197.4 L120.0 197.6 L120.6 196.5 L121.6 195.6 L123.1 195.1 L124.3 194.4 L124.9 193.0 L125.2 191.3 L126.5 190.3 L127.7 189.5 L128.7 188.1 L129.9 187.2 L131.8 187.2 L133.6 187.1 L134.6 186.1 L135.6 185.0 L136.9 184.3 L138.3 183.5 L139.5 182.0 L140.5 181.4 L141.8 180.8 L143.2 179.4 L142.7 177.8 L142.5 176.2 L141.7 174.7 L140.5 173.4" fill="none" stroke="#141414" stroke-width="0.7" stroke-linecap="round" stroke-linejoin="round"/>
<path d="M145.5 172.6 L144.5 174.5 L143.5 176.4 L142.9 177.8 L142.8 179.4" fill="none" stroke="#141414" stroke-width="0.7" stroke-linecap="round" stroke-linejoin="round"/>
<path d="M142.8 182.6 L143.7 181.6 L144.7 180.6 L146.1 180.3 L147.9 181.0 L149.0 180.6 L150.5 180.6 L152.0 181.2 L152.7 182.3 L153.3 183.4" fill="none" stroke="#141414" stroke-width="0.7" stroke-linecap="round" stroke-linejoin="round"/>
<path d="M106.0 213.0 L107.2 212.2 L108.3 211.3 L109.3 210.3 L110.5 209.5 L111.4 208.4 L111.6 206.6 L112.2 205.2 L113.4 204.6 L114.8 204.3 L116.0 203.7 L117.0 202.8 L118.2 202.3 L119.7 202.2 L120.9 201.7 L121.6 200.3 L122.2 198.8 L123.2 197.9 L124.4 197.5 L125.0 196.6 L125.6 195.3 L126.5 194.4 L128.0 194.0 L129.6 193.9 L130.5 192.8 L131.2 191.4 L132.2 190.4 L133.3 189.5 L134.1 188.2 L134.8 186.8 L136.2 186.2 L137.9 186.3 L139.4 186.1 L140.5 185.2 L141.5 184.3 L142.7 184.0 L143.9 183.4 L144.7 182.2 L145.5 180.8 L147.0 180.6 L148.6 181.0 L150.0 180.9" fill="none" stroke="#141414" stroke-width="0.7" stroke-linecap="round" stroke-linejoin="round"/>
<path d="M107.0 213.5 L108.1 212.7 L109.3 211.9 L110.1 210.6 L111.0 209.5 L112.5 209.2 L114.2 209.4 L115.7 209.0 L116.7 208.0 L117.7 207.1 L119.0 206.6 L120.0 205.6 L120.7 203.9 L121.7 202.6 L123.3 202.4 L125.0 202.3 L126.1 201.6 L127.1 200.9 L128.4 200.5 L129.7 200.2 L130.6 199.3 L131.0 197.7 L132.1 196.2 L133.9 195.6 L135.6 196.0 L137.2 196.0 L138.6 196.9 L139.9 195.6 L140.2 194.1 L139.6 192.5 L139.5 191.1 L139.8 189.9 L140.1 188.6" fill="none" stroke="#141414" stroke-width="0.7" stroke-linecap="round" stroke-linejoin="round"/>
<path d="M125.0 207.9 L126.6 207.5 L128.2 207.2 L129.5 206.4 L130.3 204.8 L131.1 203.4 L132.6 203.0 L134.3 202.9 L135.6 202.3 L136.9 201.6 L138.5 201.4 L140.2 200.9 L140.5 198.9 L140.5 196.9 L141.5 195.5 L143.0 194.9 L144.2 193.9 L145.6 193.2 L147.3 193.8 L148.7 193.7 L150.0 193.0" fill="none" stroke="#141414" stroke-width="0.7" stroke-linecap="round" stroke-linejoin="round"/>
<path d="M125.0 191.7 L126.2 191.0 L127.7 190.8 L129.0 190.3 L129.6 188.7 L130.4 187.6 L131.5 187.0 L132.7 186.6 L133.8 185.8 L135.1 185.1 L136.5 185.3 L138.2 186.0 L139.6 186.1 L140.9 185.1 L142.3 184.4 L143.8 184.1" fill="none" stroke="#141414" stroke-width="0.7" stroke-linecap="round" stroke-linejoin="round"/>
<path d="M148.0 236.8 L149.0 238.3" fill="none" stroke="#141414" stroke-width="0.7" stroke-linecap="round" stroke-linejoin="round"/>
<path d="M103.0 214.0 L101.6 213.9 L100.5 213.1 L99.5 211.8 L98.4 211.3 L97.0 210.9 L95.8 210.0 L94.6 209.2 L92.9 209.2 L91.3 209.1 L90.2 208.4 L89.7 207.0 L89.0 205.8 L88.1 204.9 L87.1 203.9 L86.6 202.4 L85.9 201.1 L84.3 200.6 L82.5 200.7 L81.2 199.9 L80.0 199.0" fill="none" stroke="#141414" stroke-width="0.7" stroke-linecap="round" stroke-linejoin="round"/>
<path d="M103.0 215.0 L101.5 215.5 L100.0 215.7 L98.2 215.1 L96.6 215.4 L95.7 216.7 L94.8 217.9 L93.6 218.5 L92.4 218.9 L91.3 219.6 L90.3 220.6 L88.7 220.8 L86.8 220.5 L85.5 221.0 L84.5 222.3 L83.3 223.3 L82.0 224.0" fill="none" stroke="#141414" stroke-width="0.7" stroke-linecap="round" stroke-linejoin="round"/>
<path d="M100.0 217.0 L98.6 218.6 L97.3 220.3 L96.0 222.0 L95.0 223.3 L94.0 224.7 L93.0 226.0 L92.1 227.6 L91.4 229.2 L91.0 231.0" fill="none" stroke="#141414" stroke-width="0.7" stroke-linecap="round" stroke-linejoin="round"/>
<path d="M103.9 215.5 L104.3 216.7 L104.5 218.0 L104.8 219.3 L105.3 220.4 L105.6 221.6 L105.1 223.1 L104.5 224.6 L104.7 226.1 L106.2 227.1 L107.4 228.2 L108.2 229.5 L109.2 230.5 L110.6 231.4 L111.2 232.6 L111.0 234.3 L110.4 235.7 L110.5 237.0 L110.9 238.2 L110.9 239.4 L110.5 240.6 L110.7 241.9 L111.4 243.2 L111.3 244.5 L110.8 245.7" fill="none" stroke="#141414" stroke-width="0.7" stroke-linecap="round" stroke-linejoin="round"/>
<path d="M107.7 216.8 L108.5 217.9 L109.0 219.3 L109.8 220.4 L111.5 220.6 L113.0 221.4 L113.9 222.8 L115.1 223.9 L116.2 225.1 L116.4 226.7 L116.2 228.5 L116.3 229.6 L117.2 230.8 L117.9 231.9 L118.2 233.1 L118.0 234.6 L117.9 236.1 L117.1 237.5" fill="none" stroke="#141414" stroke-width="0.7" stroke-linecap="round" stroke-linejoin="round"/>
<path d="M101.4 219.3 L100.9 220.6 L100.5 222.0 L100.2 223.4 L98.8 224.3 L98.2 225.8 L98.4 227.2 L99.3 228.3 L100.2 229.4 L100.4 230.6 L100.6 231.9 L101.3 233.1 L102.0 234.4 L101.7 235.8 L100.5 236.9 L99.6 238.1 L99.4 239.4 L99.8 240.7 L99.9 242.0 L100.1 243.2 L100.6 244.5 L100.8 245.7" fill="none" stroke="#141414" stroke-width="0.7" stroke-linecap="round" stroke-linejoin="round"/>
<path d="M102.0 216.5 L101.1 217.4 L100.2 218.3 L98.8 218.7 L97.2 218.9 L96.3 219.6 L95.6 221.3 L94.7 222.7 L93.4 223.6 L92.3 224.8 L91.4 225.9 L90.2 226.3 L88.7 226.1 L87.2 226.0 L86.0 226.4 L84.9 227.3 L83.7 227.9 L82.4 228.2 L81.3 229.2 L80.4 230.6 L79.2 231.4 L77.8 231.1 L76.4 231.4 L75.4 232.3 L74.5 233.3 L73.3 233.9 L72.2 234.4 L71.6 235.5 L71.0 236.8 L70.0 237.5" fill="none" stroke="#141414" stroke-width="0.7" stroke-linecap="round" stroke-linejoin="round"/>
<path d="M101.0 217.5 L99.9 218.4 L98.7 219.3 L97.8 220.6 L97.0 221.9 L95.6 222.4 L93.8 222.5 L92.4 223.1 L91.7 224.4 L90.8 225.5 L89.6 226.4 L89.0 227.6 L89.0 229.1 L88.8 230.6 L88.0 231.6 L86.6 232.1 L85.2 233.0 L84.3 234.3 L83.0 235.3 L81.6 236.1 L81.1 237.5 L81.0 239.4 L80.4 240.8 L79.2 241.7 L78.2 242.7 L77.3 243.8 L76.0 244.6 L75.0 245.7" fill="none" stroke="#141414" stroke-width="0.7" stroke-linecap="round" stroke-linejoin="round"/>
<path d="M102.6 216.5 L101.6 217.9 L100.0 219.1 L99.2 220.3 L99.4 222.2 L99.4 223.9 L98.6 225.2 L97.6 226.3 L97.1 227.7 L96.3 229.1 L94.7 230.1 L93.8 231.5 L94.1 233.3 L94.2 235.0 L93.6 236.6 L93.2 238.2 L93.0 239.9 L91.6 241.0 L90.0 241.7 L89.3 243.0 L88.8 244.4" fill="none" stroke="#141414" stroke-width="0.7" stroke-linecap="round" stroke-linejoin="round"/>
<path d="M103.2 216.5 L102.3 217.4 L101.8 218.5 L101.7 219.8 L101.1 221.3 L100.4 222.7 L100.2 224.4 L99.7 225.9 L98.0 226.8 L96.5 227.8 L96.2 229.4 L96.0 230.9 L95.4 232.3 L95.2 233.9 L95.7 235.8 L95.5 237.5 L93.9 238.6 L92.7 239.8 L92.1 241.3 L91.3 242.4 L90.6 243.6 L90.2 245.0" fill="none" stroke="#141414" stroke-width="0.7" stroke-linecap="round" stroke-linejoin="round"/>
<path d="M102.0 217.2 L101.2 218.1 L100.0 218.8 L99.1 219.8 L99.2 221.6 L99.0 223.1 L98.1 224.4 L97.6 225.7 L97.4 227.2 L96.4 228.3 L94.7 229.2 L93.6 230.5 L93.6 232.2 L93.3 233.8 L92.7 235.2 L92.8 237.0 L92.7 238.8 L91.6 239.9 L89.9 240.6 L88.9 241.4 L88.2 242.5 L87.5 243.6" fill="none" stroke="#141414" stroke-width="0.7" stroke-linecap="round" stroke-linejoin="round"/>
<path d="M91.2 240.8 L90.5 241.6 L91.4 242.5 L92.5 243.2 L94.1 241.8 L92.3 241.4" fill="none" stroke="#141414" stroke-width="0.7" stroke-linecap="round" stroke-linejoin="round"/>
<path d="M88.8 244.4 L88.0 245.7 L87.0 247.0 L86.3 248.7 L86.0 250.5 L85.5 251.9 L84.5 253.0" fill="none" stroke="#141414" stroke-width="0.7" stroke-linecap="round" stroke-linejoin="round"/>
<path d="M104.5 213.0 L104.6 211.6 L104.7 210.2 L105.1 208.8 L105.6 207.5 L106.2 206.3 L107.4 205.5 L108.9 204.7 L109.7 203.7 L109.6 202.3 L109.8 200.5 L110.5 199.0" fill="none" stroke="#141414" stroke-width="0.7" stroke-linecap="round" stroke-linejoin="round"/>
<path d="M104.0 213.0 L103.1 212.2 L102.6 211.0 L102.1 209.9 L101.1 209.2 L100.1 208.5 L99.4 207.6 L98.6 206.7 L97.2 206.1 L95.5 205.6 L94.9 204.3 L95.0 202.9 L95.1 201.5 L94.9 200.3 L94.7 199.2 L94.5 198.0" fill="none" stroke="#141414" stroke-width="0.7" stroke-linecap="round" stroke-linejoin="round"/>
<path d="M105.5 214.0 L107.0 213.7 L108.5 213.7 L110.0 214.4 L111.2 214.9 L112.5 214.5 L113.8 213.6 L115.1 213.2 L116.3 213.6 L117.6 213.9 L118.9 213.7 L120.3 213.9 L121.3 215.3 L122.5 216.3 L124.0 216.5" fill="none" stroke="#141414" stroke-width="0.7" stroke-linecap="round" stroke-linejoin="round"/>
<path d="M103.0 214.5 L101.0 214.3 L99.0 214.0 L97.0 213.3 L95.0 212.5 L93.1 211.8 L91.0 211.5" fill="none" stroke="#141414" stroke-width="0.7" stroke-linecap="round" stroke-linejoin="round"/>
<path d="M51.3 6.3 L52.0 7.8 L52.7 9.2 L53.2 10.8 L54.3 11.8 L55.6 12.5 L56.3 13.7 L56.6 15.1 L57.7 16.1 L58.8 17.0 L59.6 18.3 L60.9 19.2 L62.8 18.9 L64.2 19.5 L65.6 20.3 L67.1 20.2 L68.7 20.6 L70.2 21.1 L71.7 20.5 L73.1 20.4 L74.4 20.9 L75.7 21.3 L77.1 21.5 L77.9 22.7 L78.4 24.2 L79.3 25.1 L80.7 25.6 L81.5 26.9 L82.3 28.2 L83.5 29.3 L84.0 30.8 L83.7 32.6 L84.4 34.0 L85.1 35.4 L85.3 36.7 L85.8 37.9 L86.0 39.2" fill="none" stroke="#46ba92" stroke-width="1.1" stroke-linecap="round" stroke-linejoin="round"/>
<path d="M76.9 26.8 L74.9 27.0 L75.7 28.2 L76.2 29.4 L77.6 29.6 L79.0 29.8 L80.1 30.7 L80.7 32.1 L81.7 32.8 L82.9 33.3 L83.4 34.4 L83.9 35.5 L84.9 36.5 L85.8 37.5 L85.8 39.3 L86.3 41.0" fill="none" stroke="#3a9a5e" stroke-width="1.2" stroke-linecap="round" stroke-linejoin="round"/>
<path d="M95.7 14.6 L95.6 16.0 L95.4 17.4 L95.4 18.8 L96.2 20.0 L96.4 21.4 L95.9 22.8 L95.9 24.2 L96.6 25.5 L97.0 26.9 L97.5 28.2 L98.6 29.2 L99.7 30.3 L100.1 31.9 L100.8 33.3 L101.6 34.7 L102.4 36.2" fill="none" stroke="#5ade88" stroke-width="1.1" stroke-linecap="round" stroke-linejoin="round"/>
<path d="M102.4 36.2 L102.6 34.6 L102.8 33.1 L103.9 31.8 L104.7 30.6 L105.2 29.2 L106.1 28.1 L106.7 27.0 L106.9 25.6 L107.6 24.4 L109.0 24.0 L110.2 23.5 L111.1 22.7 L112.6 22.7 L114.0 22.7 L115.4 22.9 L116.8 23.4" fill="none" stroke="#46ba92" stroke-width="1.1" stroke-linecap="round" stroke-linejoin="round"/>
<path d="M108.8 22.5 L108.6 21.5 L108.5 20.5 L109.9 19.6 L111.0 18.2 L112.6 18.0 L114.1 17.6" fill="none" stroke="#5ade88" stroke-width="1.1" stroke-linecap="round" stroke-linejoin="round"/>
<path d="M116.8 23.4 L116.8 22.1 L116.9 20.9 L116.9 19.5 L117.4 18.0 L118.5 17.0 L120.0 15.9 L119.3 14.4 L118.4 13.3 L118.0 12.1 L117.3 10.6 L116.8 9.0" fill="none" stroke="#46ba92" stroke-width="1.1" stroke-linecap="round" stroke-linejoin="round"/>
<path d="M116.8 23.4 L118.5 23.9 L120.1 24.6 L121.4 24.4 L122.7 24.5 L123.9 24.8 L125.3 25.1 L126.8 25.3 L127.9 26.3 L129.3 27.4 L130.6 26.1 L131.8 25.0 L133.1 24.2 L134.1 23.2 L135.1 22.2 L136.6 22.1 L138.0 22.5 L139.3 22.1 L140.5 21.7 L141.8 21.3 L143.1 20.8" fill="none" stroke="#46ba92" stroke-width="1.1" stroke-linecap="round" stroke-linejoin="round"/>
<path d="M116.8 23.4 L116.6 24.7 L116.1 25.9 L115.7 27.1 L115.3 28.7 L114.2 30.0 L113.5 31.6 L114.4 32.9 L115.0 34.1 L115.1 35.4 L114.3 36.5 L113.8 37.7 L112.8 38.6 L111.3 38.8 L110.2 39.4 L109.5 40.6 L108.6 41.7 L107.6 42.7 L106.9 43.9 L106.4 45.4 L104.8 46.4 L103.9 47.7 L103.7 48.9 L103.0 50.2 L102.3 51.6 L102.1 53.3 L101.4 54.6 L100.2 55.6 L99.5 56.8 L99.0 58.2 L98.2 59.4 L97.9 61.0 L98.1 62.7 L97.4 64.2 L96.8 65.6" fill="none" stroke="#46ba92" stroke-width="1.1" stroke-linecap="round" stroke-linejoin="round"/>
<path d="M102.4 36.2 L102.2 37.5 L102.1 38.9 L101.7 40.2 L100.7 41.4 L100.4 42.6 L100.7 44.1 L100.6 45.4 L100.2 46.6 L100.1 48.0 L99.8 49.5 L98.6 50.6 L97.7 51.9 L97.9 53.6 L97.8 55.1 L97.6 56.6 L97.9 58.2 L97.8 59.6 L96.9 60.8 L96.5 62.1 L96.5 63.5 L96.4 64.9" fill="none" stroke="#46ba92" stroke-width="1.1" stroke-linecap="round" stroke-linejoin="round"/>
<path d="M90.5 107.1 L91.6 107.4 L92.6 107.9 L93.5 109.2 L94.5 110.6 L94.6 112.1 L95.4 113.6 L95.6 115.0 L95.3 116.7 L95.7 118.3 L96.3 119.7 L96.5 121.3 L97.3 122.7 L98.3 124.0 L98.2 125.7 L98.2 126.9 L98.5 128.0" fill="none" stroke="#2f9a8c" stroke-width="1.05" stroke-linecap="round" stroke-linejoin="round"/>
<path d="M99.2 128.4 L98.0 128.5 L96.7 128.4 L95.5 128.5 L94.3 128.9 L92.8 128.5 L91.3 128.7 L89.7 129.1 L88.2 128.4 L86.8 127.5 L85.2 127.3 L83.6 127.5 L82.1 127.6 L80.7 128.7 L79.3 129.3 L77.7 128.9 L76.2 128.9 L74.7 128.6 L73.3 127.8 L71.8 127.6 L70.0 127.9 L68.5 127.3 L67.1 126.5 L65.9 126.7 L64.6 126.4 L63.3 125.8 L61.8 126.5 L60.9 127.8 L59.8 128.7 L58.7 129.4 L57.8 130.4 L56.9 131.3 L55.5 132.0 L54.4 133.1 L54.9 134.4 L55.1 135.5" fill="none" stroke="#2f9a8c" stroke-width="1.05" stroke-linecap="round" stroke-linejoin="round"/>
<path d="M101.8 150.4 L103.4 150.0 L105.0 149.8 L106.1 149.1 L107.2 148.1 L108.9 148.1 L110.6 148.4 L111.6 147.7 L112.6 146.8 L114.1 146.4 L115.6 146.1 L116.6 145.3 L117.9 144.7" fill="none" stroke="#2f9a8c" stroke-width="1.0" stroke-linecap="round" stroke-linejoin="round"/>
<path d="M115.6 146.2 L115.4 144.9 L115.4 143.6 L114.7 142.4 L114.8 141.1 L115.3 139.9 L115.5 138.6 L115.3 136.9 L114.9 135.3" fill="none" stroke="#2f9a8c" stroke-width="0.95" stroke-linecap="round" stroke-linejoin="round"/>
<path d="M131.0 133.7 L132.1 134.5 L133.3 135.0 L133.6 136.4 L133.6 137.9 L133.0 139.4 L132.0 140.6 L130.5 141.3 L129.6 142.4 L129.1 143.8 L128.0 145.0 L127.1 146.4 L126.7 148.2 L125.6 149.0 L124.2 149.5 L123.2 150.4 L122.3 151.4 L121.1 152.1 L120.2 153.0 L119.7 154.5 L119.1 155.7 L117.8 156.3 L116.6 157.0 L115.7 158.0 L115.0 159.0 L114.0 159.9 L113.7 161.0 L113.3 162.5 L112.4 163.6 L111.2 164.4 L110.2 165.2 L109.3 165.9 L108.0 166.2 L106.5 166.8 L105.1 167.8" fill="none" stroke="#3c9ab4" stroke-width="0.95" stroke-linecap="round" stroke-linejoin="round"/>
<path d="M127.4 164.3 L126.5 163.6 L125.4 163.3 L124.0 163.9 L122.4 164.0 L121.6 164.8 L120.7 165.6 L119.5 165.9 L117.9 166.3 L117.1 167.5 L116.4 168.8 L115.4 170.0 L114.6 171.5 L113.9 173.1 L112.4 173.6 L111.0 174.2 L110.2 175.4 L109.0 176.2 L107.7 176.9 L106.7 178.1 L105.7 179.3 L104.3 180.2" fill="none" stroke="#2a4ad0" stroke-width="0.9" stroke-linecap="round" stroke-linejoin="round"/>
<path d="M137.9 168.8 L136.9 169.8 L136.3 171.1 L135.6 172.4 L134.3 172.8 L133.2 173.3 L132.2 174.1 L131.1 174.7 L129.8 175.1 L128.9 176.0 L128.3 177.8 L127.3 178.8 L127.2 179.8 L127.5 181.1 L127.6 182.4 L126.6 183.5 L125.9 184.7 L126.1 186.1 L125.7 187.4 L124.8 188.3 L124.0 189.3 L123.0 190.6 L121.4 191.2 L119.8 191.6 L118.9 192.3 L117.8 193.2 L116.5 193.5 L115.4 194.1 L114.2 195.1 L112.6 195.1 L111.1 194.3 L109.6 194.4 L108.1 194.8 L106.6 194.6 L105.1 194.5" fill="none" stroke="#2a2ae0" stroke-width="1.0" stroke-linecap="round" stroke-linejoin="round"/>
<path d="M152.1 175.1 L151.9 176.3 L151.8 177.6 L151.6 178.8 L152.1 180.0 L152.9 180.9 L154.1 181.7 L154.5 183.3 L154.3 184.9 L153.1 185.9 L152.0 186.9 L150.7 186.2 L149.1 186.4 L147.8 186.9 L146.6 186.5 L145.4 186.0 L144.2 186.6 L142.9 187.2 L141.2 187.4 L140.2 188.5 L139.8 190.1 L138.9 191.2 L137.4 191.8 L136.2 192.7 L134.9 193.3 L133.3 193.3 L132.0 193.8 L131.0 195.0 L129.8 195.5 L128.6 195.7 L127.4 196.2 L126.0 196.6 L124.7 196.3 L123.3 195.7 L121.9 196.1 L120.9 197.1 L119.8 197.7 L118.7 198.3 L117.8 199.4 L116.3 200.1 L114.5 199.8 L112.9 200.1 L111.9 200.9 L110.7 201.4 L109.6 201.9 L108.7 203.0 L107.4 204.1 L105.8 204.3 L104.3 205.0" fill="none" stroke="#2a2ae0" stroke-width="1.0" stroke-linecap="round" stroke-linejoin="round"/>
<path d="M105.2 194.6 L106.7 194.5 L108.2 194.4 L109.7 194.3 L111.1 193.3 L112.6 192.9 L114.2 193.4 L115.7 193.3 L117.2 192.9 L118.6 192.9 L119.7 192.4 L120.7 191.4 L121.8 190.6 L123.1 190.5 L124.5 190.4 L125.8 190.0 L127.2 189.8 L128.7 190.0 L129.9 189.2 L131.0 188.1 L132.3 187.6 L133.7 187.4 L134.9 186.8 L136.0 186.4 L137.2 186.1 L138.2 185.5" fill="none" stroke="#2a2ae0" stroke-width="1.0" stroke-linecap="round" stroke-linejoin="round"/>
<path d="M103.6 184.0 L102.4 183.6 L101.2 183.1 L99.9 183.2 L98.6 182.9 L97.4 182.3 L95.9 182.1 L94.7 181.5 L94.0 180.4 L93.3 179.1 L91.7 178.6 L90.1 178.0" fill="none" stroke="#2a2ae0" stroke-width="1.0" stroke-linecap="round" stroke-linejoin="round"/>
<path d="M91.5 177.9 L93.0 178.1 L94.8 178.3 L95.0 180.3 L95.6 182.1 L96.9 182.2 L98.0 182.4 L99.0 183.5 L100.4 184.2 L101.5 185.0 L102.5 185.7 L103.6 186.2" fill="none" stroke="#2a2ae0" stroke-width="1.0" stroke-linecap="round" stroke-linejoin="round"/>
<path d="M103.6 190.1 L102.6 189.3 L101.5 188.7 L100.6 187.9 L99.5 187.2 L98.3 186.8 L97.5 186.0 L96.0 185.5 L94.3 186.1 L95.0 187.8 L95.4 189.3" fill="none" stroke="#3c9ab4" stroke-width="0.95" stroke-linecap="round" stroke-linejoin="round"/>
<path d="M76.4 186.9 L77.5 187.9 L78.7 188.4 L80.1 187.9 L81.7 187.4 L83.2 186.9 L84.8 187.0 L86.3 187.0 L87.7 186.0 L89.3 185.7 L90.6 186.3 L91.8 186.4 L93.1 186.6 L94.3 188.0 L95.7 188.9 L97.0 189.2 L98.2 189.7 L99.1 190.6 L100.1 191.1 L101.3 191.4 L102.3 192.3 L103.1 193.6 L104.3 194.5" fill="none" stroke="#2a2ae0" stroke-width="1.0" stroke-linecap="round" stroke-linejoin="round"/>
<path d="M38.0 189.5 L39.5 190.0 L41.0 190.5 L42.2 190.8 L43.4 191.3 L44.8 191.2 L46.0 190.3 L47.2 190.0 L48.6 190.3 L49.8 190.1 L51.0 189.7 L52.3 189.8 L53.6 190.6 L55.3 190.4 L56.7 190.9 L57.5 191.9 L58.5 192.9 L59.7 193.9 L60.4 195.4 L61.3 196.7 L62.8 197.2 L64.2 197.0 L65.4 197.4 L66.6 197.7 L67.8 197.6 L69.0 197.8 L70.4 198.8 L71.8 199.2 L73.4 198.8 L74.9 198.6 L76.5 198.4 L77.9 197.7 L79.4 197.6 L81.1 198.2 L82.6 197.8 L83.8 196.9 L85.1 196.3 L86.2 195.2 L87.2 194.1 L88.6 193.7 L90.0 193.9 L91.5 194.0 L93.0 194.1 L94.5 194.5 L96.0 194.3 L97.6 193.7 L99.1 194.1 L100.5 195.0 L102.1 195.5 L103.6 196.0" fill="none" stroke="#2a2ae0" stroke-width="1.0" stroke-linecap="round" stroke-linejoin="round"/>
<path d="M86.2 198.3 L87.8 198.9 L89.3 199.8 L89.9 201.0 L89.9 202.3 L90.1 203.6 L90.7 205.0 L90.7 206.6 L90.8 208.1" fill="none" stroke="#2a2ae0" stroke-width="0.6" stroke-linecap="round" stroke-linejoin="round"/>
<path d="M59.4 216.4 L59.6 218.0 L60.3 219.4 L61.6 220.2 L62.9 220.8 L64.1 220.1 L65.3 220.0 L66.6 220.5 L67.7 221.2 L69.1 221.3 L70.4 221.4 L71.6 221.7 L72.9 221.5 L74.1 221.0 L75.0 220.5 L76.4 220.5 L77.6 220.4 L78.7 220.4 L79.8 220.5 L81.1 220.9 L82.6 220.2 L83.7 218.9 L84.7 218.2 L85.9 217.8 L87.0 217.1 L88.0 216.1 L89.3 215.4 L90.4 214.6 L91.2 213.2 L92.3 212.1 L93.7 211.6 L95.1 211.1 L96.5 210.6 L98.2 210.8 L99.7 210.4 L101.0 209.2 L102.1 209.0 L103.3 208.8" fill="none" stroke="#2a2ae0" stroke-width="1.0" stroke-linecap="round" stroke-linejoin="round"/>
<path d="M72.4 209.3 L72.5 210.6 L72.9 211.9 L73.0 213.2 L73.2 214.5 L73.8 215.7 L73.9 217.1 L74.3 218.5 L75.1 219.5 L76.4 220.1 L77.7 220.8 L78.7 221.8 L79.8 221.5 L81.0 221.3" fill="none" stroke="#2f9a8c" stroke-width="1.05" stroke-linecap="round" stroke-linejoin="round"/>
<path d="M127.0 175.0 L127.5 176.5 L127.9 178.0 L128.1 179.5 L128.2 180.8 L127.7 182.1 L127.1 183.3 L127.4 184.5 L127.5 185.8 L127.8 187.1" fill="none" stroke="#2a2ae0" stroke-width="0.8" stroke-linecap="round" stroke-linejoin="round"/>
<path d="M108.4 12.5 L106.7 12.7 L105.1 13.3 L103.6 14.0 L102.3 15.2 L100.5 15.5 L98.9 16.1 L97.8 17.5 L96.7 18.7 L96.7 20.5 L95.7 21.9 L94.7 22.8 L93.8 23.8 L91.9 23.8 L90.6 25.1 L89.1 25.7 L88.7 27.2 L88.2 28.7 L87.5 30.1 L87.8 31.7 L87.6 33.2 L87.4 34.7 L87.2 36.2 L86.5 37.7 L86.6 39.2 L86.7 40.7 L86.9 42.0 L87.5 43.2 L87.6 44.4 L87.5 46.1 L88.2 47.5 L88.6 49.1 L89.2 50.3 L90.0 51.5 L90.0 53.0 L90.3 54.3 L90.8 55.8 L91.1 57.4 L92.1 58.7 L92.8 60.0 L93.4 61.3 L94.2 62.5 L94.5 64.1 L95.5 65.2 L96.6 66.3 L96.7 67.7 L97.1 68.9 L97.3 70.2 L97.0 71.8 L97.5 73.2 L97.9 74.7 L97.7 76.2 L97.8 77.8 L97.0 79.2 L97.2 80.7 L97.5 82.2 L97.7 83.7 L98.4 85.1 L98.4 86.5 L98.2 87.9 L98.4 89.3 L98.2 90.8 L98.4 92.2 L99.0 93.6 L98.9 95.0 L98.8 96.4 L98.8 97.8 L98.3 99.2 L98.5 100.6 L98.8 102.0 L98.8 103.3 L99.1 104.6 L99.1 106.0 L98.7 107.4 L99.0 108.7 L99.3 110.0 L99.4 111.5 L99.9 113.0 L99.8 114.5 L99.5 116.0 L99.6 117.5 L99.2 119.0 L99.4 120.6 L99.4 122.1 L99.1 123.6 L99.4 125.1 L99.3 126.6 L99.6 128.1 L100.3 129.6 L100.1 131.1 L100.3 132.6 L100.2 134.1 L100.0 135.7 L100.7 137.1 L100.8 138.7 L101.1 140.2 L101.2 141.7 L100.7 143.2 L101.1 144.7 L101.3 146.2 L101.5 147.7 L102.1 149.1 L101.8 150.7 L101.9 152.2 L102.3 153.5 L102.3 154.8 L102.8 156.0 L103.4 157.5 L103.1 159.1 L103.4 160.6 L103.4 162.1 L103.4 163.6 L104.1 165.1 L104.0 166.6 L104.0 168.1 L104.0 169.6 L103.7 171.1 L104.2 172.6 L104.5 174.1 L104.3 175.6 L104.4 177.2 L103.7 178.7 L103.7 180.2 L103.9 181.7 L103.7 183.2 L103.8 184.7 L103.6 186.2" fill="none" stroke="#2a1ce8" stroke-width="1.5" stroke-linecap="round" stroke-linejoin="round"/>
<path d="M103.6 186.2 L103.8 187.7 L104.0 189.2 L103.7 190.7 L103.9 192.2 L103.7 193.4 L103.5 194.7 L103.9 196.0 L103.9 197.5 L103.6 199.0 L103.7 200.5 L103.4 202.0 L103.8 203.5 L104.3 205.0 L104.2 206.5 L104.6 208.0 L104.4 209.6 L104.2 211.1 L104.5 212.6 L104.3 214.1" fill="none" stroke="#2a1ce8" stroke-width="2.6" stroke-linecap="round" stroke-linejoin="round"/>
<path d="M105.0 176.0 L105.7 177.0 L106.6 177.8 L107.6 178.9 L106.6 180.3 L105.8 181.5 L105.7 183.0 L106.7 184.5 L107.3 186.0 L107.3 187.4 L106.7 188.8 L106.0 190.0" fill="none" stroke="#2a2ae0" stroke-width="0.8" stroke-linecap="round" stroke-linejoin="round"/>
<path d="M106.0 194.0 L106.8 195.0 L107.9 195.8 L108.6 197.0 L108.0 198.3 L108.1 199.7 L107.9 201.0 L107.0 202.0 L106.0 203.0" fill="none" stroke="#2a2ae0" stroke-width="0.8" stroke-linecap="round" stroke-linejoin="round"/>
<circle cx="101.8" cy="220.9" r="0.9" fill="#2a2ae0"/>
<path d="M122.1 217.1 L124.0 216.9 L125.9 216.4 L127.8 215.5 L129.7 214.4 L131.5 213.4 L133.4 212.5 L134.9 212.0 L136.5 211.6 L138.8 211.1 L139.6 208.5 L140.4 206.0 L141.6 204.8 L143.2 204.7 L144.8 204.9 L145.8 207.3 L144.2 209.2 L142.2 208.6" fill="none" stroke="#d47a26" stroke-width="0.95" stroke-linecap="round" stroke-linejoin="round"/>
<path d="M125.2 220.1 L126.6 221.5 L128.2 222.8 L130.5 222.6 L132.7 222.4 L135.0 221.8 L137.2 220.9 L139.4 220.6 L141.7 220.4 L143.2 219.9 L144.8 219.7 L146.3 219.2 L148.1 219.9 L150.0 220.3 L151.7 220.7 L153.5 220.8 L155.0 220.3 L156.5 219.5 L157.8 218.0 L159.0 216.4 L160.8 214.9 L162.5 213.2" fill="none" stroke="#c6da2e" stroke-width="1.0" stroke-linecap="round" stroke-linejoin="round"/>
<path d="M105.6 215.3 L107.9 215.3 L110.1 215.6 L112.3 216.2 L114.6 216.8 L116.9 217.5 L119.1 218.3 L121.1 218.9 L122.9 219.8 L123.6 221.8 L123.9 223.9 L123.7 226.2 L123.3 228.4 L123.9 230.3 L124.4 232.2 L125.2 233.8 L126.0 235.4 L127.1 236.8 L128.7 237.1 L130.2 237.5 L131.4 238.8 L132.9 239.8 L134.7 242.0 L136.5 242.0 L136.8 243.6 L137.4 245.0 L138.0 247.3 L140.0 247.8 L140.6 249.1 L141.5 250.3 L143.0 250.5 L144.5 250.8 L146.7 251.8 L147.9 252.7 L149.0 253.8" fill="none" stroke="#cc1a1a" stroke-width="1.4" stroke-linecap="round" stroke-linejoin="round"/>
<circle cx="104.3" cy="214.8" r="1.9" fill="#111"/>
</g>
<g>
<path d="M236.3 2.4 L236.7 3.2 L237.2 4.1 L237.4 5.0 L238.0 5.5 L238.8 6.0 L239.2 6.6 L239.4 7.5 L240.0 8.0 L240.7 8.6 L241.1 9.3 L241.9 9.8 L243.0 9.6 L243.8 10.0 L244.6 10.4 L245.5 10.4 L246.4 10.6 L247.2 10.9 L248.1 10.6 L248.9 10.5 L249.7 10.8 L250.4 11.0 L251.3 11.1 L251.7 11.8 L252.0 12.7 L252.5 13.2 L253.3 13.5 L253.8 14.2 L254.3 15.0 L254.9 15.6 L255.2 16.5 L255.1 17.5 L255.4 18.3 L255.9 19.1 L256.0 19.9 L256.3 20.6 L256.4 21.3" fill="none" stroke="#46ba92" stroke-width="0.682" stroke-linecap="round" stroke-linejoin="round"/>
<path d="M251.1 14.2 L250.0 14.3 L250.4 15.0 L250.7 15.7 L251.5 15.8 L252.3 15.9 L253.0 16.4 L253.3 17.2 L253.9 17.6 L254.6 17.9 L254.9 18.5 L255.2 19.2 L255.8 19.7 L256.3 20.3 L256.3 21.4 L256.6 22.3" fill="none" stroke="#3a9a5e" stroke-width="0.744" stroke-linecap="round" stroke-linejoin="round"/>
<path d="M262.0 7.2 L261.9 8.0 L261.8 8.8 L261.9 9.6 L262.3 10.3 L262.4 11.0 L262.1 11.9 L262.1 12.7 L262.6 13.4 L262.8 14.2 L263.0 15.0 L263.7 15.6 L264.3 16.2 L264.5 17.1 L264.9 17.9 L265.4 18.7 L265.9 19.6" fill="none" stroke="#5ade88" stroke-width="0.682" stroke-linecap="round" stroke-linejoin="round"/>
<path d="M265.9 19.6 L266.0 18.7 L266.1 17.8 L266.7 17.1 L267.2 16.4 L267.5 15.6 L268.0 14.9 L268.4 14.3 L268.5 13.5 L268.9 12.8 L269.7 12.6 L270.4 12.3 L270.9 11.8 L271.8 11.8 L272.6 11.8 L273.4 11.9 L274.2 12.2" fill="none" stroke="#46ba92" stroke-width="0.682" stroke-linecap="round" stroke-linejoin="round"/>
<path d="M269.6 11.7 L269.5 11.1 L269.4 10.5 L270.2 10.0 L270.8 9.2 L271.8 9.1 L272.6 8.9" fill="none" stroke="#5ade88" stroke-width="0.682" stroke-linecap="round" stroke-linejoin="round"/>
<path d="M274.2 12.2 L274.2 11.5 L274.3 10.8 L274.3 10.0 L274.5 9.1 L275.2 8.5 L276.1 7.9 L275.7 7.0 L275.2 6.4 L274.9 5.7 L274.5 4.8 L274.2 3.9" fill="none" stroke="#46ba92" stroke-width="0.682" stroke-linecap="round" stroke-linejoin="round"/>
<path d="M274.2 12.2 L275.2 12.5 L276.1 12.9 L276.9 12.8 L277.6 12.8 L278.3 13.1 L279.1 13.2 L280.0 13.3 L280.6 13.9 L281.4 14.5 L282.2 13.8 L282.9 13.2 L283.6 12.7 L284.2 12.1 L284.8 11.6 L285.7 11.5 L286.5 11.7 L287.2 11.5 L287.9 11.2 L288.7 11.0 L289.4 10.7" fill="none" stroke="#46ba92" stroke-width="0.682" stroke-linecap="round" stroke-linejoin="round"/>
<path d="M274.2 12.2 L274.1 13.0 L273.8 13.7 L273.6 14.4 L273.4 15.3 L272.7 16.0 L272.3 17.0 L272.8 17.7 L273.1 18.4 L273.2 19.1 L272.8 19.8 L272.5 20.5 L271.9 20.9 L271.0 21.1 L270.4 21.4 L270.0 22.1 L269.5 22.8 L268.9 23.3 L268.5 24.0 L268.2 24.9 L267.3 25.4 L266.7 26.2 L266.7 26.9 L266.2 27.7 L265.8 28.4 L265.7 29.4 L265.3 30.2 L264.6 30.7 L264.2 31.5 L263.9 32.3 L263.4 33.0 L263.3 33.9 L263.4 34.9 L263.0 35.7 L262.6 36.5" fill="none" stroke="#46ba92" stroke-width="0.682" stroke-linecap="round" stroke-linejoin="round"/>
<path d="M265.9 19.6 L265.8 20.4 L265.7 21.1 L265.5 21.9 L264.9 22.6 L264.7 23.3 L264.9 24.1 L264.8 24.9 L264.6 25.6 L264.6 26.4 L264.4 27.2 L263.7 27.9 L263.1 28.6 L263.3 29.6 L263.2 30.5 L263.1 31.3 L263.3 32.2 L263.2 33.0 L262.7 33.7 L262.5 34.5 L262.5 35.3 L262.4 36.1" fill="none" stroke="#46ba92" stroke-width="0.682" stroke-linecap="round" stroke-linejoin="round"/>
<path d="M259.0 60.4 L259.7 60.5 L260.2 60.8 L260.7 61.6 L261.3 62.4 L261.4 63.3 L261.8 64.1 L262.0 64.9 L261.8 65.9 L262.0 66.8 L262.4 67.7 L262.4 68.5 L262.9 69.3 L263.5 70.1 L263.4 71.1 L263.5 71.7 L263.6 72.4" fill="none" stroke="#2f9a8c" stroke-width="0.651" stroke-linecap="round" stroke-linejoin="round"/>
<path d="M264.0 72.6 L263.3 72.7 L262.6 72.6 L261.9 72.7 L261.2 72.9 L260.4 72.7 L259.5 72.8 L258.5 73.0 L257.7 72.6 L256.9 72.1 L255.9 72.0 L255.0 72.1 L254.1 72.2 L253.4 72.8 L252.5 73.1 L251.6 72.9 L250.7 72.9 L249.9 72.8 L249.1 72.3 L248.2 72.2 L247.2 72.3 L246.3 72.0 L245.5 71.5 L244.8 71.6 L244.0 71.5 L243.2 71.2 L242.4 71.5 L241.9 72.3 L241.2 72.8 L240.6 73.2 L240.1 73.8 L239.6 74.3 L238.8 74.7 L238.1 75.3 L238.4 76.1 L238.5 76.7" fill="none" stroke="#2f9a8c" stroke-width="0.651" stroke-linecap="round" stroke-linejoin="round"/>
<path d="M265.5 85.3 L266.5 85.1 L267.4 84.9 L268.0 84.5 L268.6 84.0 L269.6 84.0 L270.6 84.1 L271.2 83.7 L271.8 83.2 L272.6 83.0 L273.5 82.8 L274.1 82.3 L274.8 82.0" fill="none" stroke="#2f9a8c" stroke-width="0.62" stroke-linecap="round" stroke-linejoin="round"/>
<path d="M273.5 82.9 L273.4 82.1 L273.4 81.4 L273.0 80.7 L273.1 79.9 L273.4 79.2 L273.4 78.5 L273.4 77.5 L273.1 76.6" fill="none" stroke="#2f9a8c" stroke-width="0.6" stroke-linecap="round" stroke-linejoin="round"/>
<path d="M282.4 75.7 L283.1 76.1 L283.7 76.4 L283.9 77.2 L283.9 78.1 L283.5 79.0 L283.0 79.6 L282.2 80.1 L281.6 80.7 L281.3 81.5 L280.7 82.2 L280.2 83.0 L279.9 84.0 L279.3 84.5 L278.5 84.8 L277.9 85.3 L277.4 85.9 L276.7 86.3 L276.2 86.8 L275.9 87.6 L275.5 88.3 L274.8 88.7 L274.1 89.1 L273.6 89.6 L273.1 90.2 L272.6 90.8 L272.4 91.4 L272.2 92.2 L271.7 92.9 L271.0 93.4 L270.4 93.8 L269.9 94.2 L269.1 94.4 L268.2 94.7 L267.4 95.3" fill="none" stroke="#3c9ab4" stroke-width="0.6" stroke-linecap="round" stroke-linejoin="round"/>
<path d="M280.3 93.3 L279.8 92.9 L279.2 92.7 L278.3 93.0 L277.5 93.1 L277.0 93.6 L276.5 94.0 L275.7 94.2 L274.9 94.5 L274.4 95.1 L274.0 95.9 L273.4 96.6 L272.9 97.4 L272.5 98.3 L271.7 98.6 L270.9 99.0 L270.4 99.7 L269.7 100.1 L269.0 100.5 L268.4 101.2 L267.8 101.9 L267.0 102.4" fill="none" stroke="#2a4ad0" stroke-width="0.6" stroke-linecap="round" stroke-linejoin="round"/>
<path d="M286.4 95.9 L285.8 96.4 L285.5 97.2 L285.1 97.9 L284.3 98.2 L283.7 98.5 L283.1 98.9 L282.5 99.3 L281.7 99.5 L281.2 100.0 L280.9 101.0 L280.3 101.6 L280.2 102.2 L280.4 102.9 L280.5 103.7 L279.9 104.3 L279.5 105.0 L279.6 105.8 L279.3 106.6 L278.8 107.1 L278.4 107.7 L277.8 108.4 L276.9 108.8 L276.0 109.0 L275.4 109.4 L274.8 109.9 L274.0 110.1 L273.4 110.4 L272.7 111.0 L271.8 111.0 L270.9 110.6 L270.0 110.6 L269.2 110.8 L268.3 110.7 L267.4 110.7" fill="none" stroke="#2a2ae0" stroke-width="0.62" stroke-linecap="round" stroke-linejoin="round"/>
<path d="M294.6 99.5 L294.5 100.2 L294.4 100.9 L294.3 101.6 L294.6 102.3 L295.1 102.8 L295.8 103.3 L296.0 104.2 L295.9 105.1 L295.2 105.7 L294.6 106.3 L293.8 105.9 L292.9 106.0 L292.1 106.3 L291.4 106.1 L290.8 105.7 L290.0 106.1 L289.3 106.5 L288.3 106.6 L287.7 107.2 L287.5 108.1 L287.0 108.8 L286.1 109.1 L285.4 109.6 L284.7 110.0 L283.7 110.0 L283.0 110.3 L282.4 111.0 L281.7 111.2 L281.0 111.3 L280.3 111.6 L279.5 111.9 L278.7 111.7 L277.9 111.4 L277.1 111.6 L276.6 112.1 L275.9 112.5 L275.3 112.9 L274.8 113.5 L273.9 113.9 L272.9 113.7 L272.0 113.9 L271.4 114.4 L270.7 114.6 L270.0 114.9 L269.5 115.5 L268.8 116.2 L267.8 116.3 L267.0 116.7" fill="none" stroke="#2a2ae0" stroke-width="0.62" stroke-linecap="round" stroke-linejoin="round"/>
<path d="M267.5 110.7 L268.4 110.6 L269.2 110.6 L270.1 110.5 L270.9 110.0 L271.8 109.7 L272.7 110.0 L273.6 109.9 L274.5 109.8 L275.2 109.7 L275.9 109.5 L276.5 108.9 L277.1 108.4 L277.8 108.3 L278.7 108.3 L279.4 108.0 L280.2 108.0 L281.1 108.0 L281.8 107.6 L282.4 107.0 L283.2 106.7 L284.0 106.6 L284.7 106.3 L285.3 106.0 L286.0 105.8 L286.6 105.5" fill="none" stroke="#2a2ae0" stroke-width="0.62" stroke-linecap="round" stroke-linejoin="round"/>
<path d="M266.6 104.6 L265.9 104.4 L265.2 104.1 L264.5 104.2 L263.7 104.0 L263.0 103.7 L262.1 103.5 L261.4 103.2 L261.0 102.6 L260.6 101.8 L259.7 101.5 L258.8 101.2" fill="none" stroke="#2a2ae0" stroke-width="0.62" stroke-linecap="round" stroke-linejoin="round"/>
<path d="M259.6 101.1 L260.5 101.2 L261.5 101.3 L261.6 102.5 L262.0 103.5 L262.7 103.6 L263.3 103.7 L263.9 104.3 L264.7 104.7 L265.4 105.2 L265.9 105.6 L266.6 105.9" fill="none" stroke="#2a2ae0" stroke-width="0.62" stroke-linecap="round" stroke-linejoin="round"/>
<path d="M266.6 108.1 L266.0 107.7 L265.4 107.3 L264.8 106.8 L264.2 106.5 L263.5 106.2 L263.1 105.8 L262.2 105.5 L261.2 105.8 L261.6 106.8 L261.8 107.7" fill="none" stroke="#3c9ab4" stroke-width="0.6" stroke-linecap="round" stroke-linejoin="round"/>
<path d="M250.8 106.3 L251.5 106.9 L252.2 107.2 L253.0 106.8 L253.9 106.6 L254.8 106.3 L255.7 106.3 L256.6 106.3 L257.4 105.8 L258.3 105.6 L259.0 105.9 L259.8 106.0 L260.5 106.1 L261.2 106.9 L262.0 107.5 L262.8 107.6 L263.4 107.9 L264.0 108.4 L264.6 108.7 L265.3 108.9 L265.8 109.4 L266.3 110.2 L267.0 110.7" fill="none" stroke="#2a2ae0" stroke-width="0.62" stroke-linecap="round" stroke-linejoin="round"/>
<path d="M228.6 107.8 L229.5 108.1 L230.4 108.4 L231.1 108.5 L231.8 108.8 L232.6 108.8 L233.3 108.2 L234.0 108.1 L234.8 108.2 L235.5 108.1 L236.2 107.9 L236.9 107.9 L237.7 108.4 L238.6 108.3 L239.4 108.6 L239.9 109.2 L240.5 109.7 L241.2 110.3 L241.6 111.2 L242.1 111.9 L243.0 112.2 L243.8 112.1 L244.5 112.3 L245.2 112.5 L245.9 112.4 L246.5 112.6 L247.4 113.1 L248.2 113.4 L249.1 113.1 L250.0 113.0 L250.9 112.9 L251.7 112.5 L252.6 112.5 L253.6 112.8 L254.4 112.6 L255.1 112.0 L255.9 111.7 L256.5 111.0 L257.1 110.4 L257.9 110.2 L258.7 110.3 L259.6 110.4 L260.4 110.4 L261.3 110.7 L262.2 110.5 L263.1 110.2 L264.0 110.4 L264.8 111.0 L265.7 111.2 L266.6 111.5" fill="none" stroke="#2a2ae0" stroke-width="0.62" stroke-linecap="round" stroke-linejoin="round"/>
<path d="M256.5 112.8 L257.4 113.2 L258.3 113.7 L258.6 114.4 L258.7 115.2 L258.8 115.9 L259.1 116.7 L259.1 117.6 L259.2 118.5" fill="none" stroke="#2a2ae0" stroke-width="0.6" stroke-linecap="round" stroke-linejoin="round"/>
<path d="M241.0 123.3 L241.1 124.2 L241.5 125.0 L242.3 125.4 L243.1 125.8 L243.7 125.4 L244.4 125.3 L245.2 125.6 L245.8 126.0 L246.6 126.1 L247.4 126.2 L248.1 126.3 L248.8 126.2 L249.5 125.9 L250.1 125.6 L250.8 125.6 L251.5 125.5 L252.2 125.5 L252.8 125.6 L253.5 125.8 L254.4 125.4 L255.1 124.7 L255.6 124.3 L256.4 124.1 L257.0 123.7 L257.5 123.1 L258.3 122.7 L258.9 122.2 L259.4 121.4 L260.0 120.8 L260.9 120.5 L261.7 120.2 L262.5 119.9 L263.4 120.0 L264.3 119.8 L265.1 119.1 L265.7 119.0 L266.4 118.9" fill="none" stroke="#2a2ae0" stroke-width="0.62" stroke-linecap="round" stroke-linejoin="round"/>
<path d="M248.5 119.2 L248.6 119.9 L248.8 120.7 L248.9 121.4 L249.0 122.2 L249.3 122.9 L249.4 123.6 L249.6 124.5 L250.1 125.0 L250.9 125.4 L251.6 125.8 L252.2 126.4 L252.8 126.2 L253.5 126.1" fill="none" stroke="#2f9a8c" stroke-width="0.651" stroke-linecap="round" stroke-linejoin="round"/>
<path d="M280.1 99.4 L280.4 100.3 L280.6 101.2 L280.8 102.0 L280.8 102.8 L280.5 103.5 L280.2 104.2 L280.4 104.9 L280.4 105.7 L280.6 106.4" fill="none" stroke="#2a2ae0" stroke-width="0.6" stroke-linecap="round" stroke-linejoin="round"/>
<path d="M269.4 6.0 L268.4 6.1 L267.4 6.4 L266.6 6.8 L265.8 7.5 L264.8 7.7 L263.8 8.0 L263.2 8.8 L262.6 9.5 L262.6 10.6 L262.0 11.4 L261.4 11.9 L260.9 12.4 L259.8 12.4 L259.1 13.2 L258.2 13.5 L258.0 14.4 L257.7 15.2 L257.3 16.1 L257.4 17.0 L257.3 17.9 L257.2 18.7 L257.1 19.6 L256.7 20.4 L256.8 21.3 L256.8 22.2 L256.9 22.9 L257.2 23.6 L257.3 24.3 L257.3 25.3 L257.7 26.1 L257.9 27.0 L258.3 27.7 L258.7 28.4 L258.7 29.2 L258.9 30.0 L259.2 30.9 L259.3 31.8 L260.0 32.5 L260.3 33.3 L260.7 34.0 L261.1 34.7 L261.3 35.6 L261.9 36.3 L262.5 36.9 L262.6 37.7 L262.8 38.4 L262.9 39.1 L262.7 40.0 L263.1 40.9 L263.3 41.7 L263.2 42.6 L263.2 43.5 L262.7 44.3 L262.9 45.2 L263.1 46.1 L263.2 46.9 L263.6 47.7 L263.6 48.5 L263.4 49.3 L263.6 50.1 L263.5 51.0 L263.6 51.8 L263.9 52.6 L263.9 53.4 L263.8 54.2 L263.8 55.0 L263.5 55.8 L263.6 56.6 L263.8 57.4 L263.8 58.2 L264.0 59.0 L264.0 59.7 L263.7 60.5 L263.9 61.3 L264.1 62.0 L264.1 62.9 L264.5 63.8 L264.4 64.6 L264.2 65.5 L264.2 66.4 L264.0 67.2 L264.1 68.1 L264.1 69.0 L264.0 69.9 L264.1 70.7 L264.1 71.6 L264.3 72.5 L264.7 73.3 L264.6 74.2 L264.7 75.0 L264.6 75.9 L264.5 76.8 L264.9 77.7 L265.0 78.5 L265.1 79.4 L265.2 80.3 L264.9 81.2 L265.1 82.0 L265.2 82.9 L265.4 83.7 L265.7 84.6 L265.6 85.5 L265.6 86.3 L265.8 87.1 L265.8 87.8 L266.1 88.5 L266.5 89.4 L266.3 90.3 L266.4 91.1 L266.5 92.0 L266.5 92.9 L266.9 93.7 L266.8 94.6 L266.8 95.5 L266.8 96.3 L266.6 97.2 L266.9 98.1 L267.1 98.9 L267.0 99.8 L267.0 100.7 L266.6 101.5 L266.6 102.4 L266.7 103.3 L266.6 104.2 L266.7 105.0 L266.6 105.9" fill="none" stroke="#2a1ce8" stroke-width="0.9299999999999999" stroke-linecap="round" stroke-linejoin="round"/>
<path d="M266.6 105.9 L266.7 106.7 L266.8 107.6 L266.6 108.5 L266.8 109.3 L266.6 110.1 L266.5 110.8 L266.7 111.5 L266.7 112.4 L266.6 113.2 L266.6 114.1 L266.5 115.0 L266.7 115.8 L267.0 116.7 L266.9 117.6 L267.2 118.4 L267.0 119.3 L266.9 120.2 L267.1 121.1 L267.0 121.9" fill="none" stroke="#2a1ce8" stroke-width="1.612" stroke-linecap="round" stroke-linejoin="round"/>
<path d="M267.4 100.0 L267.8 100.6 L268.3 101.1 L268.9 101.7 L268.3 102.5 L267.8 103.2 L267.8 104.1 L268.3 104.9 L268.7 105.8 L268.7 106.6 L268.4 107.4 L268.0 108.1" fill="none" stroke="#2a2ae0" stroke-width="0.6" stroke-linecap="round" stroke-linejoin="round"/>
<path d="M268.0 110.4 L268.4 110.9 L269.0 111.4 L269.5 112.1 L269.1 112.8 L269.2 113.6 L269.1 114.4 L268.5 115.0 L268.0 115.5" fill="none" stroke="#2a2ae0" stroke-width="0.6" stroke-linecap="round" stroke-linejoin="round"/>
<ellipse cx="267.2" cy="120.4" rx="1.2" ry="1.7" fill="#2a1ce8"/>
<path d="M266.6 108.0 L266.9 113.0 L267.1 118.0 L267.2 121.0" fill="none" stroke="#2a1ce8" stroke-width="1.7" stroke-linecap="round" stroke-linejoin="round"/>
</g>
<g>
<path d="M235.1 214.3 L236.3 211.7 L238.0 210.8 L239.8 210.2 L242.0 210.0 L244.2 210.2 L246.0 210.3 L247.8 210.8 L249.6 210.0 L251.3 209.0 L252.7 208.4 L253.9 207.3 L255.4 206.4 L256.6 205.2 L258.0 204.5 L259.5 203.1 L261.0 201.7 L262.5 201.2 L264.0 200.5 L265.5 201.5 L267.1 202.1 L268.6 201.7 L270.1 201.7 L271.8 201.0 L273.5 200.1 L274.9 199.5 L276.1 198.5 L276.3 196.3 L276.1 194.1 L276.4 192.4 L276.5 190.7 L276.7 189.0 L277.2 186.9 L278.1 185.0 L279.7 184.5 L281.1 183.6 L282.9 183.9 L284.7 184.4 L286.1 185.2 L287.6 185.6" fill="none" stroke="#a85a18" stroke-width="2.0" stroke-linecap="round" stroke-linejoin="round"/>
<path d="M242.5 217.3 L243.6 218.9 L245.1 220.1 L246.9 221.1 L248.6 222.2 L250.4 222.8 L252.2 223.6 L253.9 223.9 L255.7 223.7 L257.9 223.3 L260.0 222.6 L262.0 221.9 L264.0 221.4 L266.1 221.2 L268.1 220.7 L270.1 220.8 L272.1 220.2 L274.1 220.3 L276.1 219.7 L278.1 219.8 L279.8 219.5 L281.5 219.0 L283.1 218.2 L285.2 217.5 L287.2 216.6 L289.2 216.6 L291.2 216.8 L293.2 217.7 L295.2 218.6 L296.9 218.9 L298.6 219.4 L300.2 220.2 L301.9 220.6 L303.6 220.6 L305.3 220.6 L307.3 219.9 L309.3 219.2 L311.0 217.9 L312.3 216.2 L313.8 214.2 L315.3 212.2 L316.8 211.0 L318.1 209.6 L319.3 208.1 L320.5 206.8 L321.9 205.6 L323.3 204.5 L324.9 203.7" fill="none" stroke="#a4b822" stroke-width="2.3" stroke-linecap="round" stroke-linejoin="round"/>
<path d="M201.2 203.7 L202.2 205.0 L202.9 206.4 L204.7 207.1 L206.4 208.1 L208.6 207.8 L210.8 207.3 L212.6 207.2 L214.3 207.3 L216.1 208.1 L217.9 209.0 L219.8 210.0 L221.4 211.3 L223.5 212.4 L225.8 213.1 L228.0 213.9 L230.2 214.8 L232.4 215.4 L234.6 216.1 L236.8 216.4 L239.0 216.6 L241.6 217.8" fill="none" stroke="#9c1010" stroke-width="2.9" stroke-linecap="round" stroke-linejoin="round"/>
<path d="M241.6 217.8 L241.5 219.9 L242.0 221.9 L242.1 224.0 L241.6 226.0 L241.5 228.0 L241.4 230.0 L241.2 232.0 L241.1 234.0 L241.0 236.0 L241.1 238.1 L240.7 240.1 L241.4 242.1 L242.1 244.1 L243.8 246.0 L245.1 248.1 L246.8 249.9 L248.1 252.1 L249.5 253.2 L251.1 254.1 L253.2 254.4 L255.2 255.1 L257.2 255.8 L259.2 256.5 L260.3 257.9 L261.6 259.2 L261.9 261.5 L262.2 263.8 L263.7 264.1 L265.2 264.6 L266.7 264.4 L268.2 264.2 L269.2 265.7 L270.2 267.2 L270.0 269.7 L270.2 272.2 L270.1 274.2 L269.6 276.2 L272.2 277.2 L273.9 277.5 L275.7 277.8 L276.8 279.5 L277.7 281.3 L279.1 282.7 L280.3 284.3 L282.3 284.7 L284.3 284.7 L285.8 285.0 L287.3 285.3 L288.8 286.0 L290.3 286.7 L291.7 287.6 L293.3 288.3 L294.9 290.3" fill="none" stroke="#9c1010" stroke-width="2.3" stroke-linecap="round" stroke-linejoin="round"/>
<path d="M235.1 214.3 L236.3 211.7 L238.0 210.8 L239.8 210.2 L242.0 210.0 L244.2 210.2 L246.0 210.3 L247.8 210.8 L249.6 210.0 L251.3 209.0 L252.7 208.4 L253.9 207.3 L255.4 206.4 L256.6 205.2 L258.0 204.5 L259.5 203.1 L261.0 201.7 L262.5 201.2 L264.0 200.5 L265.5 201.5 L267.1 202.1 L268.6 201.7 L270.1 201.7 L271.8 201.0 L273.5 200.1 L274.9 199.5 L276.1 198.5 L276.3 196.3 L276.1 194.1 L276.4 192.4 L276.5 190.7 L276.7 189.0 L277.2 186.9 L278.1 185.0 L279.7 184.5 L281.1 183.6 L282.9 183.9 L284.7 184.4 L286.1 185.2 L287.6 185.6" fill="none" stroke="#e08a2c" stroke-width="0.8" stroke-linecap="round" stroke-linejoin="round"/>
<path d="M242.5 217.3 L243.6 218.9 L245.1 220.1 L246.9 221.1 L248.6 222.2 L250.4 222.8 L252.2 223.6 L253.9 223.9 L255.7 223.7 L257.9 223.3 L260.0 222.6 L262.0 221.9 L264.0 221.4 L266.1 221.2 L268.1 220.7 L270.1 220.8 L272.1 220.2 L274.1 220.3 L276.1 219.7 L278.1 219.8 L279.8 219.5 L281.5 219.0 L283.1 218.2 L285.2 217.5 L287.2 216.6 L289.2 216.6 L291.2 216.8 L293.2 217.7 L295.2 218.6 L296.9 218.9 L298.6 219.4 L300.2 220.2 L301.9 220.6 L303.6 220.6 L305.3 220.6 L307.3 219.9 L309.3 219.2 L311.0 217.9 L312.3 216.2 L313.8 214.2 L315.3 212.2 L316.8 211.0 L318.1 209.6 L319.3 208.1 L320.5 206.8 L321.9 205.6 L323.3 204.5 L324.9 203.7" fill="none" stroke="#d2e632" stroke-width="1.1" stroke-linecap="round" stroke-linejoin="round"/>
<path d="M201.2 203.7 L202.2 205.0 L202.9 206.4 L204.7 207.1 L206.4 208.1 L208.6 207.8 L210.8 207.3 L212.6 207.2 L214.3 207.3 L216.1 208.1 L217.9 209.0 L219.8 210.0 L221.4 211.3 L223.5 212.4 L225.8 213.1 L228.0 213.9 L230.2 214.8 L232.4 215.4 L234.6 216.1 L236.8 216.4 L239.0 216.6 L241.6 217.8" fill="none" stroke="#de2020" stroke-width="1.7" stroke-linecap="round" stroke-linejoin="round"/>
<path d="M241.6 217.8 L241.5 219.9 L242.0 221.9 L242.1 224.0 L241.6 226.0 L241.5 228.0 L241.4 230.0 L241.2 232.0 L241.1 234.0 L241.0 236.0 L241.1 238.1 L240.7 240.1 L241.4 242.1 L242.1 244.1 L243.8 246.0 L245.1 248.1 L246.8 249.9 L248.1 252.1 L249.5 253.2 L251.1 254.1 L253.2 254.4 L255.2 255.1 L257.2 255.8 L259.2 256.5 L260.3 257.9 L261.6 259.2 L261.9 261.5 L262.2 263.8 L263.7 264.1 L265.2 264.6 L266.7 264.4 L268.2 264.2 L269.2 265.7 L270.2 267.2 L270.0 269.7 L270.2 272.2 L270.1 274.2 L269.6 276.2 L272.2 277.2 L273.9 277.5 L275.7 277.8 L276.8 279.5 L277.7 281.3 L279.1 282.7 L280.3 284.3 L282.3 284.7 L284.3 284.7 L285.8 285.0 L287.3 285.3 L288.8 286.0 L290.3 286.7 L291.7 287.6 L293.3 288.3 L294.9 290.3" fill="none" stroke="#de2020" stroke-width="1.1" stroke-linecap="round" stroke-linejoin="round"/>
</g>
</svg></body></html>
